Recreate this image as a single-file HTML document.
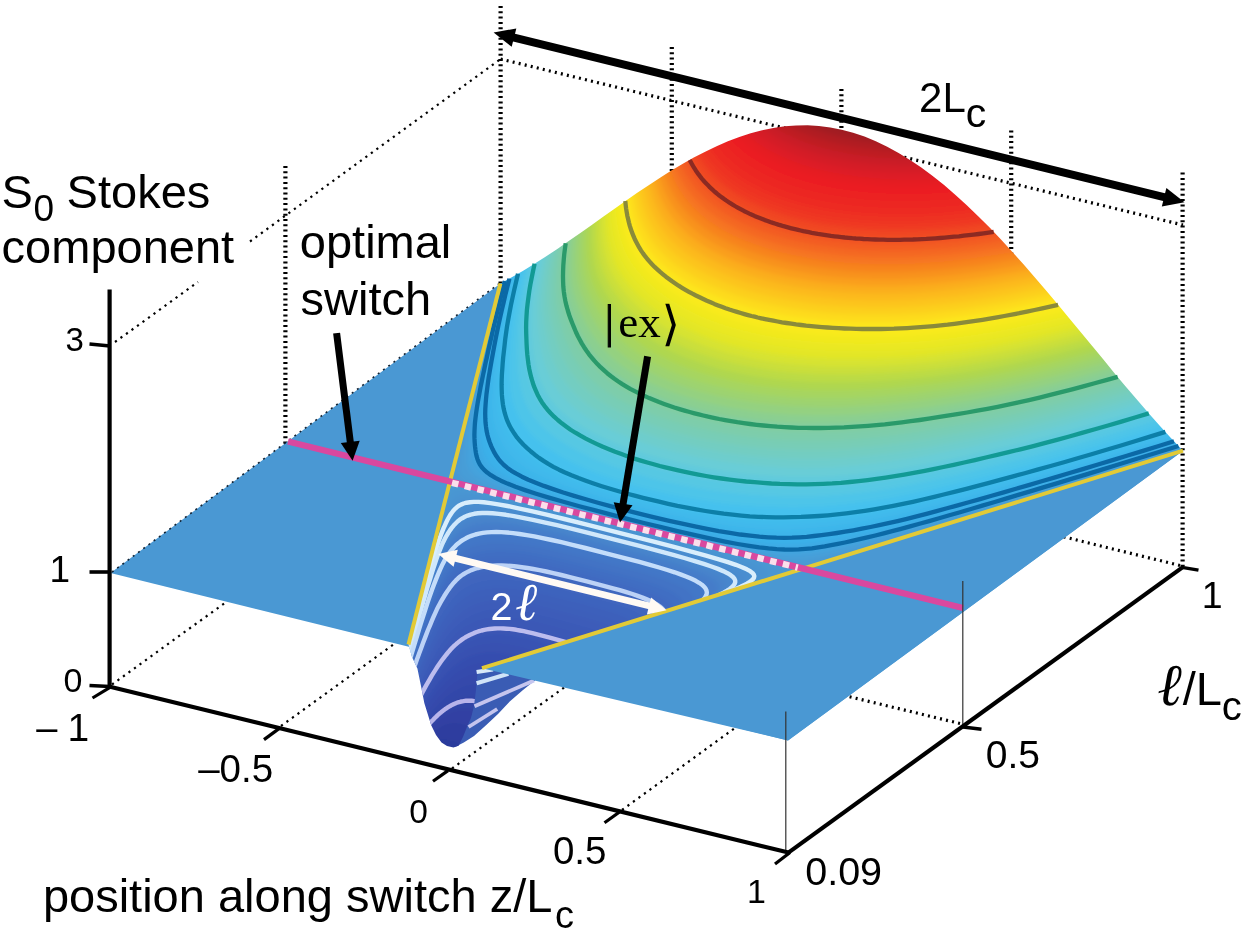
<!DOCTYPE html>
<html><head><meta charset="utf-8"><title>S0 Stokes component</title>
<style>
html,body{margin:0;padding:0;background:#fff}
svg{display:block}
</style></head><body>
<svg width="1250" height="933" viewBox="0 0 1250 933" font-family="Liberation Sans, sans-serif">
<rect width="1250" height="933" fill="#fff"/>
<defs><clipPath id="wc"><path d="M449.9,481.9 L408.5,644.5 L412.0,657.0 L417.4,668.6 L421.0,686.0 L424.3,703.0 L431.2,725.2 L436.0,735.0 L441.5,742.4 L447.0,746.0 L453.5,747.5 L458.6,745.8 L463.0,737.0 L467.0,727.0 L471.0,718.0 L474.0,706.0 L476.0,690.0 L477.5,672.0 L482.0,668.2 L797.8,570.2Z"/></clipPath><clipPath id="mc"><path d="M449.9,481.9 L500.4,283.5 L511.8,277.3 L523.2,270.7 L534.5,263.8 L545.9,256.5 L557.3,248.9 L568.7,241.1 L580.0,233.2 L591.4,225.2 L602.8,217.1 L614.2,209.0 L625.5,201.0 L636.9,193.1 L648.3,185.4 L659.7,178.0 L671.0,170.8 L682.4,164.0 L693.8,157.6 L705.2,151.7 L716.6,146.2 L727.9,141.3 L739.3,137.0 L750.7,133.3 L762.1,130.3 L773.4,127.9 L784.8,126.3 L796.2,125.4 L807.6,125.3 L818.9,126.0 L830.3,127.4 L841.7,129.7 L853.1,132.7 L864.5,136.6 L875.8,141.3 L887.2,146.7 L898.6,152.9 L910.0,159.9 L921.3,167.6 L932.7,176.0 L944.1,185.1 L955.5,194.9 L966.8,205.2 L978.2,216.2 L989.6,227.6 L1001.0,239.5 L1012.4,251.9 L1023.7,264.6 L1035.1,277.7 L1046.5,291.0 L1057.9,304.5 L1069.2,318.2 L1080.6,332.0 L1092.0,345.8 L1103.4,359.6 L1114.7,373.4 L1126.1,386.9 L1137.5,400.3 L1148.9,413.4 L1160.2,426.2 L1171.6,438.7 L1183.0,450.7 L797.8,570.2Z"/></clipPath><filter id="bl" x="-3%" y="-3%" width="106%" height="106%"><feGaussianBlur stdDeviation="2.2"/></filter></defs>
<line x1="115.0" y1="342.0" x2="198.0" y2="282.0" stroke="#000" stroke-width="2.20" stroke-dasharray="2.2,4.6"/>
<line x1="250.0" y1="241.5" x2="500.6" y2="59.0" stroke="#000" stroke-width="2.20" stroke-dasharray="2.2,4.6"/>
<line x1="500.6" y1="59.0" x2="1183.0" y2="225.0" stroke="#000" stroke-width="3.20" stroke-dasharray="2,4.2"/>
<line x1="285.4" y1="166.0" x2="285.4" y2="445.0" stroke="#000" stroke-width="4.20" stroke-dasharray="2,3.3"/>
<line x1="500.6" y1="6.0" x2="500.6" y2="284.0" stroke="#000" stroke-width="4.20" stroke-dasharray="2,3.3"/>
<line x1="671.8" y1="47.0" x2="671.8" y2="200.0" stroke="#000" stroke-width="4.20" stroke-dasharray="2,3.3"/>
<line x1="841.4" y1="89.0" x2="841.4" y2="150.0" stroke="#000" stroke-width="4.20" stroke-dasharray="2,3.3"/>
<line x1="1011.2" y1="130.5" x2="1011.2" y2="280.0" stroke="#000" stroke-width="4.20" stroke-dasharray="2,3.3"/>
<line x1="1182.6" y1="172.6" x2="1182.6" y2="566.0" stroke="#000" stroke-width="4.20" stroke-dasharray="2,3.3"/>
<line x1="112.0" y1="684.5" x2="240.0" y2="592.0" stroke="#000" stroke-width="2.20" stroke-dasharray="2.2,4.6"/>
<line x1="281.0" y1="726.0" x2="410.0" y2="632.5" stroke="#000" stroke-width="2.20" stroke-dasharray="2.2,4.6"/>
<line x1="452.0" y1="768.5" x2="580.0" y2="676.0" stroke="#000" stroke-width="2.20" stroke-dasharray="2.2,4.6"/>
<line x1="622.0" y1="810.0" x2="750.0" y2="717.0" stroke="#000" stroke-width="2.20" stroke-dasharray="2.2,4.6"/>
<line x1="960.0" y1="723.5" x2="830.0" y2="692.0" stroke="#000" stroke-width="3.20" stroke-dasharray="2,4.2"/>
<line x1="1180.0" y1="565.5" x2="1040.0" y2="531.0" stroke="#000" stroke-width="3.20" stroke-dasharray="2,4.2"/>
<path d="M110.5,573.0 L788.0,740.5 L1183.0,450.7 L500.4,283.5Z" fill="#4a98d3"/>
<line x1="112.0" y1="572.0" x2="500.0" y2="283.0" stroke="#123" stroke-width="1.60" stroke-dasharray="2,4.5"/>
<g clip-path="url(#mc)"><g filter="url(#bl)">
<path d="M429.1,497.7 L469.6,254.9 L863.5,-37.1 L1257.3,447.5 L775.0,586.2Z" fill="#4a98d3"/>
<path d="M506.2,263.3 L502.2,278.9 L498.4,293.9 L494.7,308.3 L491.3,322.0 L488.0,335.2 L484.8,347.7 L481.9,359.6 L479.1,370.9 L476.4,381.6 L473.9,391.8 L471.6,401.3 L469.5,410.3 L467.5,418.6 L465.7,426.5 L464.1,433.8 L462.7,440.5 L461.4,446.7 L460.4,452.4 L459.5,457.5 L458.9,462.2 L458.6,466.4 L458.9,470.2 L459.7,473.6 L461.7,476.8 L465.3,480.0 L472.0,483.4 L484.9,488.0 L510.6,495.4 L559.2,508.2 L624.6,524.9 L690.2,541.4 L739.8,553.6 L767.3,559.7 L782.9,562.3 L793.2,563.1 L801.4,562.9 L808.9,562.0 L816.4,560.6 L824.4,558.8 L833.0,556.6 L842.3,554.0 L852.5,551.0 L863.7,547.8 L875.9,544.2 L889.1,540.2 L903.4,535.9 L918.7,531.3 L935.1,526.3 L952.5,520.9 L971.1,515.2 L990.8,509.2 L1011.6,502.7 L1033.6,496.0 L1056.8,488.8 L1081.1,481.3 L1106.7,473.4 L1133.4,465.1 L1161.3,456.4 L1190.4,447.4 L1220.8,438.0 L1191.0,405.0 L1161.2,368.9 L1131.5,330.8 L1101.7,291.9 L1071.9,253.2 L1042.1,216.1 L1012.4,181.4 L982.6,150.4 L952.8,123.8 L923.0,102.3 L893.3,86.4 L863.5,76.6 L833.7,72.7 L803.9,74.8 L774.2,82.4 L744.4,95.0 L714.6,111.8 L684.8,132.0 L655.1,154.5 L625.3,178.3 L595.5,202.2 L565.7,225.0 L536.0,245.7Z" fill="#479dd7"/>
<path d="M507.6,262.5 L503.7,278.0 L499.9,293.0 L496.3,307.2 L492.9,320.9 L489.7,334.0 L486.7,346.5 L483.9,358.3 L481.2,369.6 L478.7,380.3 L476.4,390.4 L474.3,399.9 L472.4,408.9 L470.7,417.3 L469.3,425.2 L468.2,432.5 L467.3,439.4 L466.7,445.7 L466.3,451.5 L466.2,456.8 L466.5,461.7 L467.5,466.2 L469.5,470.4 L472.9,474.4 L478.2,478.5 L486.4,482.8 L499.3,487.8 L519.1,494.1 L548.2,502.3 L586.4,512.5 L626.1,522.7 L666.1,532.7 L705.3,542.2 L736.1,549.1 L758.5,553.5 L775.0,555.9 L787.8,556.9 L798.6,556.9 L808.6,556.1 L818.2,554.7 L828.0,552.8 L838.2,550.5 L849.1,547.8 L860.9,544.7 L873.7,541.3 L887.4,537.5 L902.0,533.3 L917.5,528.8 L934.1,523.9 L951.7,518.7 L970.4,513.0 L990.1,507.1 L1011.0,500.7 L1033.0,494.0 L1056.1,486.9 L1080.4,479.5 L1105.8,471.6 L1132.4,463.4 L1160.2,454.8 L1189.2,445.8 L1219.3,436.5 L1189.7,403.5 L1160.0,367.4 L1130.4,329.4 L1100.7,290.6 L1071.1,252.2 L1041.4,215.2 L1011.8,180.8 L982.1,149.9 L952.4,123.5 L922.8,102.1 L893.1,86.4 L863.5,76.6 L833.8,72.7 L804.2,74.7 L774.5,82.2 L744.9,94.7 L715.2,111.4 L685.6,131.5 L655.9,153.8 L626.2,177.5 L596.6,201.3 L566.9,224.1 L537.3,244.9Z" fill="#44a2dc"/>
<path d="M509.1,261.7 L505.1,277.2 L501.4,292.0 L497.9,306.2 L494.5,319.8 L491.4,332.8 L488.5,345.2 L485.8,357.1 L483.3,368.3 L481.0,378.9 L478.9,389.0 L477.0,398.5 L475.3,407.5 L473.9,415.9 L472.8,423.8 L472.1,431.3 L471.7,438.2 L471.7,444.6 L472.0,450.5 L472.6,456.0 L473.7,461.0 L475.7,465.8 L479.0,470.3 L484.0,474.7 L491.3,479.3 L501.9,484.1 L516.9,489.7 L537.6,496.2 L564.6,503.9 L596.5,512.5 L627.6,520.5 L658.9,528.3 L691.7,536.2 L720.5,542.6 L743.9,547.2 L762.5,550.1 L777.6,551.7 L790.4,552.2 L801.9,551.9 L812.9,550.9 L823.6,549.2 L834.5,547.1 L846.0,544.6 L858.4,541.7 L871.6,538.4 L885.7,534.8 L900.7,530.8 L916.5,526.4 L933.2,521.6 L950.9,516.4 L969.7,510.9 L989.4,504.9 L1010.3,498.7 L1032.3,492.0 L1055.4,485.0 L1079.7,477.6 L1105.0,469.9 L1131.5,461.7 L1159.1,453.2 L1187.9,444.3 L1217.9,435.0 L1188.4,401.9 L1158.8,365.9 L1129.3,328.0 L1099.8,289.4 L1070.2,251.1 L1040.7,214.3 L1011.2,180.1 L981.6,149.4 L952.1,123.2 L922.6,102.0 L893.0,86.3 L863.5,76.6 L833.9,72.7 L804.4,74.7 L774.9,82.1 L745.3,94.5 L715.8,111.0 L686.3,130.9 L656.7,153.2 L627.2,176.7 L597.7,200.4 L568.1,223.2 L538.6,244.0Z" fill="#40a6e0"/>
<path d="M510.5,261.0 L506.6,276.3 L502.9,291.0 L499.4,305.2 L496.1,318.7 L493.1,331.6 L490.3,344.0 L487.8,355.8 L485.4,367.0 L483.2,377.6 L481.3,387.6 L479.6,397.1 L478.1,406.1 L477.0,414.5 L476.3,422.5 L475.9,429.9 L476.0,436.9 L476.5,443.5 L477.4,449.5 L478.6,455.1 L480.5,460.3 L483.2,465.2 L487.5,469.9 L493.6,474.6 L502.2,479.5 L513.9,484.6 L529.7,490.3 L550.0,496.8 L574.9,503.9 L602.7,511.4 L629.1,518.3 L655.7,524.9 L684.5,531.7 L711.0,537.6 L734.0,542.1 L753.3,545.2 L769.6,547.1 L783.6,548.0 L796.3,547.9 L808.1,547.1 L819.5,545.7 L831.1,543.8 L843.2,541.4 L856.1,538.7 L869.8,535.6 L884.2,532.1 L899.5,528.2 L915.5,523.9 L932.4,519.2 L950.2,514.1 L969.0,508.7 L988.8,502.8 L1009.7,496.6 L1031.6,490.1 L1054.7,483.1 L1078.9,475.8 L1104.2,468.1 L1130.6,460.0 L1158.0,451.6 L1186.7,442.7 L1216.5,433.4 L1187.1,400.4 L1157.6,364.4 L1128.2,326.6 L1098.8,288.1 L1069.4,250.0 L1040.0,213.5 L1010.6,179.5 L981.1,149.0 L951.7,122.9 L922.3,101.8 L892.9,86.3 L863.5,76.6 L834.1,72.7 L804.6,74.7 L775.2,82.0 L745.8,94.2 L716.4,110.7 L687.0,130.4 L657.6,152.5 L628.2,176.0 L598.7,199.6 L569.3,222.3 L539.9,243.1Z" fill="#3dabe5"/>
<path d="M511.9,260.2 L508.0,275.4 L504.4,290.1 L500.9,304.1 L497.7,317.6 L494.8,330.4 L492.1,342.7 L489.7,354.5 L487.5,365.6 L485.5,376.2 L483.7,386.2 L482.2,395.7 L480.9,404.7 L480.1,413.1 L479.6,421.1 L479.7,428.6 L480.2,435.7 L481.2,442.3 L482.7,448.4 L484.5,454.1 L486.9,459.5 L490.3,464.5 L495.2,469.4 L502.1,474.3 L511.5,479.3 L523.8,484.6 L539.7,490.3 L559.3,496.5 L582.3,503.2 L607.2,510.0 L630.6,516.0 L654.1,521.9 L680.0,528.0 L704.7,533.4 L727.0,537.7 L746.3,540.9 L763.1,542.9 L777.9,544.0 L791.3,544.1 L803.7,543.5 L815.7,542.3 L827.9,540.5 L840.5,538.3 L853.9,535.8 L868.1,532.8 L882.8,529.5 L898.3,525.7 L914.6,521.5 L931.6,516.9 L949.5,511.9 L968.4,506.5 L988.2,500.7 L1009.1,494.6 L1031.0,488.1 L1054.1,481.3 L1078.2,474.0 L1103.4,466.4 L1129.6,458.4 L1157.0,449.9 L1185.5,441.1 L1215.1,431.9 L1185.8,398.8 L1156.5,362.9 L1127.2,325.3 L1097.9,286.9 L1068.6,249.0 L1039.3,212.6 L1010.0,178.8 L980.7,148.5 L951.4,122.6 L922.1,101.7 L892.8,86.2 L863.5,76.6 L834.2,72.7 L804.9,74.6 L775.6,81.9 L746.3,94.0 L717.0,110.3 L687.7,129.9 L658.4,151.9 L629.1,175.2 L599.8,198.8 L570.5,221.5 L541.2,242.3Z" fill="#3ab0e9"/>
<path d="M513.3,259.4 L509.5,274.6 L505.9,289.1 L502.5,303.1 L499.3,316.4 L496.5,329.2 L493.9,341.5 L491.7,353.2 L489.6,364.3 L487.7,374.8 L486.0,384.8 L484.7,394.3 L483.7,403.3 L483.1,411.7 L482.9,419.7 L483.3,427.2 L484.2,434.3 L485.7,441.0 L487.7,447.3 L490.1,453.1 L493.1,458.5 L497.0,463.7 L502.4,468.7 L509.9,473.7 L519.7,478.8 L532.3,484.1 L548.0,489.8 L566.8,495.8 L588.2,502.1 L611.0,508.3 L632.1,513.8 L653.4,519.1 L677.1,524.6 L700.3,529.6 L721.7,533.8 L740.8,536.9 L757.9,539.0 L773.1,540.2 L787.0,540.5 L799.8,540.0 L812.3,538.9 L825.0,537.3 L838.1,535.3 L852.0,532.9 L866.5,530.1 L881.6,526.9 L897.3,523.2 L913.7,519.1 L930.9,514.6 L948.9,509.6 L967.8,504.3 L987.6,498.7 L1008.5,492.6 L1030.4,486.2 L1053.5,479.4 L1077.6,472.2 L1102.6,464.6 L1128.7,456.7 L1155.9,448.3 L1184.2,439.6 L1213.7,430.4 L1184.5,397.3 L1155.3,361.5 L1126.1,323.9 L1096.9,285.7 L1067.8,247.9 L1038.6,211.8 L1009.4,178.2 L980.2,148.1 L951.0,122.3 L921.8,101.5 L892.7,86.2 L863.5,76.6 L834.3,72.7 L805.1,74.6 L775.9,81.8 L746.8,93.8 L717.6,109.9 L688.4,129.4 L659.2,151.3 L630.0,174.5 L600.8,197.9 L571.7,220.6 L542.5,241.4Z" fill="#3bb2ea"/>
<path d="M514.7,258.6 L510.9,273.7 L507.3,288.1 L504.0,302.0 L500.9,315.3 L498.2,328.0 L495.7,340.2 L493.6,351.9 L491.6,362.9 L489.9,373.5 L488.4,383.4 L487.2,392.9 L486.4,401.8 L486.0,410.3 L486.1,418.3 L486.8,425.8 L488.1,433.0 L490.0,439.7 L492.5,446.1 L495.5,452.0 L499.0,457.5 L503.4,462.8 L509.2,467.9 L516.9,472.9 L527.0,478.1 L539.6,483.4 L555.0,489.0 L573.0,494.8 L593.1,500.7 L614.2,506.5 L633.6,511.6 L653.2,516.4 L675.2,521.5 L697.0,526.2 L717.6,530.1 L736.4,533.2 L753.5,535.3 L768.9,536.5 L783.1,536.9 L796.3,536.6 L809.2,535.6 L822.3,534.2 L835.9,532.3 L850.2,530.1 L865.1,527.4 L880.5,524.3 L896.4,520.7 L913.0,516.7 L930.2,512.2 L948.3,507.4 L967.2,502.2 L987.1,496.6 L1008.0,490.6 L1029.9,484.2 L1052.9,477.5 L1076.9,470.4 L1101.9,462.9 L1127.9,455.0 L1154.9,446.7 L1183.0,438.0 L1212.3,428.9 L1183.2,395.8 L1154.1,360.0 L1125.1,322.5 L1096.0,284.5 L1066.9,246.9 L1037.9,210.9 L1008.8,177.5 L979.7,147.6 L950.7,122.0 L921.6,101.4 L892.5,86.1 L863.5,76.6 L834.4,72.7 L805.4,74.5 L776.3,81.7 L747.2,93.6 L718.2,109.6 L689.1,128.9 L660.0,150.6 L631.0,173.7 L601.9,197.1 L572.8,219.7 L543.8,240.6Z" fill="#3cb4ea"/>
<path d="M516.1,257.9 L512.3,272.8 L508.8,287.2 L505.5,300.9 L502.5,314.2 L499.8,326.8 L497.5,339.0 L495.5,350.6 L493.6,361.6 L492.0,372.1 L490.7,382.0 L489.7,391.4 L489.1,400.3 L488.9,408.8 L489.2,416.8 L490.2,424.4 L491.8,431.6 L494.1,438.4 L497.1,444.8 L500.6,450.9 L504.6,456.5 L509.5,461.8 L515.6,466.9 L523.5,472.0 L533.7,477.2 L546.3,482.5 L561.2,488.0 L578.5,493.6 L597.4,499.2 L617.1,504.6 L635.1,509.3 L653.4,513.8 L674.0,518.6 L694.6,522.9 L714.4,526.7 L732.8,529.6 L749.8,531.8 L765.3,533.0 L779.5,533.5 L793.0,533.2 L806.3,532.4 L819.9,531.1 L834.0,529.4 L848.7,527.3 L863.8,524.7 L879.4,521.7 L895.6,518.2 L912.3,514.3 L929.6,509.9 L947.7,505.2 L966.7,500.0 L986.6,494.5 L1007.4,488.6 L1029.3,482.3 L1052.3,475.6 L1076.2,468.6 L1101.1,461.1 L1127.0,453.3 L1153.9,445.1 L1181.8,436.4 L1210.9,427.4 L1181.9,394.3 L1153.0,358.5 L1124.0,321.2 L1095.1,283.3 L1066.1,245.9 L1037.2,210.1 L1008.2,176.9 L979.3,147.2 L950.3,121.8 L921.4,101.2 L892.4,86.1 L863.5,76.6 L834.5,72.7 L805.6,74.5 L776.6,81.5 L747.7,93.3 L718.7,109.2 L689.8,128.4 L660.8,150.0 L631.9,173.0 L602.9,196.3 L574.0,218.8 L545.0,239.7Z" fill="#3eb6ea"/>
<path d="M517.4,257.1 L513.7,271.9 L510.2,286.2 L507.0,299.9 L504.1,313.0 L501.5,325.6 L499.2,337.7 L497.3,349.2 L495.6,360.2 L494.2,370.6 L493.0,380.6 L492.2,389.9 L491.7,398.9 L491.7,407.3 L492.3,415.3 L493.5,422.9 L495.4,430.1 L498.1,437.0 L501.5,443.5 L505.5,449.6 L510.0,455.3 L515.3,460.7 L521.7,465.9 L529.8,471.0 L539.9,476.2 L552.3,481.4 L566.8,486.8 L583.4,492.2 L601.3,497.5 L619.8,502.6 L636.7,507.0 L653.8,511.2 L673.2,515.7 L692.8,519.8 L711.8,523.4 L729.8,526.3 L746.6,528.3 L762.0,529.6 L776.3,530.1 L790.1,529.9 L803.7,529.2 L817.7,528.0 L832.3,526.5 L847.3,524.5 L862.7,522.0 L878.5,519.1 L894.8,515.7 L911.6,511.9 L929.1,507.6 L947.2,502.9 L966.2,497.8 L986.1,492.4 L1007.0,486.5 L1028.8,480.3 L1051.7,473.7 L1075.6,466.8 L1100.4,459.4 L1126.1,451.6 L1152.8,443.4 L1180.6,434.9 L1209.5,425.9 L1180.7,392.8 L1151.8,357.1 L1123.0,319.8 L1094.2,282.1 L1065.3,244.9 L1036.5,209.3 L1007.7,176.3 L978.8,146.8 L950.0,121.5 L921.2,101.1 L892.3,86.0 L863.5,76.6 L834.6,72.7 L805.8,74.5 L777.0,81.4 L748.1,93.1 L719.3,108.9 L690.5,127.9 L661.6,149.4 L632.8,172.2 L604.0,195.4 L575.1,218.0 L546.3,238.8Z" fill="#3fb8eb"/>
<path d="M518.8,256.3 L515.1,271.0 L511.7,285.2 L508.5,298.8 L505.6,311.9 L503.1,324.4 L501.0,336.4 L499.2,347.9 L497.6,358.8 L496.3,369.2 L495.3,379.1 L494.6,388.5 L494.3,397.3 L494.5,405.8 L495.2,413.8 L496.7,421.4 L498.9,428.6 L501.9,435.5 L505.7,442.1 L510.2,448.3 L515.2,454.1 L520.9,459.6 L527.6,464.8 L535.8,469.9 L545.8,475.0 L557.9,480.2 L572.0,485.4 L587.8,490.6 L604.9,495.8 L622.3,500.6 L638.2,504.8 L654.4,508.7 L672.7,512.9 L691.4,516.8 L709.8,520.2 L727.3,523.0 L743.7,525.0 L759.0,526.2 L773.4,526.8 L787.4,526.7 L801.4,526.1 L815.8,525.1 L830.8,523.6 L846.1,521.8 L861.8,519.4 L877.8,516.6 L894.2,513.3 L911.1,509.5 L928.6,505.3 L946.8,500.7 L965.8,495.7 L985.7,490.3 L1006.5,484.5 L1028.3,478.4 L1051.2,471.9 L1075.0,465.0 L1099.6,457.7 L1125.2,449.9 L1151.8,441.8 L1179.5,433.3 L1208.2,424.4 L1179.4,391.3 L1150.7,355.6 L1122.0,318.5 L1093.3,280.9 L1064.5,243.9 L1035.8,208.5 L1007.1,175.7 L978.4,146.3 L949.7,121.2 L920.9,101.0 L892.2,86.0 L863.5,76.6 L834.8,72.7 L806.0,74.4 L777.3,81.3 L748.6,92.9 L719.9,108.5 L691.1,127.5 L662.4,148.8 L633.7,171.5 L605.0,194.6 L576.3,217.1 L547.5,238.0Z" fill="#40baec"/>
<path d="M520.2,255.5 L516.5,270.1 L513.1,284.2 L510.0,297.7 L507.2,310.7 L504.7,323.2 L502.7,335.1 L501.0,346.5 L499.6,357.4 L498.4,367.8 L497.5,377.6 L497.0,386.9 L496.8,395.8 L497.2,404.2 L498.2,412.2 L499.8,419.8 L502.3,427.1 L505.6,434.0 L509.7,440.6 L514.6,446.9 L520.1,452.8 L526.2,458.4 L533.2,463.6 L541.5,468.8 L551.4,473.8 L563.1,478.9 L576.8,483.9 L592.0,489.0 L608.2,493.9 L624.7,498.5 L639.8,502.5 L655.1,506.2 L672.5,510.2 L690.4,513.9 L708.1,517.1 L725.1,519.7 L741.2,521.7 L756.3,522.9 L770.8,523.5 L785.1,523.5 L799.4,523.0 L814.2,522.1 L829.5,520.8 L845.1,519.0 L861.0,516.8 L877.1,514.0 L893.7,510.8 L910.6,507.1 L928.2,503.0 L946.4,498.5 L965.4,493.5 L985.3,488.2 L1006.1,482.5 L1027.9,476.4 L1050.7,470.0 L1074.4,463.2 L1098.9,455.9 L1124.4,448.3 L1150.8,440.2 L1178.3,431.8 L1206.8,422.9 L1178.2,389.8 L1149.6,354.2 L1121.0,317.2 L1092.4,279.7 L1063.8,242.9 L1035.1,207.7 L1006.5,175.0 L977.9,145.9 L949.3,121.0 L920.7,100.8 L892.1,85.9 L863.5,76.6 L834.9,72.8 L806.3,74.4 L777.7,81.2 L749.0,92.7 L720.4,108.2 L691.8,127.0 L663.2,148.2 L634.6,170.8 L606.0,193.8 L577.4,216.3 L548.8,237.1Z" fill="#41bbec"/>
<path d="M521.5,254.7 L517.9,269.2 L514.6,283.2 L511.5,296.6 L508.7,309.5 L506.4,321.9 L504.4,333.8 L502.9,345.2 L501.6,356.0 L500.5,366.3 L499.7,376.1 L499.3,385.4 L499.3,394.2 L499.9,402.6 L501.0,410.6 L502.9,418.2 L505.6,425.5 L509.1,432.5 L513.5,439.1 L518.8,445.4 L524.7,451.4 L531.2,457.0 L538.5,462.4 L547.0,467.5 L556.8,472.5 L568.3,477.5 L581.3,482.4 L595.9,487.3 L611.4,492.0 L627.1,496.4 L641.4,500.2 L655.9,503.7 L672.6,507.5 L689.7,511.0 L706.7,514.1 L723.2,516.5 L738.8,518.4 L753.9,519.6 L768.5,520.3 L783.0,520.4 L797.7,520.0 L812.9,519.2 L828.5,518.0 L844.3,516.4 L860.3,514.2 L876.6,511.5 L893.2,508.4 L910.2,504.8 L927.8,500.7 L946.1,496.2 L965.1,491.4 L985.0,486.1 L1005.7,480.5 L1027.5,474.5 L1050.2,468.1 L1073.8,461.3 L1098.3,454.2 L1123.6,446.6 L1149.9,438.6 L1177.1,430.2 L1205.5,421.5 L1177.0,388.3 L1148.5,352.8 L1120.0,315.8 L1091.5,278.5 L1063.0,241.9 L1034.5,206.9 L1006.0,174.4 L977.5,145.5 L949.0,120.7 L920.5,100.7 L892.0,85.9 L863.5,76.6 L835.0,72.8 L806.5,74.4 L778.0,81.1 L749.5,92.5 L721.0,107.9 L692.5,126.5 L664.0,147.6 L635.5,170.1 L607.0,193.0 L578.5,215.4 L550.0,236.3Z" fill="#42bdec"/>
<path d="M522.2,254.3 L518.6,268.8 L515.3,282.7 L512.2,296.1 L509.5,309.0 L507.2,321.3 L505.3,333.1 L503.8,344.5 L502.5,355.3 L501.5,365.6 L500.8,375.3 L500.5,384.6 L500.6,393.5 L501.2,401.8 L502.4,409.8 L504.4,417.4 L507.1,424.7 L510.8,431.7 L515.3,438.3 L520.8,444.7 L526.9,450.7 L533.6,456.3 L541.1,461.7 L549.6,466.8 L559.5,471.8 L570.8,476.8 L583.6,481.6 L597.8,486.4 L612.9,491.0 L628.3,495.4 L642.2,499.0 L656.4,502.5 L672.6,506.1 L689.4,509.5 L706.1,512.5 L722.2,515.0 L737.8,516.8 L752.8,518.0 L767.5,518.7 L782.1,518.8 L797.0,518.5 L812.3,517.8 L828.0,516.7 L843.9,515.0 L860.0,512.9 L876.4,510.3 L893.0,507.2 L910.1,503.6 L927.7,499.6 L946.0,495.1 L965.0,490.3 L984.8,485.1 L1005.6,479.5 L1027.3,473.5 L1050.0,467.2 L1073.6,460.4 L1097.9,453.3 L1123.2,445.7 L1149.4,437.8 L1176.6,429.4 L1204.8,420.7 L1176.3,387.6 L1147.9,352.1 L1119.5,315.2 L1091.0,278.0 L1062.6,241.4 L1034.1,206.5 L1005.7,174.1 L977.3,145.3 L948.8,120.6 L920.4,100.6 L891.9,85.9 L863.5,76.6 L835.0,72.8 L806.6,74.4 L778.2,81.0 L749.7,92.4 L721.3,107.7 L692.8,126.3 L664.4,147.3 L635.9,169.7 L607.5,192.6 L579.1,215.0 L550.6,235.8Z" fill="#45c1ee"/>
<path d="M527.5,251.1 L524.1,265.1 L521.0,278.7 L518.1,291.6 L515.6,304.1 L513.6,316.1 L512.0,327.7 L510.9,338.7 L510.2,349.3 L509.6,359.4 L509.4,369.0 L509.6,378.1 L510.2,386.7 L511.3,395.0 L513.0,402.9 L515.5,410.4 L518.8,417.6 L523.1,424.5 L528.3,431.2 L534.5,437.5 L541.7,443.7 L549.8,449.6 L558.4,455.1 L567.7,460.3 L577.7,465.3 L588.5,470.0 L600.0,474.5 L612.3,478.8 L625.0,482.7 L637.7,486.4 L649.2,489.4 L660.9,492.2 L674.5,495.2 L688.7,498.0 L703.4,500.5 L718.2,502.7 L733.1,504.4 L748.1,505.7 L763.3,506.6 L778.9,507.1 L794.9,507.2 L811.0,506.8 L827.1,505.9 L843.4,504.5 L859.7,502.6 L876.2,500.3 L892.9,497.4 L909.9,494.1 L927.5,490.3 L945.7,486.1 L964.6,481.6 L984.3,476.6 L1004.8,471.3 L1026.3,465.6 L1048.7,459.6 L1071.8,453.1 L1095.6,446.2 L1120.2,439.0 L1145.7,431.3 L1172.1,423.2 L1199.5,414.8 L1171.5,381.7 L1143.5,346.4 L1115.5,310.0 L1087.5,273.4 L1059.5,237.5 L1031.5,203.3 L1003.5,171.8 L975.5,143.6 L947.5,119.5 L919.5,100.1 L891.5,85.7 L863.5,76.6 L835.5,72.8 L807.5,74.2 L779.5,80.6 L751.5,91.5 L723.5,106.4 L695.5,124.4 L667.5,144.9 L639.5,166.9 L611.5,189.4 L583.5,211.6 L555.5,232.4Z" fill="#4dc5e9"/>
<path d="M532.6,247.9 L529.4,261.4 L526.5,274.5 L523.9,287.1 L521.7,299.2 L519.9,310.8 L518.6,322.0 L517.9,332.7 L517.5,343.0 L517.4,352.9 L517.6,362.2 L518.1,371.1 L519.1,379.6 L520.6,387.6 L522.7,395.3 L525.4,402.7 L528.9,409.7 L533.4,416.4 L538.7,422.9 L545.0,429.2 L552.3,435.2 L560.5,440.9 L569.5,446.5 L579.4,451.7 L589.8,456.7 L600.6,461.4 L611.8,465.7 L623.2,469.7 L634.8,473.4 L646.3,476.7 L656.6,479.4 L667.2,481.9 L679.5,484.6 L692.6,487.1 L706.4,489.5 L720.7,491.5 L735.5,493.3 L750.7,494.7 L766.3,495.8 L782.1,496.5 L797.9,496.6 L813.7,496.4 L829.6,495.6 L845.6,494.3 L861.7,492.6 L877.9,490.4 L894.4,487.7 L911.2,484.6 L928.6,481.0 L946.6,477.1 L965.2,472.8 L984.6,468.1 L1004.8,463.1 L1026.0,457.7 L1047.9,451.9 L1070.4,445.8 L1093.6,439.2 L1117.5,432.2 L1142.2,424.8 L1167.8,417.0 L1194.4,408.9 L1166.8,375.8 L1139.2,340.9 L1111.6,304.9 L1084.1,268.9 L1056.5,233.7 L1028.9,200.3 L1001.3,169.5 L973.8,142.0 L946.2,118.5 L918.6,99.6 L891.1,85.5 L863.5,76.6 L835.9,72.8 L808.3,74.1 L780.8,80.2 L753.2,90.8 L725.6,105.1 L698.0,122.7 L670.5,142.6 L642.9,164.1 L615.3,186.3 L587.8,208.2 L560.2,229.1Z" fill="#56c8e3"/>
<path d="M537.7,244.6 L534.7,257.7 L532.0,270.4 L529.6,282.5 L527.6,294.3 L526.0,305.5 L525.0,316.4 L524.5,326.8 L524.5,336.9 L524.8,346.5 L525.4,355.6 L526.3,364.3 L527.6,372.5 L529.4,380.4 L531.7,387.9 L534.7,395.1 L538.3,401.9 L542.8,408.5 L548.1,414.8 L554.3,420.9 L561.4,426.7 L569.3,432.3 L578.0,437.6 L587.5,442.7 L597.6,447.5 L608.3,452.0 L619.5,456.3 L630.9,460.3 L642.4,463.9 L653.6,467.1 L663.7,469.7 L673.9,472.2 L686.0,474.8 L698.9,477.3 L712.6,479.6 L726.7,481.7 L741.3,483.5 L756.1,484.9 L771.1,485.9 L786.3,486.5 L801.6,486.7 L817.0,486.4 L832.5,485.7 L848.0,484.5 L863.7,482.9 L879.6,480.8 L895.8,478.3 L912.5,475.3 L929.6,472.0 L947.3,468.3 L965.7,464.2 L984.8,459.8 L1004.8,455.0 L1025.5,449.9 L1047.0,444.4 L1068.9,438.5 L1091.5,432.2 L1114.7,425.4 L1138.7,418.3 L1163.6,410.8 L1189.3,403.0 L1162.1,370.1 L1135.0,335.4 L1107.8,300.0 L1080.7,264.5 L1053.5,230.1 L1026.4,197.4 L999.2,167.3 L972.1,140.4 L944.9,117.6 L917.8,99.1 L890.6,85.3 L863.5,76.6 L836.3,72.8 L809.2,74.0 L782.0,79.9 L754.9,90.0 L727.7,103.9 L700.6,120.9 L673.4,140.4 L646.3,161.4 L619.1,183.2 L592.0,204.9 L564.8,225.7Z" fill="#60cadd"/>
<path d="M542.6,241.3 L539.8,254.1 L537.4,266.4 L535.1,278.2 L533.3,289.5 L532.0,300.5 L531.1,311.1 L531.0,321.3 L531.3,331.1 L532.0,340.4 L532.9,349.4 L534.1,357.9 L535.7,366.0 L537.8,373.7 L540.4,381.1 L543.6,388.1 L547.4,394.8 L551.9,401.2 L557.2,407.4 L563.4,413.3 L570.4,418.9 L578.1,424.3 L586.6,429.5 L595.9,434.4 L605.7,439.1 L616.1,443.5 L626.9,447.6 L637.9,451.4 L649.0,454.9 L660.0,458.1 L669.8,460.6 L679.9,463.1 L691.6,465.6 L704.2,468.0 L717.4,470.3 L731.1,472.3 L745.2,474.0 L759.6,475.3 L774.2,476.3 L788.9,477.0 L803.9,477.1 L818.9,476.9 L834.0,476.3 L849.3,475.1 L864.7,473.6 L880.3,471.6 L896.4,469.3 L912.8,466.5 L929.8,463.4 L947.3,459.9 L965.5,456.0 L984.4,451.8 L1004.1,447.3 L1024.6,442.4 L1045.6,437.1 L1067.0,431.4 L1089.0,425.3 L1111.7,418.8 L1135.1,411.9 L1159.3,404.7 L1184.3,397.2 L1157.6,364.4 L1130.9,330.1 L1104.1,295.1 L1077.4,260.3 L1050.6,226.5 L1023.9,194.5 L997.2,165.1 L970.4,138.9 L943.7,116.6 L917.0,98.6 L890.2,85.2 L863.5,76.6 L836.7,72.8 L810.0,73.9 L783.3,79.5 L756.5,89.3 L729.8,102.7 L703.1,119.3 L676.3,138.2 L649.6,158.8 L622.8,180.2 L596.1,201.7 L569.4,222.3Z" fill="#69cdd7"/>
<path d="M547.5,238.0 L544.9,250.4 L542.6,262.4 L540.6,273.8 L539.0,284.9 L537.8,295.6 L537.2,305.9 L537.2,315.8 L537.8,325.4 L538.9,334.6 L540.1,343.4 L541.7,351.7 L543.6,359.6 L546.0,367.2 L548.8,374.4 L552.2,381.3 L556.2,387.9 L560.8,394.2 L566.1,400.2 L572.2,405.9 L579.1,411.5 L586.7,416.7 L595.0,421.8 L604.0,426.5 L613.5,431.1 L623.6,435.3 L634.0,439.3 L644.7,443.0 L655.5,446.4 L666.0,449.4 L675.6,451.9 L685.3,454.2 L696.6,456.7 L708.8,459.1 L721.6,461.2 L734.9,463.1 L748.5,464.8 L762.5,466.1 L776.7,467.1 L791.1,467.7 L805.6,467.9 L820.3,467.7 L835.1,467.0 L850.0,466.0 L865.2,464.6 L880.7,462.7 L896.6,460.5 L912.9,457.9 L929.7,455.0 L947.0,451.6 L965.0,448.0 L983.7,444.0 L1003.2,439.7 L1023.4,435.0 L1044.0,429.9 L1065.0,424.4 L1086.5,418.5 L1108.6,412.3 L1131.4,405.6 L1155.1,398.7 L1179.5,391.3 L1153.1,358.7 L1126.8,324.8 L1100.5,290.3 L1074.1,256.1 L1047.8,223.0 L1021.5,191.7 L995.1,163.0 L968.8,137.5 L942.5,115.7 L916.1,98.1 L889.8,85.0 L863.5,76.6 L837.2,72.9 L810.8,73.8 L784.5,79.1 L758.2,88.6 L731.8,101.6 L705.5,117.7 L679.2,136.1 L652.8,156.3 L626.5,177.3 L600.2,198.5 L573.8,219.0Z" fill="#6ecdcc"/>
<path d="M552.3,234.7 L549.9,246.7 L547.8,258.4 L546.0,269.6 L544.5,280.3 L543.6,290.7 L543.1,300.8 L543.3,310.5 L544.2,319.8 L545.5,328.8 L547.2,337.4 L549.0,345.6 L551.2,353.4 L553.8,360.9 L556.9,368.0 L560.5,374.7 L564.7,381.2 L569.4,387.3 L574.8,393.2 L580.8,398.8 L587.5,404.2 L594.9,409.3 L603.0,414.2 L611.8,418.9 L621.0,423.2 L630.8,427.4 L640.8,431.2 L651.2,434.8 L661.6,438.1 L671.8,441.0 L681.0,443.4 L690.4,445.6 L701.4,448.0 L713.1,450.3 L725.5,452.4 L738.3,454.2 L751.6,455.8 L765.1,457.1 L778.9,458.0 L792.9,458.6 L807.0,458.8 L821.4,458.6 L835.8,458.0 L850.6,457.1 L865.6,455.7 L880.9,454.0 L896.6,451.9 L912.8,449.5 L929.4,446.7 L946.6,443.6 L964.4,440.1 L983.0,436.3 L1002.3,432.2 L1022.1,427.7 L1042.3,422.8 L1062.8,417.5 L1083.9,411.8 L1105.5,405.8 L1127.7,399.4 L1150.9,392.6 L1174.7,385.5 L1148.7,353.1 L1122.8,319.6 L1096.9,285.6 L1070.9,252.0 L1045.0,219.6 L1019.1,189.0 L993.1,160.9 L967.2,136.0 L941.3,114.8 L915.3,97.6 L889.4,84.8 L863.5,76.6 L837.6,72.9 L811.6,73.7 L785.7,78.8 L759.8,87.9 L733.8,100.5 L707.9,116.1 L682.0,134.1 L656.0,153.7 L630.1,174.4 L604.2,195.3 L578.2,215.6Z" fill="#73cdc1"/>
<path d="M557.0,231.3 L554.8,243.1 L553.0,254.4 L551.3,265.3 L550.0,275.8 L549.2,285.9 L549.0,295.7 L549.3,305.2 L550.4,314.3 L552.0,323.2 L554.0,331.6 L556.1,339.6 L558.6,347.3 L561.4,354.6 L564.8,361.6 L568.6,368.2 L572.9,374.5 L577.7,380.6 L583.1,386.3 L589.1,391.8 L595.8,397.1 L603.0,402.1 L610.9,406.8 L619.4,411.3 L628.3,415.6 L637.7,419.6 L647.5,423.3 L657.5,426.7 L667.5,429.9 L677.4,432.7 L686.2,435.0 L695.3,437.2 L705.9,439.5 L717.2,441.6 L729.2,443.6 L741.6,445.4 L754.4,447.0 L767.5,448.2 L780.9,449.1 L794.5,449.6 L808.3,449.9 L822.3,449.7 L836.6,449.2 L851.1,448.3 L865.9,447.1 L881.1,445.5 L896.6,443.5 L912.6,441.2 L929.1,438.6 L946.2,435.6 L963.8,432.3 L982.2,428.7 L1001.2,424.8 L1020.7,420.5 L1040.5,415.8 L1060.6,410.7 L1081.2,405.2 L1102.4,399.3 L1124.1,393.1 L1146.7,386.6 L1169.9,379.7 L1144.4,347.6 L1118.9,314.4 L1093.3,281.0 L1067.8,248.0 L1042.2,216.2 L1016.7,186.3 L991.2,158.9 L965.6,134.6 L940.1,113.9 L914.6,97.2 L889.0,84.7 L863.5,76.6 L837.9,72.9 L812.4,73.6 L786.9,78.5 L761.3,87.2 L735.8,99.4 L710.3,114.6 L684.7,132.1 L659.2,151.3 L633.6,171.5 L608.1,192.1 L582.6,212.3Z" fill="#78cdb6"/>
<path d="M561.7,228.0 L559.6,239.4 L558.0,250.4 L556.5,261.0 L555.4,271.3 L554.8,281.2 L554.7,290.7 L555.2,299.9 L556.4,308.9 L558.3,317.5 L560.5,325.8 L563.0,333.7 L565.7,341.2 L568.8,348.3 L572.3,355.2 L576.3,361.7 L580.7,367.9 L585.7,373.9 L591.2,379.5 L597.2,384.9 L603.8,390.0 L610.9,394.9 L618.6,399.5 L626.8,403.8 L635.5,408.0 L644.6,411.8 L654.0,415.4 L663.6,418.8 L673.3,421.8 L682.8,424.5 L691.3,426.7 L700.1,428.8 L710.3,431.0 L721.2,433.1 L732.8,435.0 L744.8,436.8 L757.2,438.2 L769.9,439.4 L782.8,440.3 L796.1,440.8 L809.6,441.0 L823.3,440.9 L837.3,440.5 L851.6,439.7 L866.3,438.5 L881.3,437.0 L896.7,435.2 L912.6,433.0 L928.9,430.5 L945.7,427.7 L963.3,424.6 L981.5,421.2 L1000.2,417.5 L1019.3,413.4 L1038.7,408.8 L1058.4,403.9 L1078.6,398.6 L1099.2,392.9 L1120.4,386.9 L1142.6,380.6 L1165.3,374.0 L1140.1,342.1 L1115.0,309.3 L1089.8,276.4 L1064.7,244.0 L1039.5,212.9 L1014.4,183.7 L989.2,157.0 L964.1,133.3 L938.9,113.1 L913.8,96.7 L888.6,84.5 L863.5,76.6 L838.3,72.9 L813.2,73.5 L788.0,78.2 L762.9,86.6 L737.7,98.4 L712.6,113.1 L687.4,130.1 L662.3,148.9 L637.1,168.7 L612.0,189.0 L586.8,209.0Z" fill="#7dcdab"/>
<path d="M566.3,224.6 L564.4,235.7 L563.0,246.5 L561.7,256.8 L560.7,266.8 L560.3,276.4 L560.4,285.7 L561.0,294.7 L562.4,303.4 L564.3,311.8 L566.8,319.9 L569.6,327.7 L572.6,335.1 L575.9,342.1 L579.6,348.8 L583.7,355.2 L588.3,361.3 L593.4,367.1 L598.9,372.7 L605.0,377.9 L611.5,382.9 L618.6,387.7 L626.1,392.2 L634.1,396.4 L642.5,400.4 L651.3,404.2 L660.4,407.7 L669.6,410.9 L678.9,413.8 L688.1,416.4 L696.3,418.5 L704.7,420.5 L714.6,422.6 L725.1,424.7 L736.3,426.5 L747.8,428.2 L759.8,429.6 L772.1,430.7 L784.8,431.5 L797.7,432.1 L810.9,432.3 L824.4,432.3 L838.2,431.9 L852.4,431.1 L866.8,430.1 L881.7,428.7 L896.9,427.0 L912.6,424.9 L928.7,422.6 L945.4,419.9 L962.8,417.0 L980.8,413.8 L999.3,410.2 L1018.0,406.2 L1036.9,401.9 L1056.2,397.1 L1075.9,392.0 L1096.1,386.5 L1116.8,380.7 L1138.5,374.6 L1160.7,368.2 L1135.9,336.6 L1111.1,304.3 L1086.4,271.9 L1061.6,240.1 L1036.8,209.7 L1012.1,181.1 L987.3,155.0 L962.5,131.9 L937.8,112.2 L913.0,96.3 L888.2,84.4 L863.5,76.6 L838.7,72.9 L814.0,73.4 L789.2,77.9 L764.4,86.0 L739.7,97.4 L714.9,111.6 L690.1,128.2 L665.4,146.5 L640.6,166.0 L615.8,185.9 L591.1,205.7Z" fill="#82cda0"/>
<path d="M570.9,221.2 L569.2,232.0 L568.0,242.5 L566.8,252.5 L566.0,262.2 L565.7,271.6 L565.9,280.7 L566.7,289.4 L568.2,297.9 L570.3,306.1 L572.9,314.1 L576.0,321.7 L579.2,328.9 L582.7,335.8 L586.6,342.4 L590.9,348.7 L595.6,354.7 L600.7,360.4 L606.3,365.8 L612.4,370.9 L618.9,375.8 L625.9,380.5 L633.3,384.9 L641.1,389.0 L649.3,392.9 L657.8,396.5 L666.6,399.9 L675.6,403.0 L684.5,405.8 L693.4,408.3 L701.3,410.4 L709.4,412.3 L718.9,414.3 L729.0,416.2 L739.8,418.0 L751.0,419.6 L762.6,421.0 L774.6,422.1 L787.0,422.9 L799.6,423.5 L812.6,423.7 L825.8,423.7 L839.4,423.4 L853.3,422.7 L867.6,421.7 L882.3,420.4 L897.3,418.9 L912.8,416.9 L928.8,414.7 L945.3,412.2 L962.6,409.5 L980.3,406.4 L998.4,403.0 L1016.7,399.2 L1035.2,395.0 L1054.0,390.4 L1073.3,385.4 L1093.1,380.2 L1113.3,374.5 L1134.5,368.7 L1156.1,362.5 L1131.7,331.2 L1107.3,299.3 L1082.9,267.5 L1058.6,236.3 L1034.2,206.5 L1009.8,178.6 L985.4,153.1 L961.0,130.6 L936.6,111.4 L912.3,95.9 L887.9,84.2 L863.5,76.6 L839.1,73.0 L814.7,73.4 L790.3,77.6 L765.9,85.4 L741.6,96.4 L717.2,110.2 L692.8,126.3 L668.4,144.2 L644.0,163.2 L619.6,182.8 L595.3,202.4Z" fill="#8bcf90"/>
<path d="M575.4,217.8 L573.9,228.3 L572.9,238.5 L571.8,248.3 L571.2,257.7 L571.1,266.8 L571.4,275.6 L572.3,284.2 L573.8,292.4 L576.1,300.4 L578.9,308.2 L582.1,315.6 L585.6,322.8 L589.3,329.5 L593.4,336.0 L597.8,342.1 L602.6,348.0 L607.8,353.6 L613.4,358.9 L619.5,363.9 L626.0,368.7 L632.9,373.2 L640.2,377.5 L647.8,381.5 L655.8,385.3 L664.1,388.8 L672.6,392.1 L681.3,395.1 L690.0,397.8 L698.5,400.2 L706.2,402.2 L714.0,404.1 L723.2,406.0 L733.0,407.9 L743.5,409.6 L754.3,411.2 L765.6,412.5 L777.3,413.6 L789.4,414.4 L801.7,415.0 L814.4,415.2 L827.5,415.2 L840.8,415.0 L854.5,414.4 L868.6,413.5 L883.1,412.3 L897.9,410.8 L913.2,409.0 L929.0,406.9 L945.4,404.6 L962.4,402.0 L979.8,399.1 L997.5,395.8 L1015.4,392.1 L1033.5,388.1 L1051.9,383.7 L1070.8,378.9 L1090.0,373.8 L1109.8,368.4 L1130.5,362.7 L1151.6,356.7 L1127.6,325.8 L1103.6,294.3 L1079.6,263.1 L1055.5,232.6 L1031.5,203.4 L1007.5,176.1 L983.5,151.3 L959.5,129.3 L935.5,110.6 L911.5,95.4 L887.5,84.1 L863.5,76.6 L839.5,73.0 L815.5,73.3 L791.5,77.3 L767.5,84.8 L743.4,95.4 L719.4,108.8 L695.4,124.5 L671.4,141.9 L647.4,160.5 L623.4,179.8 L599.4,199.1Z" fill="#94d180"/>
<path d="M579.9,214.4 L578.5,224.6 L577.8,234.5 L576.9,244.0 L576.4,253.2 L576.4,262.1 L576.9,270.6 L577.8,278.9 L579.4,287.0 L581.7,294.8 L584.6,302.3 L588.0,309.6 L591.8,316.6 L595.7,323.2 L599.9,329.5 L604.4,335.5 L609.3,341.3 L614.6,346.7 L620.2,351.9 L626.3,356.9 L632.7,361.5 L639.6,365.9 L646.7,370.1 L654.3,374.0 L662.1,377.7 L670.2,381.1 L678.5,384.3 L686.9,387.2 L695.3,389.9 L703.6,392.2 L711.0,394.1 L718.6,395.9 L727.5,397.8 L737.1,399.6 L747.2,401.3 L757.8,402.8 L768.8,404.1 L780.2,405.1 L791.9,406.0 L804.1,406.5 L816.5,406.9 L829.3,406.9 L842.4,406.7 L855.9,406.1 L869.8,405.3 L884.0,404.2 L898.7,402.8 L913.7,401.2 L929.4,399.3 L945.7,397.1 L962.4,394.6 L979.4,391.8 L996.7,388.7 L1014.1,385.1 L1031.8,381.2 L1049.8,377.0 L1068.2,372.4 L1087.0,367.5 L1106.3,362.2 L1126.5,356.8 L1147.1,351.0 L1123.5,320.4 L1099.8,289.5 L1076.2,258.7 L1052.6,228.8 L1028.9,200.3 L1005.3,173.7 L981.7,149.5 L958.0,128.1 L934.4,109.8 L910.8,95.0 L887.1,83.9 L863.5,76.6 L839.8,73.0 L816.2,73.2 L792.6,77.0 L768.9,84.2 L745.3,94.5 L721.7,107.5 L698.0,122.7 L674.4,139.7 L650.8,157.9 L627.1,176.8 L603.5,195.8Z" fill="#9dd370"/>
<path d="M584.3,210.9 L583.1,220.9 L582.5,230.5 L581.8,239.7 L581.5,248.7 L581.7,257.3 L582.3,265.6 L583.3,273.7 L585.0,281.5 L587.3,289.1 L590.2,296.4 L593.7,303.5 L597.6,310.3 L601.8,316.9 L606.1,323.0 L610.8,328.9 L615.7,334.5 L621.1,339.9 L626.7,345.0 L632.8,349.8 L639.2,354.3 L646.0,358.7 L653.1,362.7 L660.5,366.6 L668.1,370.1 L676.0,373.5 L684.1,376.6 L692.3,379.4 L700.5,381.9 L708.6,384.2 L715.8,386.1 L723.2,387.8 L731.8,389.7 L741.1,391.4 L751.0,393.1 L761.3,394.5 L772.0,395.8 L783.2,396.8 L794.7,397.7 L806.5,398.2 L818.7,398.6 L831.3,398.6 L844.2,398.4 L857.5,398.0 L871.1,397.3 L885.1,396.2 L899.5,395.0 L914.4,393.4 L930.0,391.6 L946.0,389.6 L962.4,387.3 L979.1,384.6 L995.9,381.5 L1012.9,378.1 L1030.1,374.4 L1047.7,370.3 L1065.7,365.9 L1084.0,361.2 L1102.8,356.1 L1122.6,350.9 L1142.6,345.3 L1119.4,315.1 L1096.1,284.6 L1072.9,254.5 L1049.6,225.2 L1026.3,197.3 L1003.1,171.3 L979.8,147.7 L956.5,126.8 L933.3,109.0 L910.0,94.6 L886.7,83.8 L863.5,76.6 L840.2,73.0 L817.0,73.2 L793.7,76.8 L770.4,83.7 L747.2,93.6 L723.9,106.1 L700.6,120.9 L677.4,137.4 L654.1,155.2 L630.8,173.8 L607.6,192.5Z" fill="#a6d560"/>
<path d="M588.7,207.5 L587.7,217.1 L587.3,226.5 L586.8,235.5 L586.6,244.2 L586.9,252.5 L587.6,260.6 L588.7,268.5 L590.4,276.1 L592.8,283.4 L595.7,290.6 L599.3,297.5 L603.3,304.1 L607.6,310.5 L612.2,316.6 L616.9,322.3 L621.9,327.8 L627.3,333.0 L633.0,338.0 L639.1,342.7 L645.4,347.2 L652.1,351.4 L659.1,355.4 L666.4,359.1 L673.9,362.6 L681.7,365.8 L689.6,368.8 L697.6,371.6 L705.6,374.1 L713.5,376.3 L720.5,378.1 L727.7,379.8 L736.1,381.6 L745.2,383.3 L754.8,384.9 L764.8,386.3 L775.3,387.6 L786.2,388.6 L797.5,389.4 L809.1,390.0 L821.0,390.4 L833.4,390.5 L846.0,390.3 L859.1,389.9 L872.5,389.3 L886.3,388.4 L900.5,387.2 L915.3,385.8 L930.6,384.1 L946.4,382.2 L962.4,379.9 L978.7,377.4 L995.1,374.5 L1011.6,371.2 L1028.4,367.6 L1045.6,363.7 L1063.1,359.4 L1081.0,354.9 L1099.4,350.0 L1118.7,345.0 L1138.2,339.6 L1115.3,309.8 L1092.4,279.8 L1069.5,250.2 L1046.6,221.6 L1023.8,194.3 L1000.9,169.0 L978.0,145.9 L955.1,125.6 L932.2,108.3 L909.3,94.2 L886.4,83.6 L863.5,76.6 L840.6,73.1 L817.7,73.1 L794.8,76.5 L771.9,83.2 L749.0,92.7 L726.1,104.8 L703.2,119.2 L680.3,135.3 L657.4,152.7 L634.5,170.8 L611.6,189.3Z" fill="#afd750"/>
<path d="M593.1,204.0 L592.3,213.4 L592.0,222.5 L591.7,231.2 L591.6,239.7 L592.0,247.8 L592.8,255.7 L594.1,263.3 L595.8,270.6 L598.2,277.8 L601.2,284.7 L604.7,291.4 L608.8,297.9 L613.2,304.2 L618.0,310.1 L622.9,315.8 L628.0,321.1 L633.4,326.2 L639.1,331.1 L645.1,335.7 L651.4,340.0 L658.1,344.1 L665.0,348.0 L672.2,351.7 L679.6,355.1 L687.2,358.2 L694.9,361.1 L702.8,363.8 L710.6,366.3 L718.2,368.4 L725.1,370.2 L732.1,371.8 L740.3,373.6 L749.2,375.3 L758.6,376.8 L768.4,378.2 L778.6,379.4 L789.3,380.5 L800.3,381.3 L811.7,381.9 L823.4,382.3 L835.5,382.4 L848.0,382.3 L860.8,382.0 L874.0,381.4 L887.6,380.5 L901.7,379.5 L916.3,378.2 L931.4,376.7 L946.8,374.8 L962.5,372.7 L978.3,370.2 L994.2,367.4 L1010.4,364.3 L1026.8,360.8 L1043.5,357.0 L1060.6,353.0 L1078.0,348.6 L1096.0,344.0 L1114.8,339.1 L1133.8,333.9 L1111.3,304.5 L1088.8,275.0 L1066.2,246.0 L1043.7,218.0 L1021.2,191.4 L998.7,166.6 L976.1,144.2 L953.6,124.4 L931.1,107.5 L908.5,93.8 L886.0,83.5 L863.5,76.6 L841.0,73.1 L818.4,73.1 L795.9,76.3 L773.4,82.6 L750.8,91.8 L728.3,103.6 L705.8,117.5 L683.2,133.1 L660.7,150.1 L638.2,167.9 L615.7,186.0Z" fill="#bcdb45"/>
<path d="M597.5,200.6 L596.8,209.7 L596.7,218.5 L596.6,227.0 L596.6,235.2 L597.1,243.1 L598.1,250.7 L599.4,258.1 L601.2,265.3 L603.5,272.2 L606.5,278.9 L610.0,285.4 L614.1,291.7 L618.6,297.8 L623.4,303.6 L628.5,309.2 L633.8,314.4 L639.2,319.4 L644.9,324.2 L650.9,328.7 L657.2,332.9 L663.8,336.9 L670.6,340.7 L677.7,344.3 L685.0,347.6 L692.5,350.7 L700.1,353.5 L707.7,356.1 L715.4,358.5 L722.9,360.6 L729.6,362.3 L736.5,363.9 L744.5,365.6 L753.2,367.3 L762.3,368.8 L771.9,370.2 L782.0,371.4 L792.4,372.4 L803.2,373.3 L814.3,373.9 L825.9,374.3 L837.7,374.5 L850.0,374.4 L862.6,374.1 L875.5,373.6 L889.0,372.8 L902.9,371.9 L917.4,370.7 L932.1,369.3 L947.2,367.5 L962.5,365.5 L977.9,363.1 L993.3,360.4 L1009.0,357.4 L1025.0,354.1 L1041.4,350.5 L1058.0,346.5 L1075.0,342.3 L1092.6,337.9 L1110.9,333.2 L1129.5,328.3 L1107.3,299.3 L1085.1,270.3 L1063.0,241.9 L1040.8,214.5 L1018.6,188.5 L996.5,164.4 L974.3,142.5 L952.1,123.2 L930.0,106.8 L907.8,93.4 L885.6,83.3 L863.5,76.6 L841.3,73.1 L819.2,73.0 L797.0,76.1 L774.8,82.1 L752.7,91.0 L730.5,102.3 L708.3,115.8 L686.2,131.0 L664.0,147.6 L641.8,165.0 L619.7,182.8Z" fill="#cadf3b"/>
<path d="M601.9,197.1 L601.3,205.9 L601.3,214.5 L601.4,222.8 L601.6,230.7 L602.2,238.4 L603.2,245.8 L604.7,253.0 L606.5,259.9 L608.8,266.6 L611.8,273.1 L615.3,279.5 L619.3,285.6 L623.8,291.5 L628.7,297.2 L633.9,302.6 L639.3,307.8 L644.8,312.7 L650.5,317.3 L656.5,321.7 L662.8,325.8 L669.3,329.7 L676.1,333.4 L683.1,336.9 L690.3,340.1 L697.6,343.1 L705.1,345.9 L712.6,348.5 L720.1,350.8 L727.4,352.9 L734.0,354.5 L740.7,356.1 L748.6,357.8 L757.1,359.4 L766.0,360.9 L775.5,362.3 L785.3,363.5 L795.5,364.5 L806.1,365.3 L817.0,365.9 L828.3,366.4 L840.0,366.6 L852.0,366.6 L864.3,366.3 L877.2,365.9 L890.5,365.3 L904.3,364.4 L918.4,363.3 L932.9,361.9 L947.6,360.3 L962.4,358.3 L977.3,356.0 L992.4,353.4 L1007.7,350.5 L1023.3,347.4 L1039.2,343.9 L1055.4,340.1 L1072.0,336.1 L1089.2,331.8 L1107.0,327.4 L1125.1,322.6 L1103.3,294.0 L1081.5,265.6 L1059.7,237.8 L1037.9,211.0 L1016.1,185.6 L994.3,162.1 L972.5,140.8 L950.7,122.1 L928.9,106.1 L907.1,93.1 L885.3,83.2 L863.5,76.6 L841.7,73.2 L819.9,73.0 L798.1,75.8 L776.3,81.7 L754.5,90.2 L732.7,101.1 L710.9,114.2 L689.1,128.9 L667.3,145.1 L645.5,162.1 L623.7,179.6Z" fill="#d7e330"/>
<path d="M606.2,193.6 L605.8,202.2 L606.0,210.5 L606.2,218.6 L606.6,226.3 L607.3,233.7 L608.4,240.9 L609.9,247.9 L611.8,254.6 L614.1,261.1 L617.0,267.4 L620.5,273.6 L624.4,279.5 L628.9,285.2 L633.8,290.7 L639.0,296.0 L644.5,301.1 L650.2,305.9 L656.0,310.4 L662.0,314.7 L668.2,318.8 L674.7,322.6 L681.4,326.2 L688.3,329.6 L695.4,332.8 L702.6,335.7 L709.9,338.4 L717.3,340.9 L724.7,343.2 L731.9,345.2 L738.3,346.8 L744.9,348.4 L752.6,350.0 L760.9,351.6 L769.7,353.1 L778.9,354.4 L788.6,355.6 L798.6,356.6 L808.9,357.4 L819.7,358.1 L830.8,358.5 L842.2,358.8 L854.0,358.8 L866.2,358.7 L879.0,358.3 L892.1,357.8 L905.7,357.0 L919.5,355.9 L933.6,354.7 L947.8,353.1 L962.2,351.2 L976.7,349.0 L991.4,346.5 L1006.3,343.7 L1021.5,340.7 L1037.0,337.4 L1052.8,333.8 L1068.9,329.9 L1085.7,325.8 L1103.2,321.5 L1120.8,316.9 L1099.3,288.8 L1077.9,260.9 L1056.5,233.7 L1035.0,207.5 L1013.6,182.8 L992.1,159.9 L970.7,139.2 L949.2,120.9 L927.8,105.3 L906.4,92.7 L884.9,83.1 L863.5,76.6 L842.0,73.2 L820.6,72.9 L799.2,75.6 L777.7,81.2 L756.3,89.4 L734.8,99.9 L713.4,112.6 L692.0,126.9 L670.5,142.6 L649.1,159.2 L627.6,176.4Z" fill="#e3e627"/>
<path d="M610.5,190.2 L610.3,198.5 L610.6,206.6 L611.1,214.4 L611.5,221.8 L612.3,229.1 L613.5,236.0 L615.1,242.8 L617.0,249.3 L619.4,255.6 L622.2,261.8 L625.6,267.7 L629.5,273.4 L633.9,279.0 L638.7,284.4 L643.9,289.5 L649.4,294.4 L655.2,299.2 L661.2,303.6 L667.3,307.8 L673.5,311.8 L679.9,315.5 L686.5,319.0 L693.3,322.3 L700.3,325.4 L707.4,328.3 L714.6,331.0 L721.9,333.4 L729.2,335.6 L736.2,337.6 L742.5,339.2 L749.0,340.7 L756.6,342.3 L764.7,343.9 L773.3,345.3 L782.4,346.6 L791.8,347.8 L801.6,348.8 L811.8,349.7 L822.3,350.3 L833.2,350.8 L844.4,351.1 L856.2,351.2 L868.3,351.1 L880.9,350.8 L893.8,350.4 L907.0,349.6 L920.5,348.7 L934.2,347.4 L948.0,345.9 L962.0,344.1 L976.1,342.0 L990.3,339.6 L1004.8,337.0 L1019.7,334.0 L1034.8,330.8 L1050.2,327.4 L1065.9,323.7 L1082.3,319.8 L1099.3,315.7 L1116.4,311.2 L1095.4,283.6 L1074.3,256.3 L1053.2,229.6 L1032.1,204.1 L1011.0,180.0 L990.0,157.7 L968.9,137.5 L947.8,119.8 L926.7,104.6 L905.6,92.3 L884.6,82.9 L863.5,76.6 L842.4,73.2 L821.3,72.9 L800.2,75.4 L779.2,80.7 L758.1,88.6 L737.0,98.8 L715.9,111.0 L694.8,124.9 L673.8,140.1 L652.7,156.4 L631.6,173.2Z" fill="#eae823"/>
<path d="M614.8,186.7 L614.8,194.8 L615.2,202.6 L615.8,210.2 L616.4,217.4 L617.3,224.4 L618.6,231.2 L620.2,237.8 L622.2,244.1 L624.6,250.2 L627.4,256.1 L630.7,261.9 L634.6,267.4 L638.9,272.8 L643.6,278.0 L648.8,283.0 L654.2,287.8 L660.0,292.4 L666.0,296.8 L672.1,300.9 L678.5,304.8 L684.9,308.5 L691.5,311.9 L698.2,315.2 L705.1,318.2 L712.1,321.0 L719.2,323.6 L726.4,326.0 L733.5,328.1 L740.4,330.0 L746.7,331.6 L753.0,333.1 L760.4,334.7 L768.4,336.2 L776.8,337.7 L785.7,339.0 L795.0,340.1 L804.6,341.1 L814.6,342.0 L824.9,342.7 L835.7,343.2 L846.9,343.5 L858.5,343.7 L870.5,343.7 L882.8,343.5 L895.4,343.0 L908.3,342.3 L921.4,341.4 L934.7,340.2 L948.1,338.8 L961.6,337.0 L975.3,335.0 L989.2,332.7 L1003.3,330.2 L1017.8,327.4 L1032.5,324.4 L1047.5,321.0 L1062.8,317.5 L1078.9,313.8 L1095.4,309.8 L1112.1,305.6 L1091.4,278.5 L1070.7,251.7 L1050.0,225.6 L1029.2,200.7 L1008.5,177.2 L987.8,155.5 L967.1,135.9 L946.4,118.6 L925.6,103.9 L904.9,91.9 L884.2,82.8 L863.5,76.6 L842.8,73.2 L822.0,72.8 L801.3,75.2 L780.6,80.3 L759.9,87.8 L739.2,97.6 L718.4,109.4 L697.7,122.9 L677.0,137.7 L656.3,153.6 L635.6,170.0Z" fill="#f2e91f"/>
<path d="M619.2,183.2 L619.2,191.0 L619.8,198.6 L620.6,206.0 L621.3,213.0 L622.3,219.8 L623.6,226.4 L625.3,232.8 L627.4,238.9 L629.8,244.9 L632.6,250.6 L635.9,256.1 L639.6,261.5 L643.8,266.7 L648.5,271.8 L653.5,276.6 L658.9,281.3 L664.6,285.7 L670.5,290.0 L676.7,294.0 L683.1,297.8 L689.6,301.5 L696.2,304.9 L703.0,308.0 L709.8,311.0 L716.7,313.7 L723.7,316.2 L730.7,318.6 L737.7,320.7 L744.6,322.6 L750.7,324.1 L756.9,325.6 L764.2,327.1 L772.0,328.7 L780.3,330.1 L789.0,331.4 L798.1,332.5 L807.6,333.5 L817.4,334.4 L827.7,335.1 L838.4,335.7 L849.5,336.1 L860.9,336.3 L872.6,336.3 L884.6,336.1 L896.9,335.7 L909.5,335.1 L922.2,334.2 L935.1,333.1 L948.1,331.7 L961.2,330.0 L974.4,328.1 L988.0,325.9 L1001.8,323.5 L1015.8,320.8 L1030.1,317.9 L1044.8,314.7 L1059.7,311.3 L1075.4,307.8 L1091.5,304.0 L1107.8,299.9 L1087.5,273.3 L1067.1,247.1 L1046.7,221.7 L1026.4,197.3 L1006.0,174.5 L985.6,153.4 L965.3,134.3 L944.9,117.5 L924.6,103.2 L904.2,91.6 L883.8,82.7 L863.5,76.6 L843.1,73.3 L822.8,72.8 L802.4,75.0 L782.0,79.8 L761.7,87.1 L741.3,96.5 L721.0,107.9 L700.6,120.9 L680.2,135.3 L659.9,150.7 L639.5,166.8Z" fill="#f9ea1b"/>
<path d="M623.5,179.7 L623.7,187.3 L624.3,194.7 L625.4,201.9 L626.1,208.7 L627.2,215.2 L628.7,221.6 L630.4,227.8 L632.6,233.8 L635.0,239.5 L637.8,245.1 L641.0,250.4 L644.6,255.6 L648.7,260.7 L653.3,265.6 L658.2,270.2 L663.5,274.8 L669.0,279.1 L674.9,283.2 L681.0,287.1 L687.3,290.9 L693.8,294.4 L700.4,297.7 L707.2,300.9 L714.1,303.8 L721.0,306.5 L728.0,309.0 L735.0,311.3 L741.9,313.3 L748.6,315.2 L754.6,316.7 L760.7,318.2 L767.8,319.7 L775.6,321.2 L783.7,322.6 L792.4,323.9 L801.4,325.0 L810.8,326.1 L820.6,327.0 L830.7,327.7 L841.3,328.3 L852.1,328.8 L863.2,329.0 L874.7,329.0 L886.4,328.9 L898.3,328.5 L910.5,327.9 L922.8,327.1 L935.3,326.0 L947.9,324.6 L960.6,323.0 L973.5,321.2 L986.7,319.1 L1000.1,316.8 L1013.8,314.2 L1027.8,311.4 L1042.0,308.4 L1056.5,305.1 L1072.0,301.8 L1087.6,298.2 L1103.5,294.3 L1083.5,268.2 L1063.5,242.5 L1043.5,217.7 L1023.5,194.0 L1003.5,171.8 L983.5,151.3 L963.5,132.7 L943.5,116.4 L923.5,102.6 L903.5,91.2 L883.5,82.5 L863.5,76.6 L843.5,73.3 L823.5,72.8 L803.5,74.8 L783.5,79.4 L763.5,86.3 L743.5,95.4 L723.5,106.4 L703.5,119.0 L683.5,133.0 L663.5,148.0 L643.5,163.7Z" fill="#fde51a"/>
<path d="M627.8,176.3 L628.1,183.6 L628.9,190.8 L630.2,197.7 L631.0,204.3 L632.2,210.7 L633.7,216.9 L635.5,222.9 L637.7,228.7 L640.2,234.3 L643.0,239.7 L646.2,244.9 L649.7,249.9 L653.7,254.8 L658.1,259.5 L662.9,264.0 L668.1,268.4 L673.6,272.6 L679.3,276.6 L685.3,280.4 L691.5,284.0 L697.9,287.5 L704.5,290.7 L711.2,293.8 L718.0,296.6 L724.9,299.3 L731.8,301.7 L738.8,304.0 L745.7,306.1 L752.4,307.9 L758.3,309.4 L764.4,310.8 L771.5,312.4 L779.2,313.8 L787.3,315.2 L795.8,316.5 L804.7,317.7 L814.0,318.8 L823.7,319.7 L833.6,320.5 L843.9,321.1 L854.5,321.5 L865.4,321.7 L876.5,321.8 L887.9,321.7 L899.5,321.3 L911.3,320.7 L923.2,319.9 L935.3,318.9 L947.4,317.6 L959.8,316.1 L972.4,314.3 L985.2,312.3 L998.3,310.1 L1011.7,307.7 L1025.3,305.0 L1039.2,302.1 L1053.3,299.0 L1068.4,295.8 L1083.7,292.3 L1099.2,288.6 L1079.5,263.1 L1059.9,238.0 L1040.3,213.8 L1020.6,190.7 L1001.0,169.1 L981.3,149.2 L961.7,131.2 L942.0,115.4 L922.4,101.9 L902.8,90.9 L883.1,82.4 L863.5,76.6 L843.8,73.3 L824.2,72.7 L804.6,74.7 L784.9,79.0 L765.3,85.6 L745.6,94.3 L726.0,104.9 L706.3,117.1 L686.7,130.6 L667.1,145.2 L647.4,160.5Z" fill="#fdda1b"/>
<path d="M632.1,172.8 L632.6,179.9 L633.5,186.8 L634.8,193.6 L635.9,200.0 L637.1,206.2 L638.7,212.2 L640.6,218.1 L642.9,223.7 L645.4,229.1 L648.3,234.3 L651.4,239.4 L654.9,244.3 L658.8,249.0 L663.1,253.5 L667.8,257.9 L672.8,262.2 L678.2,266.2 L683.8,270.1 L689.7,273.8 L695.8,277.4 L702.1,280.7 L708.6,283.9 L715.2,286.8 L722.0,289.6 L728.8,292.2 L735.7,294.7 L742.5,296.9 L749.4,298.9 L756.0,300.7 L761.9,302.2 L768.0,303.6 L775.0,305.1 L782.6,306.6 L790.6,308.0 L799.0,309.3 L807.8,310.5 L816.9,311.5 L826.3,312.5 L836.1,313.2 L846.1,313.8 L856.5,314.3 L867.1,314.5 L877.9,314.6 L889.0,314.5 L900.3,314.2 L911.7,313.6 L923.3,312.9 L935.0,311.8 L946.8,310.6 L958.8,309.2 L971.1,307.5 L983.6,305.6 L996.4,303.5 L1009.4,301.2 L1022.7,298.6 L1036.2,295.9 L1050.1,292.9 L1064.9,289.8 L1079.8,286.5 L1094.9,283.0 L1075.6,258.0 L1056.3,233.5 L1037.0,209.9 L1017.7,187.4 L998.5,166.4 L979.2,147.1 L959.9,129.6 L940.6,114.3 L921.3,101.2 L902.0,90.5 L882.8,82.3 L863.5,76.6 L844.2,73.4 L824.9,72.7 L805.6,74.5 L786.4,78.6 L767.1,84.9 L747.8,93.3 L728.5,103.5 L709.2,115.2 L690.0,128.3 L670.7,142.5 L651.4,157.4Z" fill="#fccf1c"/>
<path d="M636.4,169.3 L637.0,176.2 L638.1,182.9 L639.5,189.5 L640.7,195.8 L642.1,201.8 L643.8,207.6 L645.7,213.3 L648.0,218.7 L650.6,224.0 L653.5,229.1 L656.7,234.0 L660.2,238.7 L664.0,243.3 L668.2,247.7 L672.7,251.9 L677.7,256.0 L682.9,260.0 L688.4,263.8 L694.2,267.4 L700.2,270.8 L706.4,274.1 L712.8,277.1 L719.3,280.0 L725.9,282.8 L732.7,285.3 L739.5,287.7 L746.3,289.9 L753.0,291.9 L759.5,293.7 L765.4,295.1 L771.3,296.5 L778.3,298.0 L785.8,299.5 L793.7,300.8 L801.9,302.1 L810.5,303.3 L819.5,304.4 L828.7,305.3 L838.3,306.0 L848.1,306.6 L858.2,307.1 L868.5,307.4 L879.1,307.4 L889.8,307.3 L900.7,307.0 L911.8,306.5 L923.0,305.8 L934.4,304.8 L945.9,303.7 L957.7,302.3 L969.7,300.7 L981.9,298.9 L994.4,296.9 L1007.1,294.7 L1020.0,292.3 L1033.2,289.6 L1046.9,286.8 L1061.3,283.9 L1075.8,280.7 L1090.5,277.3 L1071.6,252.9 L1052.7,229.0 L1033.8,206.0 L1014.8,184.2 L995.9,163.8 L977.0,145.0 L958.1,128.1 L939.2,113.2 L920.2,100.5 L901.3,90.1 L882.4,82.1 L863.5,76.6 L844.6,73.4 L825.6,72.7 L806.7,74.3 L787.8,78.2 L768.9,84.3 L750.0,92.3 L731.0,102.0 L712.1,113.4 L693.2,126.0 L674.3,139.8 L655.4,154.3Z" fill="#fcc41d"/>
<path d="M640.8,165.8 L641.5,172.5 L642.7,179.1 L644.2,185.4 L645.6,191.5 L647.1,197.4 L648.8,203.1 L650.9,208.5 L653.2,213.8 L655.8,219.0 L658.7,223.9 L661.9,228.7 L665.4,233.3 L669.2,237.7 L673.3,241.9 L677.8,246.1 L682.6,250.0 L687.7,253.9 L693.1,257.5 L698.7,261.0 L704.6,264.3 L710.7,267.5 L717.0,270.5 L723.4,273.3 L729.9,276.0 L736.5,278.5 L743.2,280.8 L749.9,282.9 L756.6,284.9 L763.0,286.7 L768.8,288.1 L774.6,289.5 L781.4,290.9 L788.8,292.4 L796.5,293.7 L804.7,295.0 L813.1,296.2 L821.9,297.2 L830.9,298.1 L840.2,298.9 L849.8,299.5 L859.6,299.9 L869.7,300.2 L879.9,300.3 L890.4,300.2 L901.0,299.9 L911.7,299.4 L922.6,298.7 L933.7,297.8 L944.9,296.7 L956.4,295.4 L968.1,293.9 L980.1,292.2 L992.2,290.3 L1004.6,288.2 L1017.3,285.9 L1030.2,283.4 L1043.6,280.7 L1057.6,277.9 L1071.8,274.9 L1086.2,271.7 L1067.6,247.8 L1049.1,224.5 L1030.5,202.2 L1011.9,181.0 L993.4,161.2 L974.8,143.0 L956.3,126.6 L937.7,112.2 L919.2,99.9 L900.6,89.8 L882.0,82.0 L863.5,76.6 L844.9,73.5 L826.4,72.7 L807.8,74.2 L789.3,77.9 L770.7,83.6 L752.1,91.2 L733.6,100.6 L715.0,111.5 L696.5,123.8 L677.9,137.1 L659.3,151.2Z" fill="#fcb91e"/>
<path d="M645.1,162.3 L646.0,168.8 L647.2,175.2 L648.9,181.4 L650.5,187.3 L652.1,193.0 L653.9,198.5 L656.0,203.8 L658.4,209.0 L661.0,213.9 L664.0,218.7 L667.2,223.4 L670.7,227.8 L674.5,232.1 L678.5,236.3 L682.9,240.3 L687.5,244.1 L692.5,247.8 L697.8,251.3 L703.3,254.7 L709.1,258.0 L715.1,261.0 L721.2,264.0 L727.5,266.7 L733.9,269.3 L740.4,271.7 L747.0,274.0 L753.6,276.1 L760.1,278.0 L766.4,279.7 L772.1,281.1 L777.8,282.5 L784.5,283.9 L791.7,285.3 L799.3,286.7 L807.2,287.9 L815.5,289.1 L824.0,290.1 L832.9,291.0 L842.0,291.7 L851.3,292.3 L860.9,292.8 L870.6,293.1 L880.6,293.2 L890.7,293.1 L901.0,292.8 L911.5,292.4 L922.0,291.7 L932.8,290.9 L943.8,289.8 L955.0,288.6 L966.5,287.2 L978.2,285.6 L990.0,283.8 L1002.1,281.8 L1014.5,279.6 L1027.1,277.2 L1040.2,274.7 L1054.0,272.0 L1067.8,269.1 L1081.8,266.0 L1063.6,242.7 L1045.4,220.1 L1027.2,198.3 L1009.0,177.8 L990.8,158.6 L972.7,141.0 L954.5,125.1 L936.3,111.1 L918.1,99.2 L899.9,89.4 L881.7,81.9 L863.5,76.6 L845.3,73.5 L827.1,72.7 L808.9,74.0 L790.7,77.5 L772.5,82.9 L754.3,90.2 L736.1,99.2 L717.9,109.7 L699.7,121.5 L681.5,134.4 L663.3,148.1Z" fill="#fbad1e"/>
<path d="M649.5,158.9 L650.5,165.2 L651.9,171.3 L653.6,177.3 L655.4,183.1 L657.0,188.6 L658.9,194.0 L661.1,199.1 L663.6,204.1 L666.3,209.0 L669.3,213.6 L672.5,218.1 L676.0,222.5 L679.8,226.6 L683.8,230.7 L688.0,234.5 L692.6,238.2 L697.5,241.8 L702.6,245.2 L708.0,248.5 L713.7,251.7 L719.5,254.6 L725.5,257.5 L731.7,260.2 L737.9,262.7 L744.3,265.0 L750.7,267.2 L757.2,269.3 L763.6,271.1 L769.8,272.8 L775.3,274.2 L780.9,275.5 L787.5,276.9 L794.5,278.3 L801.9,279.6 L809.7,280.8 L817.8,282.0 L826.1,283.0 L834.7,283.9 L843.6,284.6 L852.6,285.2 L861.9,285.7 L871.4,285.9 L881.1,286.1 L891.0,286.0 L900.9,285.8 L911.0,285.3 L921.4,284.7 L931.9,283.9 L942.6,283.0 L953.6,281.8 L964.8,280.5 L976.2,279.0 L987.8,277.2 L999.6,275.3 L1011.6,273.2 L1023.9,271.0 L1036.9,268.6 L1050.3,266.1 L1063.8,263.3 L1077.4,260.3 L1059.6,237.6 L1041.8,215.6 L1023.9,194.5 L1006.1,174.6 L988.3,156.0 L970.5,139.0 L952.6,123.6 L934.8,110.1 L917.0,98.6 L899.1,89.1 L881.3,81.7 L863.5,76.6 L845.7,73.5 L827.8,72.7 L810.0,73.9 L792.2,77.1 L774.3,82.3 L756.5,89.3 L738.7,97.9 L720.8,108.0 L703.0,119.3 L685.2,131.7 L667.4,145.0Z" fill="#fa9f1f"/>
<path d="M653.9,155.4 L655.0,161.5 L656.5,167.5 L658.3,173.3 L660.3,179.0 L662.0,184.3 L664.0,189.5 L666.3,194.5 L668.8,199.3 L671.5,204.0 L674.5,208.5 L677.8,212.9 L681.3,217.1 L685.1,221.2 L689.1,225.1 L693.3,228.8 L697.8,232.4 L702.5,235.9 L707.5,239.2 L712.8,242.4 L718.3,245.4 L724.0,248.3 L729.8,251.0 L735.8,253.6 L742.0,256.1 L748.2,258.4 L754.5,260.5 L760.8,262.5 L767.0,264.3 L773.1,265.9 L778.5,267.3 L784.0,268.6 L790.4,269.9 L797.3,271.3 L804.5,272.6 L812.1,273.8 L819.9,274.9 L828.0,275.9 L836.4,276.7 L845.0,277.5 L853.9,278.1 L862.9,278.5 L872.1,278.8 L881.5,278.9 L891.0,278.9 L900.7,278.7 L910.5,278.3 L920.6,277.7 L930.9,277.0 L941.4,276.1 L952.1,275.0 L963.0,273.8 L974.1,272.3 L985.5,270.7 L997.0,268.9 L1008.7,266.9 L1020.7,264.7 L1033.5,262.5 L1046.5,260.1 L1059.7,257.5 L1073.0,254.7 L1055.6,232.6 L1038.1,211.2 L1020.6,190.7 L1003.2,171.4 L985.7,153.5 L968.3,137.0 L950.8,122.1 L933.3,109.1 L915.9,97.9 L898.4,88.8 L880.9,81.6 L863.5,76.6 L846.0,73.6 L828.6,72.7 L811.1,73.8 L793.6,76.8 L776.2,81.7 L758.7,88.3 L741.2,96.5 L723.8,106.2 L706.3,117.1 L688.9,129.1 L671.4,141.9Z" fill="#f8911f"/>
<path d="M658.4,151.9 L659.6,157.8 L661.1,163.6 L663.1,169.3 L665.3,174.8 L667.1,179.9 L669.1,185.0 L671.4,189.8 L674.0,194.5 L676.8,199.1 L679.8,203.5 L683.1,207.7 L686.6,211.8 L690.4,215.7 L694.4,219.5 L698.6,223.1 L703.0,226.6 L707.6,230.0 L712.5,233.2 L717.6,236.2 L723.0,239.2 L728.5,242.0 L734.2,244.6 L740.1,247.2 L746.1,249.5 L752.1,251.7 L758.3,253.8 L764.4,255.7 L770.5,257.5 L776.4,259.1 L781.7,260.4 L787.0,261.7 L793.3,263.0 L799.9,264.3 L807.0,265.6 L814.4,266.7 L822.0,267.8 L829.9,268.8 L838.0,269.6 L846.4,270.4 L854.9,270.9 L863.7,271.4 L872.6,271.7 L881.7,271.8 L890.9,271.8 L900.4,271.6 L910.0,271.2 L919.8,270.7 L929.9,270.1 L940.1,269.2 L950.6,268.2 L961.2,267.0 L972.1,265.7 L983.1,264.2 L994.4,262.5 L1005.8,260.6 L1017.5,258.5 L1030.1,256.5 L1042.8,254.2 L1055.6,251.7 L1068.6,249.0 L1051.5,227.5 L1034.4,206.8 L1017.3,187.0 L1000.2,168.3 L983.1,150.9 L966.0,135.0 L948.9,120.7 L931.9,108.1 L914.8,97.3 L897.7,88.4 L880.6,81.5 L863.5,76.6 L846.4,73.6 L829.3,72.7 L812.2,73.6 L795.1,76.5 L778.0,81.1 L760.9,87.4 L743.8,95.2 L726.7,104.5 L709.6,114.9 L692.6,126.5 L675.5,138.9Z" fill="#f7831f"/>
<path d="M662.8,148.5 L664.2,154.2 L665.8,159.8 L667.8,165.3 L670.2,170.6 L672.1,175.6 L674.2,180.5 L676.6,185.2 L679.2,189.7 L682.0,194.1 L685.1,198.4 L688.4,202.5 L691.9,206.5 L695.7,210.3 L699.7,213.9 L703.8,217.5 L708.2,220.9 L712.8,224.1 L717.6,227.2 L722.5,230.2 L727.7,233.0 L733.1,235.7 L738.7,238.3 L744.4,240.7 L750.2,243.0 L756.1,245.1 L762.1,247.1 L768.0,249.0 L774.0,250.7 L779.7,252.3 L784.8,253.5 L790.0,254.7 L796.1,256.0 L802.6,257.3 L809.4,258.5 L816.6,259.7 L824.0,260.7 L831.7,261.7 L839.5,262.5 L847.6,263.2 L855.9,263.8 L864.4,264.2 L873.0,264.5 L881.8,264.7 L890.8,264.7 L900.0,264.5 L909.4,264.2 L919.1,263.8 L928.8,263.1 L938.8,262.4 L949.0,261.4 L959.4,260.3 L970.0,259.1 L980.7,257.6 L991.7,256.0 L1002.9,254.3 L1014.3,252.3 L1026.6,250.4 L1039.0,248.2 L1051.5,245.9 L1064.1,243.3 L1047.4,222.5 L1030.7,202.4 L1014.0,183.2 L997.2,165.2 L980.5,148.4 L963.8,133.0 L947.1,119.2 L930.4,107.1 L913.6,96.6 L896.9,88.1 L880.2,81.4 L863.5,76.6 L846.8,73.7 L830.0,72.7 L813.3,73.5 L796.6,76.1 L779.9,80.5 L763.2,86.5 L746.4,93.9 L729.7,102.8 L713.0,112.8 L696.3,123.9 L679.6,135.8Z" fill="#f67520"/>
<path d="M667.3,145.0 L668.8,150.5 L670.5,155.9 L672.6,161.2 L675.0,166.4 L677.2,171.3 L679.4,176.0 L681.8,180.5 L684.4,184.9 L687.3,189.2 L690.4,193.3 L693.7,197.3 L697.2,201.1 L701.0,204.8 L704.9,208.4 L709.1,211.8 L713.4,215.1 L718.0,218.2 L722.7,221.2 L727.6,224.1 L732.6,226.8 L737.8,229.4 L743.2,231.9 L748.7,234.2 L754.4,236.5 L760.1,238.5 L765.9,240.5 L771.7,242.3 L777.4,243.9 L783.0,245.4 L788.0,246.7 L793.0,247.8 L798.9,249.1 L805.2,250.3 L811.8,251.5 L818.8,252.6 L825.9,253.6 L833.4,254.6 L841.0,255.4 L848.8,256.1 L856.8,256.6 L865.0,257.1 L873.4,257.4 L882.0,257.5 L890.8,257.5 L899.7,257.4 L908.9,257.2 L918.3,256.8 L927.8,256.2 L937.6,255.5 L947.5,254.7 L957.6,253.6 L967.9,252.5 L978.4,251.1 L989.0,249.6 L999.9,247.9 L1011.2,246.2 L1023.1,244.3 L1035.2,242.3 L1047.3,240.1 L1059.6,237.7 L1043.3,217.4 L1026.9,198.0 L1010.6,179.5 L994.2,162.1 L977.9,145.9 L961.6,131.1 L945.2,117.8 L928.9,106.0 L912.5,96.0 L896.2,87.7 L879.8,81.2 L863.5,76.6 L847.1,73.7 L830.8,72.7 L814.4,73.4 L798.1,75.8 L781.8,79.9 L765.4,85.6 L749.1,92.7 L732.7,101.1 L716.4,110.7 L700.0,121.3 L683.7,132.8Z" fill="#f46820"/>
<path d="M671.9,141.5 L673.4,146.9 L675.2,152.1 L677.4,157.2 L679.9,162.2 L682.3,167.0 L684.5,171.5 L687.0,175.9 L689.6,180.1 L692.5,184.2 L695.6,188.2 L699.0,192.1 L702.5,195.8 L706.2,199.3 L710.2,202.8 L714.3,206.1 L718.6,209.3 L723.1,212.3 L727.7,215.2 L732.6,218.0 L737.5,220.6 L742.6,223.2 L747.8,225.5 L753.2,227.8 L758.6,229.9 L764.2,231.9 L769.8,233.8 L775.4,235.5 L781.0,237.1 L786.3,238.6 L791.1,239.8 L796.0,240.9 L801.7,242.1 L807.8,243.3 L814.2,244.5 L820.9,245.5 L827.9,246.5 L835.0,247.4 L842.4,248.2 L849.9,248.9 L857.7,249.4 L865.7,249.9 L873.8,250.2 L882.2,250.4 L890.7,250.4 L899.5,250.4 L908.4,250.2 L917.5,249.8 L926.8,249.3 L936.3,248.7 L945.9,247.9 L955.8,246.9 L965.8,245.8 L976.0,244.6 L986.3,243.2 L996.9,241.6 L1008.0,240.0 L1019.6,238.2 L1031.3,236.3 L1043.2,234.2 L1055.1,232.0 L1039.1,212.4 L1023.1,193.6 L1007.2,175.7 L991.2,159.0 L975.2,143.4 L959.3,129.1 L943.3,116.3 L927.3,105.0 L911.4,95.4 L895.4,87.4 L879.4,81.1 L863.5,76.6 L847.5,73.8 L831.6,72.7 L815.6,73.3 L799.6,75.5 L783.7,79.4 L767.7,84.7 L751.7,91.4 L735.8,99.4 L719.8,108.6 L703.8,118.8 L687.9,129.8Z" fill="#f35c21"/>
<path d="M676.5,138.1 L678.1,143.3 L680.0,148.3 L682.2,153.2 L684.8,158.0 L687.4,162.6 L689.7,167.0 L692.2,171.2 L694.9,175.3 L697.8,179.3 L700.9,183.1 L704.2,186.8 L707.8,190.4 L711.5,193.9 L715.4,197.2 L719.5,200.4 L723.7,203.4 L728.1,206.4 L732.7,209.2 L737.5,211.9 L742.3,214.4 L747.3,216.9 L752.5,219.2 L757.7,221.3 L763.0,223.4 L768.3,225.3 L773.7,227.1 L779.1,228.8 L784.5,230.3 L789.7,231.7 L794.3,232.9 L799.1,234.0 L804.5,235.1 L810.4,236.3 L816.6,237.4 L823.0,238.4 L829.7,239.4 L836.6,240.3 L843.8,241.0 L851.1,241.7 L858.7,242.3 L866.4,242.7 L874.4,243.1 L882.5,243.3 L890.8,243.4 L899.3,243.3 L908.0,243.1 L916.8,242.8 L925.9,242.4 L935.1,241.8 L944.4,241.1 L954.0,240.2 L963.7,239.2 L973.6,238.0 L983.6,236.7 L993.9,235.3 L1004.9,233.8 L1016.1,232.2 L1027.5,230.4 L1038.9,228.4 L1050.5,226.3 L1034.9,207.4 L1019.3,189.2 L1003.7,172.0 L988.2,155.9 L972.6,140.9 L957.0,127.2 L941.4,114.9 L925.8,104.0 L910.2,94.7 L894.7,87.0 L879.1,81.0 L863.5,76.6 L847.9,73.8 L832.3,72.7 L816.7,73.2 L801.1,75.3 L785.6,78.8 L770.0,83.9 L754.4,90.2 L738.8,97.8 L723.2,106.5 L707.6,116.2 L692.1,126.8Z" fill="#f15022"/>
<path d="M681.1,134.7 L682.8,139.6 L684.8,144.5 L687.1,149.2 L689.7,153.8 L692.5,158.3 L694.9,162.5 L697.4,166.5 L700.1,170.5 L703.1,174.3 L706.2,178.0 L709.5,181.6 L713.0,185.0 L716.7,188.3 L720.5,191.5 L724.6,194.6 L728.7,197.5 L733.1,200.4 L737.6,203.1 L742.2,205.7 L747.0,208.1 L751.9,210.5 L756.9,212.7 L762.0,214.8 L767.1,216.8 L772.4,218.7 L777.6,220.4 L782.9,222.0 L788.1,223.5 L793.1,224.8 L797.6,225.9 L802.1,227.0 L807.4,228.1 L813.1,229.3 L819.1,230.3 L825.3,231.3 L831.8,232.3 L838.5,233.1 L845.5,233.9 L852.6,234.6 L859.9,235.1 L867.4,235.6 L875.1,235.9 L883.0,236.2 L891.0,236.3 L899.3,236.3 L907.7,236.1 L916.3,235.9 L925.0,235.5 L933.9,234.9 L943.0,234.3 L952.2,233.5 L961.6,232.6 L971.2,231.5 L981.0,230.3 L990.9,228.9 L1001.7,227.6 L1012.6,226.1 L1023.6,224.4 L1034.7,222.6 L1045.8,220.6 L1030.6,202.3 L1015.4,184.9 L1000.3,168.3 L985.1,152.8 L969.9,138.4 L954.7,125.3 L939.5,113.5 L924.3,103.1 L909.1,94.1 L893.9,86.7 L878.7,80.8 L863.5,76.6 L848.3,73.8 L833.1,72.7 L817.9,73.1 L802.7,75.0 L787.5,78.3 L772.3,83.0 L757.1,89.0 L741.9,96.2 L726.7,104.5 L711.5,113.7 L696.3,123.9Z" fill="#f04422"/>
<path d="M685.8,131.3 L687.6,136.0 L689.7,140.6 L692.0,145.2 L694.6,149.6 L697.5,153.9 L700.1,158.0 L702.7,161.9 L705.4,165.7 L708.3,169.3 L711.5,172.9 L714.8,176.3 L718.2,179.6 L721.9,182.8 L725.7,185.9 L729.6,188.8 L733.8,191.7 L738.0,194.4 L742.4,197.0 L747.0,199.5 L751.6,201.9 L756.4,204.1 L761.3,206.3 L766.2,208.3 L771.3,210.2 L776.3,212.0 L781.4,213.7 L786.5,215.2 L791.6,216.7 L796.5,217.9 L800.8,219.0 L805.2,220.0 L810.3,221.1 L815.8,222.2 L821.6,223.3 L827.7,224.3 L834.0,225.2 L840.5,226.0 L847.2,226.8 L854.1,227.4 L861.1,228.0 L868.4,228.4 L875.9,228.8 L883.5,229.0 L891.3,229.2 L899.2,229.2 L907.4,229.1 L915.7,228.9 L924.1,228.5 L932.7,228.1 L941.5,227.5 L950.5,226.8 L959.6,225.9 L968.8,224.9 L978.2,223.8 L988.0,222.6 L998.5,221.4 L1009.0,220.0 L1019.6,218.4 L1030.3,216.7 L1041.1,214.9 L1026.3,197.3 L1011.5,180.5 L996.7,164.6 L981.9,149.7 L967.1,135.9 L952.3,123.4 L937.5,112.0 L922.7,102.1 L907.9,93.5 L893.1,86.4 L878.3,80.7 L863.5,76.6 L848.7,73.9 L833.9,72.7 L819.1,73.0 L804.3,74.7 L789.5,77.8 L774.7,82.2 L759.9,87.8 L745.0,94.6 L730.2,102.5 L715.4,111.3 L700.6,120.9Z" fill="#ef3823"/>
<path d="M690.6,127.9 L692.5,132.4 L694.6,136.8 L697.0,141.2 L699.6,145.4 L702.5,149.5 L705.4,153.5 L708.0,157.2 L710.7,160.9 L713.7,164.4 L716.8,167.8 L720.0,171.1 L723.5,174.2 L727.1,177.3 L730.8,180.2 L734.7,183.1 L738.8,185.8 L743.0,188.4 L747.3,190.9 L751.7,193.3 L756.3,195.6 L760.9,197.7 L765.7,199.8 L770.5,201.8 L775.4,203.6 L780.3,205.3 L785.3,206.9 L790.2,208.4 L795.1,209.8 L799.8,211.1 L804.0,212.1 L808.3,213.1 L813.2,214.2 L818.6,215.2 L824.2,216.2 L830.0,217.2 L836.1,218.1 L842.4,218.9 L848.8,219.6 L855.5,220.3 L862.4,220.8 L869.4,221.3 L876.6,221.7 L883.9,221.9 L891.5,222.1 L899.2,222.2 L907.0,222.1 L915.0,221.9 L923.2,221.6 L931.5,221.2 L940.0,220.7 L948.6,220.0 L957.4,219.3 L966.4,218.4 L975.4,217.3 L985.2,216.3 L995.2,215.1 L1005.4,213.9 L1015.6,212.4 L1025.9,210.9 L1036.4,209.1 L1022.0,192.3 L1007.6,176.2 L993.1,160.9 L978.7,146.7 L964.3,133.5 L949.9,121.4 L935.5,110.6 L921.1,101.1 L906.7,92.9 L892.3,86.0 L877.9,80.6 L863.5,76.6 L849.1,73.9 L834.7,72.7 L820.3,72.9 L805.9,74.5 L791.4,77.3 L777.0,81.4 L762.6,86.7 L748.2,93.1 L733.8,100.5 L719.4,108.8 L705.0,118.0Z" fill="#ee3023"/>
<path d="M695.4,124.5 L697.4,128.8 L699.6,133.0 L702.0,137.2 L704.6,141.2 L707.6,145.2 L710.7,149.0 L713.3,152.6 L716.1,156.1 L719.0,159.4 L722.1,162.7 L725.4,165.8 L728.8,168.8 L732.3,171.8 L736.0,174.6 L739.8,177.3 L743.8,179.9 L747.9,182.4 L752.1,184.8 L756.5,187.1 L760.9,189.3 L765.4,191.4 L770.0,193.4 L774.7,195.2 L779.5,197.0 L784.2,198.7 L789.1,200.2 L793.8,201.7 L798.6,203.0 L803.1,204.2 L807.2,205.2 L811.3,206.1 L816.1,207.2 L821.3,208.2 L826.7,209.2 L832.3,210.1 L838.2,211.0 L844.3,211.8 L850.5,212.5 L857.0,213.2 L863.6,213.7 L870.3,214.2 L877.3,214.6 L884.4,214.8 L891.6,215.0 L899.1,215.1 L906.6,215.1 L914.4,214.9 L922.2,214.7 L930.3,214.4 L938.4,213.9 L946.8,213.3 L955.2,212.6 L963.8,211.8 L972.6,210.8 L982.2,209.9 L991.9,208.9 L1001.7,207.7 L1011.5,206.4 L1021.5,205.0 L1031.5,203.4 L1017.5,187.2 L1003.5,171.8 L989.5,157.2 L975.5,143.6 L961.5,131.0 L947.5,119.5 L933.5,109.2 L919.5,100.1 L905.5,92.2 L891.5,85.7 L877.5,80.5 L863.5,76.6 L849.5,74.0 L835.5,72.8 L821.5,72.9 L807.5,74.2 L793.5,76.8 L779.5,80.6 L765.5,85.6 L751.5,91.6 L737.5,98.5 L723.4,106.4 L709.4,115.1Z" fill="#ed2b23"/>
<path d="M700.4,121.1 L702.4,125.2 L704.6,129.3 L707.1,133.2 L709.7,137.1 L712.6,140.8 L715.8,144.5 L718.7,148.0 L721.5,151.3 L724.4,154.5 L727.5,157.6 L730.7,160.6 L734.1,163.5 L737.6,166.3 L741.2,169.0 L745.0,171.6 L748.9,174.1 L752.9,176.5 L757.0,178.7 L761.2,180.9 L765.5,183.0 L769.9,185.0 L774.4,186.9 L779.0,188.7 L783.6,190.4 L788.2,192.0 L792.8,193.5 L797.5,194.9 L802.0,196.2 L806.5,197.3 L810.4,198.3 L814.4,199.2 L819.0,200.2 L824.0,201.2 L829.2,202.1 L834.7,203.1 L840.3,203.9 L846.2,204.7 L852.2,205.4 L858.4,206.0 L864.7,206.6 L871.3,207.1 L878.0,207.5 L884.8,207.8 L891.8,208.0 L898.9,208.1 L906.2,208.1 L913.7,208.0 L921.2,207.8 L929.0,207.5 L936.8,207.1 L944.8,206.6 L953.0,205.9 L961.3,205.2 L970.0,204.4 L979.2,203.6 L988.5,202.7 L997.9,201.6 L1007.4,200.4 L1017.0,199.1 L1026.6,197.6 L1013.0,182.2 L999.4,167.4 L985.8,153.6 L972.2,140.6 L958.6,128.6 L945.0,117.6 L931.4,107.8 L917.9,99.1 L904.3,91.6 L890.7,85.3 L877.1,80.3 L863.5,76.6 L849.9,74.1 L836.3,72.8 L822.7,72.8 L809.1,74.0 L795.5,76.4 L781.9,79.9 L768.3,84.5 L754.7,90.1 L741.1,96.6 L727.5,104.0 L714.0,112.2Z" fill="#ec2724"/>
<path d="M705.4,117.7 L707.4,121.7 L709.7,125.5 L712.2,129.2 L714.9,132.9 L717.8,136.5 L720.9,140.0 L724.2,143.4 L726.9,146.5 L729.8,149.6 L732.9,152.5 L736.1,155.4 L739.4,158.1 L742.9,160.8 L746.4,163.4 L750.1,165.8 L753.9,168.2 L757.8,170.5 L761.8,172.7 L766.0,174.8 L770.2,176.8 L774.4,178.7 L778.8,180.5 L783.2,182.2 L787.6,183.8 L792.1,185.4 L796.6,186.8 L801.1,188.1 L805.5,189.4 L809.8,190.5 L813.6,191.4 L817.4,192.3 L821.9,193.2 L826.7,194.2 L831.7,195.1 L837.0,196.0 L842.4,196.8 L848.0,197.6 L853.8,198.3 L859.8,198.9 L865.9,199.5 L872.2,200.0 L878.6,200.3 L885.2,200.7 L891.9,200.9 L898.8,201.0 L905.8,201.1 L912.9,201.0 L920.2,200.9 L927.6,200.6 L935.2,200.3 L942.8,199.8 L950.7,199.3 L958.6,198.6 L967.3,198.0 L976.2,197.3 L985.1,196.4 L994.1,195.5 L1003.2,194.4 L1012.3,193.2 L1021.6,191.8 L1008.4,177.1 L995.2,163.1 L982.1,149.9 L968.9,137.5 L955.7,126.1 L942.5,115.7 L929.4,106.4 L916.2,98.1 L903.0,91.0 L889.8,85.0 L876.7,80.2 L863.5,76.6 L850.3,74.1 L837.1,72.9 L824.0,72.8 L810.8,73.8 L797.6,75.9 L784.4,79.2 L771.3,83.4 L758.1,88.6 L744.9,94.7 L731.7,101.6 L718.6,109.3Z" fill="#ec2324"/>
<path d="M710.5,114.4 L712.6,118.1 L714.9,121.8 L717.4,125.3 L720.1,128.8 L723.0,132.2 L726.1,135.5 L729.4,138.7 L732.5,141.8 L735.4,144.7 L738.4,147.5 L741.5,150.2 L744.8,152.8 L748.2,155.3 L751.7,157.8 L755.3,160.1 L759.0,162.4 L762.8,164.6 L766.7,166.6 L770.7,168.6 L774.8,170.5 L779.0,172.4 L783.2,174.1 L787.4,175.7 L791.7,177.3 L796.1,178.7 L800.4,180.1 L804.7,181.4 L809.0,182.5 L813.1,183.6 L816.7,184.5 L820.4,185.4 L824.7,186.3 L829.3,187.2 L834.2,188.1 L839.2,189.0 L844.5,189.8 L849.9,190.5 L855.4,191.2 L861.1,191.8 L867.0,192.4 L873.0,192.8 L879.2,193.2 L885.5,193.6 L892.0,193.8 L898.5,194.0 L905.2,194.0 L912.1,194.0 L919.1,193.9 L926.2,193.7 L933.4,193.4 L940.8,193.1 L948.3,192.6 L956.2,192.1 L964.6,191.6 L973.1,190.9 L981.6,190.2 L990.2,189.3 L998.9,188.3 L1007.6,187.2 L1016.5,186.0 L1003.7,172.0 L991.0,158.7 L978.2,146.2 L965.5,134.5 L952.7,123.7 L940.0,113.8 L927.2,105.0 L914.5,97.1 L901.7,90.3 L889.0,84.6 L876.2,80.0 L863.5,76.6 L850.7,74.2 L838.0,72.9 L825.2,72.7 L812.5,73.6 L799.7,75.5 L787.0,78.4 L774.2,82.3 L761.5,87.2 L748.7,92.8 L736.0,99.3 L723.2,106.5Z" fill="#eb1e24"/>
<path d="M715.7,111.1 L717.9,114.6 L720.2,118.0 L722.7,121.4 L725.4,124.7 L728.3,127.9 L731.3,131.0 L734.6,134.0 L738.0,137.0 L740.9,139.8 L743.9,142.4 L747.0,145.0 L750.2,147.5 L753.6,149.9 L757.0,152.2 L760.5,154.4 L764.1,156.6 L767.8,158.6 L771.6,160.6 L775.5,162.5 L779.5,164.3 L783.5,166.0 L787.6,167.7 L791.7,169.2 L795.8,170.7 L800.0,172.1 L804.2,173.4 L808.3,174.6 L812.4,175.8 L816.4,176.8 L819.9,177.6 L823.5,178.4 L827.6,179.3 L832.0,180.2 L836.6,181.1 L841.5,181.9 L846.5,182.7 L851.7,183.4 L857.0,184.1 L862.5,184.7 L868.1,185.2 L873.9,185.7 L879.8,186.1 L885.8,186.5 L892.0,186.7 L898.3,186.9 L904.7,187.0 L911.2,187.0 L917.9,187.0 L924.7,186.8 L931.6,186.6 L938.6,186.3 L945.9,185.9 L953.8,185.6 L961.8,185.1 L969.9,184.6 L978.0,183.9 L986.2,183.1 L994.5,182.3 L1002.8,181.3 L1011.2,180.2 L998.9,166.9 L986.6,154.3 L974.3,142.5 L962.0,131.4 L949.7,121.2 L937.4,111.9 L925.0,103.6 L912.7,96.1 L900.4,89.7 L888.1,84.3 L875.8,79.9 L863.5,76.6 L851.2,74.2 L838.9,73.0 L826.5,72.7 L814.2,73.4 L801.9,75.1 L789.6,77.8 L777.3,81.3 L765.0,85.8 L752.7,91.0 L740.3,97.0 L728.0,103.7Z" fill="#e61c24"/>
<path d="M721.1,107.8 L723.3,111.1 L725.6,114.3 L728.2,117.5 L730.8,120.6 L733.7,123.6 L736.7,126.5 L739.8,129.4 L743.2,132.2 L746.6,134.9 L749.5,137.4 L752.6,139.8 L755.7,142.2 L759.0,144.4 L762.3,146.6 L765.8,148.7 L769.3,150.8 L772.9,152.7 L776.6,154.6 L780.3,156.4 L784.2,158.1 L788.0,159.7 L792.0,161.3 L795.9,162.8 L799.9,164.2 L804.0,165.5 L808.0,166.7 L812.0,167.9 L815.9,169.0 L819.7,169.9 L823.0,170.8 L826.5,171.5 L830.4,172.4 L834.6,173.2 L839.1,174.1 L843.7,174.9 L848.5,175.6 L853.4,176.3 L858.5,177.0 L863.8,177.6 L869.1,178.1 L874.6,178.6 L880.3,179.0 L886.0,179.4 L891.9,179.7 L897.9,179.9 L904.0,180.0 L910.3,180.1 L916.6,180.0 L923.1,179.9 L929.7,179.8 L936.4,179.5 L943.8,179.3 L951.3,179.0 L958.9,178.7 L966.6,178.2 L974.3,177.6 L982.1,176.9 L989.9,176.2 L997.9,175.3 L1005.9,174.3 L994.0,161.8 L982.2,150.0 L970.3,138.8 L958.4,128.4 L946.6,118.8 L934.7,110.0 L922.8,102.1 L911.0,95.1 L899.1,89.1 L887.2,83.9 L875.3,79.8 L863.5,76.6 L851.6,74.3 L839.7,73.0 L827.9,72.7 L816.0,73.2 L804.1,74.7 L792.3,77.1 L780.4,80.3 L768.5,84.4 L756.7,89.2 L744.8,94.7 L732.9,101.0Z" fill="#dd1d25"/>
<path d="M726.6,104.6 L728.8,107.7 L731.2,110.7 L733.7,113.6 L736.3,116.5 L739.1,119.3 L742.1,122.1 L745.2,124.8 L748.4,127.4 L751.8,129.9 L755.2,132.4 L758.2,134.7 L761.3,136.9 L764.5,139.0 L767.7,141.1 L771.1,143.1 L774.5,145.0 L778.0,146.8 L781.6,148.6 L785.2,150.3 L788.9,151.9 L792.6,153.4 L796.4,154.9 L800.2,156.3 L804.0,157.6 L807.9,158.9 L811.8,160.1 L815.6,161.2 L819.3,162.2 L823.0,163.1 L826.2,163.9 L829.4,164.6 L833.2,165.5 L837.3,166.3 L841.5,167.1 L845.9,167.8 L850.5,168.6 L855.2,169.3 L860.0,169.9 L865.0,170.5 L870.1,171.0 L875.4,171.5 L880.7,171.9 L886.2,172.3 L891.8,172.6 L897.5,172.8 L903.3,173.0 L909.3,173.1 L915.3,173.1 L921.4,173.0 L927.7,172.9 L934.6,172.8 L941.7,172.7 L948.8,172.5 L955.9,172.2 L963.2,171.8 L970.5,171.3 L977.8,170.7 L985.3,170.1 L992.8,169.3 L1000.4,168.5 L989.0,156.7 L977.6,145.6 L966.2,135.1 L954.7,125.3 L943.3,116.3 L931.9,108.1 L920.5,100.7 L909.1,94.1 L897.7,88.4 L886.3,83.6 L874.9,79.6 L863.5,76.6 L852.1,74.4 L840.7,73.1 L829.3,72.7 L817.9,73.1 L806.4,74.4 L795.0,76.5 L783.6,79.4 L772.2,83.0 L760.8,87.4 L749.4,92.5 L738.0,98.2Z" fill="#d41d25"/>
<path d="M732.3,101.4 L734.5,104.2 L736.9,107.0 L739.3,109.8 L742.0,112.5 L744.7,115.1 L747.6,117.7 L750.6,120.2 L753.7,122.6 L757.0,125.0 L760.4,127.3 L763.9,129.6 L767.0,131.6 L770.1,133.6 L773.2,135.6 L776.5,137.4 L779.8,139.2 L783.2,140.9 L786.6,142.6 L790.1,144.2 L793.6,145.7 L797.2,147.1 L800.8,148.5 L804.5,149.8 L808.2,151.1 L811.9,152.3 L815.5,153.4 L819.2,154.4 L822.8,155.4 L826.2,156.3 L829.3,157.0 L832.4,157.7 L836.0,158.5 L839.8,159.3 L843.9,160.1 L848.1,160.8 L852.4,161.5 L856.9,162.2 L861.5,162.8 L866.2,163.4 L871.1,163.9 L876.0,164.4 L881.1,164.8 L886.3,165.2 L891.6,165.5 L897.0,165.7 L902.5,165.9 L908.1,166.0 L913.9,166.1 L919.7,166.1 L926.2,166.2 L932.8,166.2 L939.4,166.1 L946.1,165.9 L952.9,165.7 L959.7,165.4 L966.5,165.0 L973.5,164.5 L980.5,163.9 L987.6,163.3 L994.7,162.5 L983.8,151.5 L972.8,141.1 L961.9,131.4 L951.0,122.3 L940.0,113.9 L929.1,106.2 L918.2,99.3 L907.2,93.1 L896.3,87.8 L885.4,83.2 L874.4,79.5 L863.5,76.6 L852.5,74.4 L841.6,73.2 L830.7,72.7 L819.7,73.0 L808.8,74.0 L797.9,75.9 L786.9,78.5 L776.0,81.8 L765.1,85.7 L754.1,90.3 L743.2,95.6Z" fill="#ca1e26"/>
<path d="M738.1,98.2 L740.3,100.8 L742.7,103.4 L745.2,106.0 L747.7,108.5 L750.4,110.9 L753.2,113.3 L756.1,115.6 L759.1,117.8 L762.3,120.0 L765.5,122.2 L768.9,124.3 L772.3,126.3 L775.7,128.3 L778.8,130.1 L781.9,131.8 L785.1,133.5 L788.4,135.1 L791.7,136.6 L795.0,138.1 L798.4,139.5 L801.9,140.9 L805.3,142.2 L808.8,143.4 L812.3,144.6 L815.8,145.7 L819.3,146.7 L822.8,147.7 L826.2,148.6 L829.5,149.5 L832.4,150.2 L835.4,150.9 L838.8,151.6 L842.4,152.3 L846.2,153.1 L850.2,153.8 L854.3,154.4 L858.5,155.1 L862.9,155.7 L867.4,156.3 L872.0,156.8 L876.6,157.2 L881.4,157.7 L886.3,158.0 L891.3,158.4 L896.4,158.6 L901.6,158.9 L906.9,159.0 L912.7,159.2 L918.7,159.4 L924.8,159.5 L930.9,159.5 L937.1,159.5 L943.3,159.4 L949.7,159.2 L956.0,158.9 L962.5,158.6 L969.0,158.2 L975.5,157.7 L982.2,157.2 L988.9,156.6 L978.4,146.4 L968.0,136.7 L957.5,127.6 L947.1,119.2 L936.6,111.4 L926.2,104.3 L915.7,97.8 L905.3,92.1 L894.8,87.1 L884.4,82.9 L873.9,79.3 L863.5,76.6 L853.0,74.5 L842.6,73.2 L832.1,72.7 L821.7,72.9 L811.2,73.7 L800.8,75.3 L790.4,77.6 L779.9,80.5 L769.5,84.0 L759.0,88.2 L748.6,92.9Z" fill="#be1d24"/>
<path d="M744.2,95.1 L746.4,97.5 L748.7,99.9 L751.1,102.2 L753.7,104.5 L756.3,106.7 L759.0,108.9 L761.8,111.0 L764.7,113.1 L767.7,115.1 L770.7,117.1 L773.9,119.0 L777.2,120.9 L780.5,122.7 L784.0,124.5 L787.5,126.2 L790.6,127.7 L793.7,129.2 L796.8,130.7 L800.0,132.0 L803.3,133.4 L806.6,134.6 L809.9,135.8 L813.2,137.0 L816.5,138.1 L819.8,139.1 L823.2,140.1 L826.4,141.0 L829.7,141.9 L832.8,142.7 L835.5,143.3 L838.3,144.0 L841.5,144.7 L845.0,145.4 L848.6,146.1 L852.3,146.7 L856.2,147.4 L860.2,148.0 L864.2,148.6 L868.4,149.1 L872.8,149.6 L877.2,150.1 L881.7,150.5 L886.2,150.9 L890.9,151.2 L895.7,151.5 L901.1,151.9 L906.5,152.2 L912.0,152.4 L917.6,152.6 L923.2,152.7 L928.9,152.8 L934.6,152.8 L940.4,152.8 L946.3,152.6 L952.2,152.4 L958.2,152.2 L964.2,151.9 L970.4,151.5 L976.5,151.1 L982.8,150.6 L972.8,141.1 L962.9,132.2 L953.0,123.9 L943.0,116.1 L933.1,108.9 L923.1,102.3 L913.2,96.4 L903.2,91.1 L893.3,86.5 L883.4,82.5 L873.4,79.2 L863.5,76.6 L853.5,74.6 L843.6,73.3 L833.7,72.7 L823.7,72.8 L813.8,73.5 L803.8,74.8 L793.9,76.7 L784.0,79.3 L774.0,82.4 L764.1,86.1 L754.1,90.3Z" fill="#b11c22"/>
<path d="M750.5,92.0 L752.7,94.2 L755.0,96.4 L757.3,98.5 L759.8,100.6 L762.3,102.6 L764.9,104.6 L767.6,106.5 L770.3,108.4 L773.2,110.2 L776.1,112.0 L779.0,113.8 L782.1,115.5 L785.2,117.1 L788.4,118.7 L791.6,120.3 L795.0,121.8 L798.4,123.3 L801.9,124.7 L805.1,126.0 L808.2,127.2 L811.3,128.4 L814.4,129.5 L817.6,130.6 L820.7,131.6 L823.9,132.6 L827.0,133.5 L830.1,134.3 L833.1,135.1 L836.0,135.9 L838.6,136.5 L841.2,137.1 L844.2,137.8 L847.5,138.4 L850.8,139.1 L854.3,139.7 L858.0,140.3 L861.7,140.9 L865.5,141.5 L869.4,142.0 L873.5,142.5 L877.6,143.0 L882.0,143.4 L886.7,143.9 L891.5,144.4 L896.4,144.8 L901.3,145.1 L906.3,145.4 L911.3,145.7 L916.4,145.9 L921.6,146.0 L926.8,146.1 L932.0,146.1 L937.4,146.1 L942.8,146.1 L948.2,145.9 L953.8,145.8 L959.3,145.5 L965.0,145.2 L970.7,144.9 L976.4,144.5 L967.0,135.9 L957.6,127.7 L948.2,120.1 L938.8,113.0 L929.4,106.4 L920.0,100.4 L910.5,94.9 L901.1,90.1 L891.7,85.8 L882.3,82.1 L872.9,79.0 L863.5,76.6 L854.1,74.7 L844.7,73.4 L835.2,72.8 L825.8,72.7 L816.4,73.2 L807.0,74.3 L797.6,75.9 L788.2,78.1 L778.8,80.9 L769.4,84.1 L759.9,87.8Z" fill="#a31b20"/>
<path d="M757.2,89.0 L759.3,91.0 L761.5,92.9 L763.8,94.9 L766.1,96.7 L768.5,98.5 L771.0,100.3 L773.5,102.1 L776.1,103.7 L778.8,105.4 L781.5,107.0 L784.2,108.6 L787.1,110.1 L789.9,111.5 L792.8,113.0 L795.8,114.4 L798.8,115.7 L801.8,117.0 L804.9,118.3 L808.0,119.5 L811.1,120.6 L814.2,121.8 L817.4,122.8 L820.6,123.9 L823.7,124.9 L826.9,125.8 L830.0,126.7 L833.2,127.5 L836.2,128.3 L839.1,129.1 L841.7,129.7 L844.3,130.3 L847.3,130.9 L850.5,131.6 L853.9,132.3 L857.3,132.9 L860.9,133.5 L864.6,134.2 L868.4,134.8 L872.3,135.3 L876.2,135.8 L880.2,136.3 L884.3,136.8 L888.5,137.2 L892.8,137.6 L897.1,138.0 L901.5,138.3 L906.0,138.6 L910.5,138.9 L915.1,139.1 L919.8,139.2 L924.5,139.3 L929.3,139.4 L934.1,139.4 L939.1,139.4 L944.0,139.4 L949.1,139.3 L954.2,139.1 L959.3,138.9 L964.5,138.7 L969.8,138.4 L960.9,130.5 L952.1,123.2 L943.2,116.2 L934.4,109.8 L925.5,103.8 L916.6,98.4 L907.8,93.4 L898.9,89.0 L890.1,85.1 L881.2,81.7 L872.3,78.9 L863.5,76.6 L854.6,74.8 L845.8,73.5 L836.9,72.8 L828.0,72.7 L819.2,73.0 L810.3,73.8 L801.5,75.2 L792.6,77.0 L783.7,79.4 L774.9,82.1 L766.0,85.3Z" fill="#961a1e"/>
<path d="M764.2,86.1 L766.3,87.9 L768.5,89.6 L770.7,91.4 L773.0,93.1 L775.3,94.7 L777.7,96.3 L780.1,97.9 L782.6,99.4 L785.2,100.9 L787.8,102.4 L790.4,103.8 L793.1,105.2 L795.8,106.5 L798.6,107.8 L801.3,109.1 L804.2,110.3 L807.0,111.5 L809.9,112.6 L812.8,113.7 L815.8,114.8 L818.7,115.8 L821.7,116.8 L824.7,117.8 L827.6,118.7 L830.6,119.6 L833.5,120.4 L836.4,121.2 L839.3,121.9 L842.0,122.6 L844.4,123.1 L846.8,123.7 L849.6,124.3 L852.6,124.9 L855.7,125.6 L858.9,126.2 L862.2,126.8 L865.7,127.3 L869.2,127.9 L872.7,128.4 L876.4,128.9 L880.1,129.4 L883.9,129.9 L887.8,130.3 L891.7,130.7 L895.7,131.1 L899.8,131.4 L903.9,131.7 L908.1,132.0 L912.4,132.2 L916.7,132.4 L921.0,132.5 L925.4,132.7 L929.9,132.7 L934.5,132.8 L939.0,132.8 L943.7,132.7 L948.4,132.6 L953.1,132.5 L957.9,132.3 L962.8,132.1 L954.5,125.1 L946.2,118.6 L938.0,112.4 L929.7,106.6 L921.4,101.3 L913.1,96.4 L904.9,91.9 L896.6,87.9 L888.3,84.4 L880.0,81.3 L871.8,78.7 L863.5,76.6 L855.2,74.9 L846.9,73.7 L838.7,72.9 L830.4,72.7 L822.1,72.8 L813.8,73.5 L805.6,74.5 L797.3,76.0 L789.0,77.9 L780.7,80.2 L772.5,83.0Z" fill="#961a1e"/>
<path d="M771.6,83.3 L773.7,84.9 L775.8,86.4 L778.0,88.0 L780.2,89.5 L782.4,91.0 L784.7,92.4 L787.0,93.8 L789.4,95.2 L791.8,96.5 L794.3,97.8 L796.8,99.1 L799.3,100.3 L801.9,101.5 L804.5,102.7 L807.1,103.8 L809.8,105.0 L812.4,106.0 L815.1,107.1 L817.9,108.1 L820.6,109.0 L823.3,109.9 L826.1,110.8 L828.8,111.7 L831.6,112.5 L834.3,113.3 L837.0,114.1 L839.7,114.8 L842.3,115.5 L844.8,116.1 L847.1,116.6 L849.3,117.1 L851.9,117.7 L854.6,118.3 L857.5,118.8 L860.4,119.4 L863.5,120.0 L866.6,120.5 L869.8,121.0 L873.1,121.5 L876.5,122.0 L879.9,122.5 L883.4,122.9 L886.9,123.3 L890.5,123.7 L894.2,124.1 L897.9,124.4 L901.6,124.7 L905.5,125.0 L909.4,125.3 L913.3,125.5 L917.3,125.7 L921.3,125.8 L925.4,125.9 L929.5,126.0 L933.7,126.1 L937.9,126.1 L942.2,126.1 L946.5,126.0 L950.9,125.9 L955.3,125.8 L947.7,119.7 L940.0,113.9 L932.4,108.4 L924.7,103.3 L917.1,98.6 L909.4,94.3 L901.8,90.4 L894.1,86.8 L886.4,83.6 L878.8,80.9 L871.1,78.5 L863.5,76.6 L855.8,75.0 L848.2,73.8 L840.5,73.1 L832.9,72.7 L825.2,72.7 L817.6,73.1 L809.9,73.9 L802.3,75.1 L794.6,76.6 L786.9,78.5 L779.3,80.7Z" fill="#961a1e"/>
<path d="M779.7,80.6 L781.7,82.0 L783.7,83.4 L785.8,84.7 L787.9,86.0 L790.0,87.3 L792.2,88.6 L794.4,89.8 L796.6,91.0 L798.9,92.2 L801.2,93.4 L803.5,94.5 L805.9,95.6 L808.3,96.6 L810.7,97.7 L813.1,98.7 L815.6,99.6 L818.0,100.6 L820.5,101.5 L823.0,102.4 L825.6,103.3 L828.1,104.1 L830.6,104.9 L833.1,105.7 L835.6,106.4 L838.1,107.1 L840.6,107.8 L843.1,108.4 L845.4,109.0 L847.7,109.6 L849.7,110.1 L851.8,110.5 L854.1,111.0 L856.6,111.6 L859.2,112.1 L861.9,112.6 L864.6,113.1 L867.5,113.6 L870.4,114.1 L873.4,114.6 L876.4,115.1 L879.5,115.5 L882.6,115.9 L885.8,116.3 L889.0,116.7 L892.3,117.1 L895.7,117.4 L899.1,117.7 L902.5,118.0 L906.0,118.3 L909.6,118.5 L913.1,118.7 L916.8,118.9 L920.4,119.1 L924.1,119.2 L927.9,119.3 L931.7,119.4 L935.5,119.4 L939.4,119.4 L943.3,119.4 L947.3,119.4 L940.3,114.1 L933.3,109.1 L926.3,104.4 L919.4,100.0 L912.4,95.9 L905.4,92.2 L898.4,88.8 L891.4,85.7 L884.4,82.9 L877.5,80.4 L870.5,78.3 L863.5,76.6 L856.5,75.1 L849.5,74.0 L842.5,73.2 L835.5,72.8 L828.6,72.7 L821.6,72.9 L814.6,73.4 L807.6,74.2 L800.6,75.4 L793.6,76.8 L786.7,78.5Z" fill="#961a1e"/>
<path d="M788.5,78.1 L790.4,79.3 L792.3,80.4 L794.2,81.6 L796.2,82.7 L798.2,83.8 L800.2,84.9 L802.3,86.0 L804.3,87.0 L806.4,88.0 L808.6,89.0 L810.7,89.9 L812.9,90.9 L815.1,91.8 L817.3,92.7 L819.5,93.6 L821.7,94.4 L823.9,95.2 L826.2,96.0 L828.5,96.8 L830.7,97.5 L833.0,98.3 L835.3,99.0 L837.5,99.6 L839.8,100.3 L842.0,100.9 L844.3,101.5 L846.5,102.1 L848.6,102.6 L850.6,103.1 L852.4,103.5 L854.2,103.9 L856.3,104.4 L858.5,104.9 L860.8,105.4 L863.2,105.8 L865.7,106.3 L868.2,106.8 L870.8,107.2 L873.4,107.6 L876.1,108.1 L878.8,108.5 L881.6,108.9 L884.4,109.2 L887.3,109.6 L890.2,110.0 L893.1,110.3 L896.1,110.6 L899.2,110.9 L902.2,111.2 L905.3,111.4 L908.5,111.6 L911.7,111.9 L914.9,112.0 L918.2,112.2 L921.5,112.4 L924.8,112.5 L928.2,112.6 L931.6,112.7 L935.0,112.7 L938.5,112.7 L932.2,108.3 L926.0,104.2 L919.7,100.2 L913.5,96.6 L907.2,93.1 L901.0,90.0 L894.7,87.1 L888.5,84.4 L882.2,82.1 L876.0,80.0 L869.7,78.1 L863.5,76.6 L857.2,75.3 L851.0,74.2 L844.7,73.4 L838.5,72.9 L832.2,72.7 L826.0,72.7 L819.7,73.0 L813.5,73.5 L807.2,74.3 L801.0,75.3 L794.7,76.6Z" fill="#961a1e"/>
<path d="M798.4,75.8 L800.1,76.8 L801.9,77.7 L803.6,78.7 L805.4,79.6 L807.2,80.5 L809.1,81.4 L810.9,82.3 L812.8,83.1 L814.7,83.9 L816.6,84.8 L818.5,85.6 L820.4,86.3 L822.4,87.1 L824.3,87.8 L826.3,88.6 L828.3,89.3 L830.3,90.0 L832.2,90.6 L834.2,91.3 L836.2,91.9 L838.2,92.5 L840.2,93.1 L842.2,93.7 L844.2,94.2 L846.1,94.7 L848.0,95.3 L849.9,95.7 L851.8,96.2 L853.5,96.6 L855.1,97.0 L856.7,97.3 L858.5,97.7 L860.4,98.2 L862.4,98.6 L864.4,99.0 L866.5,99.4 L868.7,99.8 L870.9,100.2 L873.2,100.6 L875.5,101.0 L877.8,101.4 L880.2,101.7 L882.6,102.1 L885.1,102.4 L887.5,102.7 L890.1,103.1 L892.6,103.4 L895.2,103.6 L897.8,103.9 L900.5,104.2 L903.2,104.4 L905.9,104.6 L908.6,104.9 L911.4,105.0 L914.2,105.2 L917.0,105.4 L919.9,105.5 L922.8,105.7 L925.7,105.8 L928.6,105.9 L923.2,102.4 L917.8,99.0 L912.3,95.9 L906.9,93.0 L901.5,90.2 L896.0,87.7 L890.6,85.3 L885.2,83.2 L879.8,81.2 L874.3,79.5 L868.9,77.9 L863.5,76.6 L858.1,75.4 L852.6,74.5 L847.2,73.7 L841.8,73.2 L836.3,72.8 L830.9,72.7 L825.5,72.7 L820.1,72.9 L814.6,73.4 L809.2,74.0 L803.8,74.8Z" fill="#961a1e"/>
</g></g>
<path d="M474.5,667.8 L481.0,667.0 L535.8,679.8 L523.0,690.0 L510.0,701.2 L498.0,714.0 L486.0,725.2 L474.0,736.0 L463.8,742.4 L455.0,747.0 L459.0,737.0 L463.0,727.0 L467.0,718.0 L470.0,706.0 L472.0,690.0Z" fill="#3a5cb4"/>
<g clip-path="url(#wc)"><g filter="url(#bl)">
<path d="M380.0,470.0 L820.0,560.0 L820.0,600.0 L500.0,700.0 L500.0,760.0 L380.0,760.0Z" fill="#4a98d3"/>
<path d="M424.0,700.0 L480.0,690.0 L480.0,760.0 L424.0,760.0Z" fill="#2e3e9e"/>
<path d="M405.5,657.0 L408.7,644.5 L411.8,632.5 L414.7,621.0 L417.5,610.0 L420.2,599.6 L422.8,589.6 L425.3,580.1 L427.6,571.0 L429.8,562.5 L431.9,554.4 L433.9,546.8 L435.8,539.7 L437.5,533.1 L439.2,526.9 L440.8,521.1 L442.4,515.8 L443.8,511.0 L445.2,506.6 L446.5,502.6 L447.9,499.1 L449.3,496.1 L450.8,493.5 L452.7,491.4 L455.1,489.8 L458.6,488.9 L464.3,489.0 L474.5,490.6 L494.7,495.0 L535.6,505.0 L623.1,527.1 L710.5,549.4 L750.5,560.0 L769.3,565.5 L777.5,568.6 L780.3,570.7 L780.1,572.5 L778.1,574.2 L774.6,576.0 L770.0,577.9 L764.3,580.0 L757.7,582.3 L750.2,584.8 L741.8,587.5 L732.5,590.5 L722.3,593.8 L711.2,597.3 L699.3,601.1 L686.4,605.1 L672.6,609.4 L657.9,614.0 L642.2,618.9 L625.7,624.1 L608.2,629.5 L589.7,635.3 L570.3,641.3 L550.0,647.6 L528.6,654.2 L506.4,661.2 L483.1,668.4 L458.8,675.9 L456.6,701.0 L454.4,720.1 L452.2,734.2 L450.0,744.2 L447.7,751.0 L445.5,755.1 L443.3,757.4 L441.1,758.4 L438.8,758.4 L436.6,757.9 L434.4,757.2 L432.2,756.5 L430.0,755.7 L427.7,754.8 L425.5,753.7 L423.3,752.1 L421.1,749.6 L418.8,745.7 L416.6,740.0 L414.4,731.7 L412.2,720.1 L410.0,704.4 L407.7,683.7Z" fill="#4a96d2"/>
<path d="M405.6,658.1 L408.8,645.8 L411.9,633.9 L414.9,622.5 L417.7,611.6 L420.4,601.2 L423.0,591.3 L425.5,581.9 L427.9,572.9 L430.1,564.5 L432.3,556.5 L434.4,549.0 L436.4,542.0 L438.3,535.4 L440.2,529.3 L442.0,523.7 L443.8,518.5 L445.6,513.8 L447.4,509.5 L449.3,505.8 L451.4,502.5 L453.7,499.7 L456.6,497.4 L460.2,495.8 L465.2,494.9 L472.2,494.9 L482.7,496.2 L498.6,499.2 L522.9,504.7 L559.1,513.5 L621.7,529.3 L684.1,545.3 L719.5,554.7 L742.4,561.2 L756.2,565.8 L763.8,569.1 L767.2,571.8 L767.7,574.1 L766.1,576.3 L762.8,578.6 L758.2,580.9 L752.3,583.3 L745.4,586.0 L737.5,588.8 L728.7,591.9 L718.9,595.2 L708.1,598.7 L696.4,602.5 L683.8,606.6 L670.2,610.9 L655.7,615.5 L640.3,620.3 L623.9,625.5 L606.6,630.9 L588.4,636.6 L569.2,642.6 L549.0,648.9 L527.9,655.5 L505.8,662.4 L482.8,669.5 L458.8,677.0 L456.5,701.8 L454.3,720.6 L452.1,734.6 L449.9,744.4 L447.7,751.1 L445.5,755.2 L443.3,757.4 L441.0,758.4 L438.8,758.4 L436.6,757.9 L434.4,757.2 L432.2,756.5 L430.0,755.7 L427.8,754.8 L425.5,753.7 L423.3,752.1 L421.1,749.6 L418.9,745.8 L416.7,740.1 L414.5,731.9 L412.2,720.5 L410.0,705.0 L407.8,684.5Z" fill="#4993d1"/>
<path d="M405.7,659.3 L408.9,647.0 L412.0,635.2 L415.0,624.0 L417.8,613.2 L420.6,602.9 L423.2,593.0 L425.7,583.7 L428.1,574.8 L430.4,566.5 L432.7,558.6 L434.8,551.1 L436.9,544.2 L439.0,537.7 L441.1,531.7 L443.1,526.2 L445.2,521.1 L447.3,516.5 L449.5,512.4 L451.9,508.8 L454.6,505.7 L457.7,503.1 L461.5,501.1 L466.4,499.8 L472.8,499.3 L481.7,499.8 L494.0,501.6 L511.2,504.9 L534.9,510.3 L567.1,518.1 L620.2,531.5 L673.2,545.1 L704.6,553.5 L726.9,559.8 L742.0,564.7 L751.5,568.5 L756.7,571.7 L758.8,574.4 L758.5,576.9 L756.2,579.4 L752.4,581.8 L747.2,584.4 L740.8,587.2 L733.4,590.1 L724.9,593.2 L715.5,596.6 L705.1,600.2 L693.7,604.0 L681.3,608.0 L668.0,612.4 L653.7,616.9 L638.4,621.8 L622.3,626.9 L605.1,632.3 L587.1,638.0 L568.1,643.9 L548.1,650.2 L527.2,656.7 L505.3,663.6 L482.5,670.7 L458.7,678.1 L456.5,702.6 L454.3,721.2 L452.1,734.9 L449.8,744.6 L447.6,751.2 L445.4,755.3 L443.2,757.5 L441.0,758.4 L438.8,758.4 L436.6,757.9 L434.4,757.2 L432.2,756.5 L430.0,755.7 L427.8,754.8 L425.6,753.7 L423.3,752.1 L421.1,749.7 L418.9,745.9 L416.7,740.3 L414.5,732.2 L412.3,720.9 L410.1,705.6 L407.9,685.4Z" fill="#4991d1"/>
<path d="M405.8,660.5 L409.0,648.3 L412.1,636.6 L415.1,625.4 L418.0,614.7 L420.7,604.5 L423.4,594.8 L425.9,585.5 L428.4,576.7 L430.8,568.4 L433.1,560.6 L435.3,553.3 L437.5,546.4 L439.7,540.0 L441.9,534.1 L444.2,528.7 L446.5,523.7 L448.9,519.2 L451.5,515.3 L454.3,511.8 L457.4,508.8 L461.1,506.4 L465.7,504.6 L471.4,503.6 L478.9,503.4 L488.7,504.1 L501.8,506.1 L519.1,509.5 L541.7,514.6 L571.2,521.7 L618.8,533.7 L666.3,545.9 L694.9,553.5 L716.2,559.6 L731.4,564.5 L741.7,568.5 L747.9,571.9 L751.0,574.9 L751.6,577.6 L750.1,580.2 L746.9,582.9 L742.3,585.6 L736.4,588.4 L729.4,591.4 L721.3,594.6 L712.2,598.0 L702.1,601.6 L691.0,605.4 L678.8,609.5 L665.7,613.8 L651.6,618.4 L636.6,623.2 L620.6,628.3 L603.7,633.7 L585.8,639.3 L567.0,645.2 L547.2,651.4 L526.5,657.9 L504.8,664.7 L482.2,671.8 L458.6,679.2 L456.4,703.3 L454.2,721.7 L452.0,735.3 L449.8,744.9 L447.6,751.3 L445.4,755.3 L443.2,757.5 L441.0,758.4 L438.8,758.4 L436.6,757.9 L434.4,757.2 L432.2,756.5 L430.0,755.7 L427.8,754.8 L425.6,753.7 L423.4,752.2 L421.2,749.7 L419.0,746.0 L416.8,740.4 L414.6,732.4 L412.4,721.3 L410.2,706.1 L408.0,686.2Z" fill="#488ed0"/>
<path d="M405.9,661.6 L409.1,649.6 L412.2,638.0 L415.2,626.9 L418.1,616.3 L420.9,606.1 L423.6,596.5 L426.1,587.3 L428.6,578.6 L431.1,570.4 L433.4,562.7 L435.7,555.4 L438.0,548.6 L440.3,542.3 L442.7,536.5 L445.2,531.1 L447.7,526.3 L450.4,521.9 L453.3,518.0 L456.5,514.7 L460.1,511.9 L464.3,509.6 L469.3,508.0 L475.7,507.1 L483.8,507.1 L494.2,508.0 L507.6,510.1 L524.6,513.4 L546.2,518.2 L573.5,524.8 L617.4,535.9 L661.1,547.1 L687.7,554.2 L707.8,560.0 L722.8,564.9 L733.4,569.0 L740.3,572.5 L744.0,575.6 L745.2,578.5 L744.3,581.2 L741.7,584.0 L737.6,586.8 L732.2,589.7 L725.5,592.7 L717.8,596.0 L709.0,599.4 L699.2,603.0 L688.3,606.9 L676.4,611.0 L663.5,615.3 L649.6,619.8 L634.7,624.6 L618.9,629.7 L602.2,635.0 L584.5,640.6 L565.9,646.5 L546.3,652.7 L525.8,659.2 L504.3,665.9 L481.9,673.0 L458.5,680.3 L456.3,704.1 L454.1,722.2 L451.9,735.6 L449.7,745.1 L447.5,751.4 L445.3,755.4 L443.1,757.5 L441.0,758.4 L438.8,758.4 L436.6,757.9 L434.4,757.2 L432.2,756.5 L430.0,755.7 L427.8,754.8 L425.6,753.8 L423.4,752.2 L421.2,749.8 L419.0,746.1 L416.8,740.6 L414.6,732.7 L412.4,721.7 L410.2,706.7 L408.1,687.0Z" fill="#488ccf"/>
<path d="M406.0,662.8 L409.2,650.8 L412.3,639.3 L415.4,628.3 L418.3,617.8 L421.1,607.8 L423.8,598.2 L426.4,589.1 L428.9,580.5 L431.4,572.4 L433.8,564.7 L436.2,557.5 L438.5,550.8 L440.9,544.6 L443.4,538.8 L446.1,533.6 L448.9,528.8 L451.8,524.6 L455.0,520.8 L458.5,517.6 L462.5,514.9 L467.1,512.7 L472.6,511.3 L479.4,510.5 L487.9,510.6 L498.6,511.6 L512.0,513.7 L528.7,516.9 L549.3,521.5 L575.0,527.7 L616.0,538.0 L656.8,548.5 L681.8,555.2 L701.0,560.8 L715.6,565.6 L726.2,569.6 L733.4,573.2 L737.6,576.4 L739.3,579.4 L738.9,582.3 L736.7,585.1 L733.1,588.0 L728.0,591.0 L721.8,594.1 L714.4,597.4 L705.9,600.8 L696.3,604.5 L685.7,608.3 L674.0,612.4 L661.2,616.7 L647.5,621.2 L632.9,626.0 L617.3,631.1 L600.7,636.4 L583.2,642.0 L564.8,647.9 L545.4,654.0 L525.1,660.4 L503.8,667.1 L481.6,674.1 L458.4,681.4 L456.2,704.9 L454.0,722.8 L451.9,735.9 L449.7,745.3 L447.5,751.6 L445.3,755.4 L443.1,757.5 L440.9,758.4 L438.7,758.4 L436.6,757.9 L434.4,757.2 L432.2,756.5 L430.0,755.7 L427.8,754.8 L425.6,753.8 L423.4,752.2 L421.3,749.8 L419.1,746.2 L416.9,740.8 L414.7,732.9 L412.5,722.0 L410.3,707.3 L408.1,687.9Z" fill="#478ace"/>
<path d="M406.0,664.0 L409.3,652.1 L412.5,640.7 L415.5,629.8 L418.4,619.4 L421.2,609.4 L424.0,599.9 L426.6,590.9 L429.2,582.4 L431.7,574.3 L434.1,566.7 L436.6,559.6 L439.0,553.0 L441.5,546.8 L444.2,541.2 L447.0,536.0 L450.0,531.4 L453.1,527.2 L456.6,523.5 L460.4,520.4 L464.7,517.8 L469.6,515.8 L475.5,514.4 L482.7,513.8 L491.4,514.0 L502.3,515.0 L515.6,517.1 L531.8,520.2 L551.5,524.6 L575.8,530.4 L614.6,540.2 L653.1,550.1 L676.7,556.5 L695.1,561.8 L709.3,566.5 L719.8,570.5 L727.2,574.1 L731.7,577.4 L733.7,580.5 L733.7,583.4 L732.0,586.3 L728.7,589.3 L724.0,592.3 L718.1,595.5 L711.0,598.8 L702.8,602.3 L693.5,605.9 L683.1,609.8 L671.6,613.9 L659.0,618.2 L645.5,622.7 L631.0,627.5 L615.6,632.5 L599.3,637.8 L581.9,643.3 L563.7,649.2 L544.5,655.3 L524.3,661.6 L503.3,668.3 L481.3,675.3 L458.3,682.5 L456.1,705.7 L454.0,723.3 L451.8,736.3 L449.6,745.5 L447.4,751.7 L445.2,755.5 L443.1,757.6 L440.9,758.4 L438.7,758.4 L436.5,757.9 L434.4,757.2 L432.2,756.5 L430.0,755.7 L427.8,754.8 L425.6,753.8 L423.5,752.2 L421.3,749.9 L419.1,746.3 L416.9,740.9 L414.8,733.2 L412.6,722.4 L410.4,707.9 L408.2,688.7Z" fill="#4787cd"/>
<path d="M406.1,665.1 L409.4,653.4 L412.6,642.1 L415.6,631.2 L418.6,620.9 L421.4,611.0 L424.1,601.6 L426.8,592.7 L429.4,584.3 L432.0,576.3 L434.5,568.8 L437.0,561.7 L439.5,555.2 L442.1,549.1 L444.9,543.5 L447.8,538.4 L451.0,533.9 L454.4,529.8 L458.1,526.2 L462.1,523.2 L466.7,520.7 L472.0,518.8 L478.2,517.6 L485.6,517.0 L494.5,517.2 L505.3,518.3 L518.5,520.3 L534.3,523.4 L553.2,527.5 L576.3,533.1 L613.2,542.3 L649.8,551.8 L672.2,557.9 L689.8,563.0 L703.6,567.5 L714.0,571.5 L721.4,575.1 L726.1,578.5 L728.4,581.6 L728.8,584.6 L727.4,587.5 L724.4,590.6 L720.1,593.6 L714.5,596.8 L707.7,600.2 L699.8,603.7 L690.7,607.4 L680.5,611.3 L669.2,615.4 L656.8,619.6 L643.5,624.1 L629.2,628.9 L614.0,633.9 L597.8,639.2 L580.6,644.7 L562.6,650.5 L543.6,656.5 L523.6,662.9 L502.8,669.5 L481.0,676.4 L458.2,683.6 L456.1,706.5 L453.9,723.8 L451.7,736.6 L449.5,745.7 L447.4,751.8 L445.2,755.6 L443.0,757.6 L440.9,758.4 L438.7,758.4 L436.5,757.9 L434.4,757.2 L432.2,756.5 L430.0,755.7 L427.8,754.9 L425.7,753.8 L423.5,752.3 L421.3,749.9 L419.2,746.4 L417.0,741.1 L414.8,733.4 L412.6,722.8 L410.5,708.5 L408.3,689.5Z" fill="#4685cc"/>
<path d="M406.2,666.3 L409.5,654.6 L412.7,643.4 L415.7,632.7 L418.7,622.5 L421.6,612.7 L424.3,603.4 L427.0,594.5 L429.7,586.1 L432.3,578.2 L434.8,570.8 L437.4,563.9 L440.0,557.4 L442.6,551.4 L445.5,545.8 L448.6,540.8 L451.9,536.4 L455.5,532.4 L459.4,528.9 L463.7,526.0 L468.6,523.6 L474.1,521.8 L480.5,520.6 L488.1,520.1 L497.2,520.4 L508.0,521.4 L520.9,523.4 L536.2,526.4 L554.4,530.3 L576.5,535.6 L611.8,544.5 L646.8,553.6 L668.2,559.4 L685.0,564.3 L698.4,568.7 L708.6,572.7 L716.0,576.3 L720.8,579.6 L723.4,582.7 L724.0,585.8 L723.0,588.8 L720.3,591.9 L716.3,595.0 L711.0,598.3 L704.5,601.7 L696.8,605.2 L687.9,608.9 L677.9,612.8 L666.8,616.8 L654.7,621.1 L641.5,625.6 L627.4,630.3 L612.3,635.3 L596.3,640.5 L579.4,646.0 L561.5,651.8 L542.7,657.8 L522.9,664.1 L502.3,670.7 L480.7,677.6 L458.1,684.7 L456.0,707.2 L453.8,724.4 L451.6,737.0 L449.5,745.9 L447.3,751.9 L445.2,755.6 L443.0,757.6 L440.8,758.4 L438.7,758.4 L436.5,757.9 L434.3,757.2 L432.2,756.5 L430.0,755.7 L427.9,754.9 L425.7,753.8 L423.5,752.3 L421.4,750.0 L419.2,746.5 L417.0,741.2 L414.9,733.7 L412.7,723.2 L410.6,709.1 L408.4,690.4Z" fill="#4682cb"/>
<path d="M406.3,667.5 L409.6,655.9 L412.8,644.8 L415.9,634.2 L418.9,624.0 L421.7,614.3 L424.5,605.1 L427.2,596.3 L429.9,588.0 L432.6,580.2 L435.2,572.9 L437.8,566.0 L440.4,559.5 L443.2,553.6 L446.1,548.2 L449.3,543.3 L452.8,538.8 L456.6,534.9 L460.7,531.6 L465.2,528.7 L470.3,526.4 L476.0,524.7 L482.7,523.6 L490.4,523.2 L499.5,523.4 L510.3,524.5 L522.9,526.5 L537.8,529.3 L555.3,533.1 L576.5,538.1 L610.4,546.7 L644.0,555.4 L664.4,560.9 L680.6,565.7 L693.5,570.0 L703.5,573.9 L710.8,577.5 L715.8,580.8 L718.6,584.0 L719.5,587.1 L718.7,590.2 L716.3,593.3 L712.5,596.4 L707.5,599.7 L701.3,603.1 L693.8,606.7 L685.2,610.4 L675.4,614.3 L664.5,618.3 L652.5,622.6 L639.5,627.0 L625.6,631.7 L610.7,636.7 L594.9,641.9 L578.1,647.4 L560.4,653.1 L541.7,659.1 L522.2,665.4 L501.8,671.9 L480.4,678.7 L458.0,685.8 L455.9,708.0 L453.7,724.9 L451.6,737.3 L449.4,746.1 L447.3,752.0 L445.1,755.7 L443.0,757.6 L440.8,758.4 L438.6,758.4 L436.5,757.9 L434.3,757.2 L432.2,756.5 L430.0,755.7 L427.9,754.9 L425.7,753.8 L423.6,752.3 L421.4,750.0 L419.3,746.6 L417.1,741.4 L414.9,734.0 L412.8,723.6 L410.6,709.6 L408.5,691.2Z" fill="#4581cb"/>
<path d="M406.4,668.1 L409.7,656.5 L412.8,645.5 L415.9,634.9 L418.9,624.8 L421.8,615.1 L424.6,605.9 L427.3,597.2 L430.0,589.0 L432.7,581.2 L435.3,573.9 L438.0,567.0 L440.6,560.6 L443.4,554.7 L446.4,549.3 L449.7,544.5 L453.2,540.1 L457.1,536.2 L461.3,532.9 L465.9,530.1 L471.1,527.8 L476.9,526.1 L483.6,525.1 L491.5,524.7 L500.6,525.0 L511.3,526.0 L523.8,527.9 L538.5,530.7 L555.7,534.5 L576.5,539.4 L609.6,547.8 L642.6,556.3 L662.7,561.8 L678.5,566.5 L691.2,570.7 L701.1,574.5 L708.4,578.1 L713.4,581.4 L716.3,584.6 L717.3,587.7 L716.6,590.8 L714.3,594.0 L710.7,597.1 L705.8,600.4 L699.7,603.9 L692.4,607.4 L683.8,611.1 L674.1,615.0 L663.3,619.1 L651.4,623.3 L638.5,627.8 L624.7,632.5 L609.9,637.4 L594.1,642.6 L577.4,648.0 L559.8,653.7 L541.3,659.7 L521.9,666.0 L501.5,672.5 L480.2,679.3 L458.0,686.4 L455.8,708.4 L453.7,725.1 L451.5,737.5 L449.4,746.2 L447.2,752.1 L445.1,755.7 L442.9,757.6 L440.8,758.4 L438.6,758.4 L436.5,757.9 L434.3,757.2 L432.2,756.5 L430.0,755.7 L427.9,754.9 L425.7,753.8 L423.6,752.3 L421.4,750.1 L419.3,746.6 L417.1,741.5 L415.0,734.1 L412.8,723.8 L410.7,709.9 L408.5,691.6Z" fill="#457cc9"/>
<path d="M406.7,671.6 L410.0,660.3 L413.2,649.6 L416.3,639.3 L419.4,629.5 L422.3,620.1 L425.2,611.2 L427.9,602.7 L430.7,594.7 L433.5,587.1 L436.3,580.0 L439.0,573.4 L441.9,567.2 L444.8,561.5 L448.0,556.4 L451.5,551.7 L455.3,547.5 L459.6,543.9 L464.3,540.8 L469.4,538.2 L475.0,536.1 L481.3,534.6 L488.4,533.7 L496.5,533.4 L505.6,533.8 L516.0,534.8 L527.9,536.6 L541.3,539.1 L556.9,542.4 L575.4,546.8 L605.3,554.4 L634.9,562.1 L652.8,567.0 L667.0,571.2 L678.6,575.1 L687.8,578.8 L694.9,582.3 L700.0,585.6 L703.2,588.8 L704.7,592.0 L704.6,595.1 L703.0,598.3 L700.1,601.6 L696.0,605.0 L690.5,608.4 L683.7,612.0 L675.7,615.7 L666.5,619.6 L656.2,623.6 L644.8,627.8 L632.4,632.2 L619.1,636.8 L604.9,641.7 L589.6,646.8 L573.5,652.1 L556.4,657.7 L538.5,663.6 L519.7,669.7 L499.9,676.1 L479.3,682.7 L457.7,689.7 L455.6,710.7 L453.4,726.7 L451.3,738.5 L449.2,746.9 L447.1,752.4 L444.9,755.9 L442.8,757.7 L440.7,758.4 L438.6,758.4 L436.4,757.9 L434.3,757.2 L432.2,756.5 L430.1,755.7 L427.9,754.9 L425.8,753.9 L423.7,752.4 L421.5,750.2 L419.4,746.9 L417.3,741.9 L415.2,734.8 L413.0,725.0 L410.9,711.7 L408.8,694.1Z" fill="#4377c7"/>
<path d="M407.0,675.1 L410.3,664.2 L413.5,653.7 L416.7,643.7 L419.8,634.2 L422.8,625.1 L425.7,616.4 L428.5,608.2 L431.3,600.4 L434.2,593.1 L437.1,586.3 L440.0,579.9 L442.9,573.9 L446.0,568.4 L449.3,563.4 L452.9,558.9 L456.9,554.9 L461.4,551.5 L466.3,548.5 L471.8,546.1 L477.8,544.2 L484.3,542.9 L491.5,542.1 L499.6,541.9 L508.5,542.2 L518.5,543.2 L529.7,544.8 L542.2,547.1 L556.4,550.2 L573.3,554.1 L600.7,561.1 L628.0,568.2 L644.2,572.6 L657.2,576.6 L667.8,580.2 L676.4,583.7 L683.2,587.1 L688.2,590.3 L691.5,593.5 L693.3,596.7 L693.6,599.8 L692.6,603.1 L690.2,606.4 L686.5,609.8 L681.5,613.2 L675.2,616.8 L667.6,620.4 L658.9,624.2 L649.0,628.2 L638.1,632.3 L626.2,636.6 L613.4,641.2 L599.8,646.0 L585.1,651.0 L569.5,656.2 L553.0,661.7 L535.6,667.4 L517.4,673.4 L498.3,679.7 L478.3,686.2 L457.4,692.9 L455.3,713.0 L453.2,728.3 L451.1,739.5 L449.0,747.5 L446.9,752.8 L444.8,756.1 L442.7,757.8 L440.6,758.4 L438.5,758.4 L436.4,757.9 L434.3,757.2 L432.2,756.5 L430.1,755.7 L428.0,754.9 L425.9,753.9 L423.8,752.5 L421.7,750.4 L419.6,747.2 L417.5,742.4 L415.4,735.6 L413.3,726.2 L411.2,713.4 L409.1,696.7Z" fill="#4273c5"/>
<path d="M407.3,678.6 L410.6,668.0 L413.9,657.9 L417.1,648.2 L420.2,638.9 L423.2,630.1 L426.2,621.7 L429.1,613.8 L431.9,606.2 L434.9,599.2 L437.8,592.5 L440.8,586.4 L443.9,580.6 L447.0,575.3 L450.4,570.5 L454.1,566.1 L458.1,562.3 L462.6,559.0 L467.7,556.2 L473.2,553.9 L479.3,552.2 L486.0,550.9 L493.3,550.2 L501.2,550.0 L509.9,550.4 L519.5,551.3 L530.0,552.8 L541.7,554.9 L554.8,557.7 L570.4,561.4 L596.1,567.9 L621.6,574.5 L636.5,578.6 L648.5,582.3 L658.3,585.8 L666.4,589.0 L672.8,592.3 L677.7,595.4 L681.0,598.5 L683.0,601.7 L683.6,604.9 L682.9,608.1 L680.9,611.4 L677.5,614.7 L672.8,618.1 L666.8,621.6 L659.6,625.2 L651.2,628.9 L641.8,632.8 L631.3,636.9 L620.0,641.2 L607.8,645.6 L594.6,650.3 L580.4,655.2 L565.4,660.3 L549.5,665.7 L532.7,671.3 L515.1,677.2 L496.7,683.3 L477.3,689.6 L457.1,696.2 L455.0,715.4 L452.9,729.9 L450.9,740.6 L448.8,748.1 L446.7,753.2 L444.6,756.2 L442.6,757.9 L440.5,758.4 L438.4,758.3 L436.3,757.9 L434.3,757.2 L432.2,756.5 L430.1,755.7 L428.0,754.9 L426.0,754.0 L423.9,752.6 L421.8,750.5 L419.7,747.4 L417.6,742.9 L415.6,736.4 L413.5,727.4 L411.4,715.2 L409.3,699.2Z" fill="#416ec3"/>
<path d="M407.6,682.1 L410.9,671.8 L414.2,662.0 L417.4,652.6 L420.6,643.7 L423.7,635.1 L426.7,627.0 L429.6,619.3 L432.5,612.0 L435.5,605.2 L438.5,598.8 L441.6,592.8 L444.8,587.3 L448.0,582.2 L451.3,577.5 L455.0,573.3 L459.0,569.6 L463.5,566.4 L468.5,563.7 L474.0,561.5 L480.0,559.9 L486.6,558.7 L493.9,558.1 L501.7,557.9 L510.2,558.3 L519.4,559.2 L529.3,560.6 L540.3,562.5 L552.6,565.1 L567.2,568.5 L591.5,574.7 L615.6,580.9 L629.5,584.8 L640.6,588.3 L649.8,591.5 L657.4,594.7 L663.5,597.8 L668.2,600.8 L671.6,603.9 L673.7,607.0 L674.5,610.2 L673.9,613.3 L672.0,616.5 L668.8,619.8 L664.3,623.1 L658.6,626.6 L651.7,630.1 L643.6,633.7 L634.6,637.5 L624.7,641.5 L613.8,645.7 L602.1,650.1 L589.4,654.7 L575.8,659.5 L561.3,664.5 L546.0,669.7 L529.8,675.2 L512.8,680.9 L495.0,686.9 L476.3,693.1 L456.8,699.5 L454.7,717.7 L452.7,731.5 L450.6,741.6 L448.6,748.7 L446.5,753.5 L444.5,756.4 L442.4,757.9 L440.4,758.4 L438.3,758.3 L436.3,757.8 L434.2,757.2 L432.2,756.5 L430.1,755.7 L428.1,755.0 L426.0,754.0 L424.0,752.7 L421.9,750.7 L419.9,747.7 L417.8,743.4 L415.8,737.2 L413.7,728.6 L411.7,717.0 L409.6,701.7Z" fill="#406ac1"/>
<path d="M407.9,685.6 L411.3,675.7 L414.6,666.2 L417.8,657.1 L421.0,648.4 L424.1,640.2 L427.1,632.3 L430.1,624.9 L433.1,617.8 L436.1,611.2 L439.2,605.1 L442.3,599.3 L445.6,594.0 L448.8,589.0 L452.2,584.5 L455.8,580.5 L459.8,576.9 L464.2,573.8 L469.0,571.2 L474.3,569.1 L480.2,567.4 L486.6,566.3 L493.5,565.7 L501.1,565.5 L509.3,565.9 L518.2,566.7 L527.8,568.0 L538.2,569.9 L549.9,572.3 L563.7,575.6 L586.8,581.4 L609.9,587.4 L623.0,591.1 L633.5,594.4 L642.2,597.5 L649.5,600.6 L655.4,603.5 L660.0,606.5 L663.2,609.5 L665.2,612.5 L665.9,615.6 L665.3,618.6 L663.5,621.7 L660.4,624.9 L656.0,628.2 L650.5,631.5 L643.8,634.9 L636.2,638.5 L627.6,642.2 L618.1,646.1 L607.7,650.2 L596.5,654.5 L584.2,659.0 L571.1,663.7 L557.2,668.6 L542.5,673.7 L526.9,679.1 L510.5,684.6 L493.3,690.5 L475.3,696.5 L456.4,702.8 L454.4,720.0 L452.4,733.0 L450.4,742.6 L448.4,749.4 L446.3,753.8 L444.3,756.6 L442.3,758.0 L440.3,758.5 L438.2,758.3 L436.2,757.8 L434.2,757.2 L432.2,756.5 L430.2,755.7 L428.1,755.0 L426.1,754.0 L424.1,752.8 L422.1,750.8 L420.0,748.0 L418.0,743.9 L416.0,737.9 L414.0,729.8 L412.0,718.7 L409.9,704.2Z" fill="#4067bf"/>
<path d="M408.3,689.1 L411.6,679.5 L415.0,670.3 L418.2,661.5 L421.4,653.1 L424.6,645.1 L427.6,637.5 L430.7,630.4 L433.7,623.6 L436.7,617.2 L439.8,611.2 L443.1,605.6 L446.3,600.5 L449.7,595.8 L453.2,591.4 L456.7,587.5 L460.6,584.0 L464.9,581.0 L469.5,578.5 L474.7,576.4 L480.3,574.8 L486.4,573.7 L493.1,573.1 L500.3,572.9 L508.1,573.2 L516.5,573.9 L525.6,575.2 L535.6,576.9 L546.7,579.3 L559.9,582.4 L582.4,588.1 L604.7,593.9 L617.3,597.5 L627.3,600.6 L635.6,603.6 L642.5,606.5 L648.0,609.3 L652.3,612.2 L655.3,615.1 L657.1,618.0 L657.7,620.9 L657.1,623.8 L655.2,626.9 L652.2,629.9 L648.0,633.1 L642.7,636.3 L636.3,639.7 L629.0,643.2 L620.8,646.9 L611.7,650.7 L601.8,654.7 L591.0,658.9 L579.2,663.3 L566.7,667.9 L553.3,672.7 L539.1,677.7 L524.1,682.9 L508.3,688.4 L491.7,694.0 L474.3,699.9 L456.1,706.1 L454.1,722.3 L452.1,734.6 L450.1,743.6 L448.1,750.0 L446.1,754.2 L444.1,756.7 L442.1,758.0 L440.2,758.5 L438.2,758.3 L436.2,757.8 L434.2,757.2 L432.2,756.5 L430.2,755.8 L428.2,755.0 L426.2,754.1 L424.2,752.8 L422.2,751.0 L420.2,748.3 L418.2,744.3 L416.2,738.7 L414.2,731.0 L412.2,720.5 L410.3,706.8Z" fill="#3f65be"/>
<path d="M408.6,692.6 L412.0,683.3 L415.3,674.4 L418.6,665.9 L421.9,657.8 L425.0,650.1 L428.2,642.7 L431.3,635.8 L434.3,629.2 L437.4,623.0 L440.5,617.2 L443.8,611.9 L447.2,606.9 L450.6,602.4 L454.1,598.2 L457.7,594.4 L461.5,591.1 L465.7,588.1 L470.2,585.7 L475.1,583.6 L480.5,582.1 L486.4,581.0 L492.8,580.3 L499.7,580.1 L507.1,580.4 L515.1,581.1 L523.7,582.2 L533.2,583.9 L543.8,586.1 L556.4,589.0 L578.1,594.6 L599.7,600.3 L611.7,603.6 L621.2,606.6 L629.1,609.5 L635.5,612.2 L640.7,615.0 L644.7,617.7 L647.6,620.5 L649.2,623.3 L649.7,626.1 L649.0,628.9 L647.2,631.9 L644.3,634.9 L640.2,637.9 L635.0,641.1 L629.0,644.4 L622.0,647.8 L614.2,651.4 L605.6,655.2 L596.1,659.2 L585.7,663.3 L574.4,667.5 L562.3,672.0 L549.4,676.7 L535.8,681.6 L521.3,686.7 L506.1,692.0 L490.1,697.6 L473.3,703.3 L455.7,709.3 L453.8,724.6 L451.8,736.2 L449.8,744.6 L447.9,750.6 L445.9,754.5 L444.0,756.9 L442.0,758.1 L440.0,758.5 L438.1,758.3 L436.1,757.8 L434.1,757.2 L432.2,756.5 L430.2,755.8 L428.3,755.0 L426.3,754.1 L424.3,752.9 L422.4,751.2 L420.4,748.6 L418.4,744.8 L416.5,739.5 L414.5,732.2 L412.6,722.3 L410.6,709.3Z" fill="#3e63bd"/>
<path d="M409.0,696.2 L412.4,687.2 L415.8,678.5 L419.1,670.3 L422.3,662.4 L425.6,655.0 L428.7,647.9 L431.9,641.1 L435.0,634.8 L438.1,628.8 L441.2,623.2 L444.6,618.1 L448.0,613.3 L451.5,608.9 L455.1,604.9 L458.8,601.3 L462.6,598.0 L466.6,595.2 L470.9,592.8 L475.7,590.8 L480.9,589.3 L486.5,588.2 L492.6,587.5 L499.1,587.3 L506.2,587.5 L513.8,588.2 L522.0,589.2 L531.0,590.8 L541.0,592.9 L553.0,595.7 L574.0,601.0 L594.8,606.5 L606.2,609.7 L615.2,612.6 L622.6,615.3 L628.6,617.9 L633.5,620.6 L637.3,623.2 L639.9,625.8 L641.4,628.5 L641.8,631.2 L641.0,634.0 L639.2,636.8 L636.3,639.7 L632.4,642.7 L627.5,645.8 L621.8,649.0 L615.2,652.4 L607.8,656.0 L599.6,659.7 L590.5,663.5 L580.5,667.6 L569.6,671.7 L558.0,676.1 L545.6,680.7 L532.5,685.5 L518.6,690.5 L504.0,695.7 L488.5,701.1 L472.3,706.8 L455.4,712.6 L453.4,726.9 L451.5,737.7 L449.6,745.6 L447.6,751.2 L445.7,754.9 L443.8,757.1 L441.8,758.2 L439.9,758.5 L438.0,758.3 L436.0,757.8 L434.1,757.1 L432.2,756.5 L430.2,755.8 L428.3,755.1 L426.4,754.2 L424.5,753.0 L422.5,751.3 L420.6,748.9 L418.7,745.3 L416.7,740.3 L414.8,733.4 L412.9,724.1 L410.9,711.9Z" fill="#3d60bb"/>
<path d="M409.4,699.7 L412.8,691.0 L416.2,682.6 L419.5,674.7 L422.8,667.1 L426.1,659.9 L429.3,653.0 L432.5,646.5 L435.6,640.4 L438.8,634.6 L442.0,629.2 L445.3,624.3 L448.8,619.7 L452.3,615.5 L456.0,611.6 L459.7,608.1 L463.6,605.0 L467.6,602.3 L471.8,600.0 L476.4,598.0 L481.3,596.5 L486.7,595.4 L492.5,594.8 L498.7,594.5 L505.4,594.7 L512.6,595.3 L520.3,596.3 L528.8,597.7 L538.3,599.7 L549.7,602.3 L569.8,607.5 L589.8,612.7 L600.6,615.8 L609.1,618.5 L616.0,621.1 L621.7,623.6 L626.2,626.1 L629.7,628.6 L632.1,631.1 L633.4,633.7 L633.7,636.3 L633.0,639.0 L631.1,641.7 L628.3,644.5 L624.5,647.4 L620.0,650.5 L614.6,653.7 L608.4,657.0 L601.4,660.5 L593.5,664.1 L584.8,667.9 L575.2,671.8 L564.9,676.0 L553.7,680.2 L541.8,684.7 L529.2,689.4 L515.9,694.3 L501.8,699.4 L486.9,704.7 L471.3,710.2 L455.0,715.8 L453.1,729.2 L451.2,739.3 L449.3,746.6 L447.4,751.8 L445.5,755.2 L443.6,757.2 L441.7,758.2 L439.8,758.5 L437.9,758.3 L436.0,757.8 L434.1,757.1 L432.2,756.5 L430.3,755.8 L428.4,755.1 L426.5,754.2 L424.6,753.1 L422.7,751.5 L420.8,749.2 L418.9,745.8 L417.0,741.1 L415.1,734.6 L413.2,725.8 L411.3,714.4Z" fill="#3d5eba"/>
<path d="M409.8,703.3 L413.2,694.8 L416.6,686.8 L420.0,679.1 L423.3,671.8 L426.6,664.8 L429.9,658.2 L433.1,651.9 L436.3,646.0 L439.5,640.5 L442.7,635.3 L446.0,630.5 L449.5,626.1 L453.1,622.0 L456.8,618.4 L460.6,615.0 L464.6,612.1 L468.6,609.5 L472.8,607.2 L477.1,605.3 L481.8,603.9 L486.9,602.8 L492.4,602.1 L498.3,601.8 L504.6,601.9 L511.4,602.4 L518.7,603.4 L526.6,604.7 L535.6,606.5 L546.3,609.1 L565.6,614.0 L584.6,619.0 L594.8,621.9 L602.8,624.5 L609.3,626.9 L614.6,629.3 L618.8,631.7 L622.0,634.1 L624.1,636.5 L625.3,638.9 L625.5,641.5 L624.6,644.0 L622.8,646.6 L620.1,649.4 L616.7,652.2 L612.4,655.2 L607.3,658.4 L601.5,661.6 L594.9,665.1 L587.4,668.6 L579.1,672.3 L569.9,676.2 L560.0,680.2 L549.3,684.4 L538.0,688.8 L525.9,693.3 L513.1,698.1 L499.6,703.0 L485.3,708.2 L470.3,713.5 L454.5,719.1 L452.7,731.5 L450.8,740.8 L449.0,747.6 L447.1,752.4 L445.2,755.5 L443.4,757.4 L441.5,758.3 L439.6,758.5 L437.8,758.2 L435.9,757.7 L434.0,757.1 L432.2,756.5 L430.3,755.8 L428.5,755.1 L426.6,754.3 L424.7,753.2 L422.9,751.7 L421.0,749.5 L419.1,746.3 L417.3,741.9 L415.4,735.8 L413.5,727.6 L411.7,717.0Z" fill="#3c5cb9"/>
<path d="M410.3,706.8 L413.7,698.7 L417.1,690.9 L420.5,683.5 L423.8,676.5 L427.1,669.8 L430.4,663.4 L433.7,657.4 L436.9,651.8 L440.2,646.5 L443.4,641.5 L446.7,636.8 L450.2,632.6 L453.9,628.7 L457.6,625.2 L461.5,622.1 L465.4,619.2 L469.5,616.8 L473.7,614.6 L478.0,612.9 L482.5,611.4 L487.3,610.3 L492.4,609.6 L497.9,609.3 L503.8,609.4 L510.2,609.8 L517.0,610.6 L524.5,611.9 L532.8,613.6 L542.9,615.9 L561.1,620.6 L579.2,625.4 L588.7,628.2 L596.1,630.6 L602.2,632.8 L607.0,635.1 L610.9,637.3 L613.8,639.6 L615.7,641.9 L616.7,644.2 L616.7,646.6 L615.8,649.1 L614.2,651.6 L611.8,654.3 L608.6,657.1 L604.7,660.1 L599.9,663.2 L594.4,666.4 L588.2,669.7 L581.1,673.2 L573.1,676.8 L564.4,680.5 L555.0,684.4 L544.8,688.5 L534.0,692.8 L522.5,697.3 L510.2,701.9 L497.3,706.7 L483.6,711.7 L469.2,716.9 L454.1,722.3 L452.3,733.7 L450.4,742.3 L448.6,748.6 L446.8,753.0 L445.0,755.9 L443.1,757.5 L441.3,758.3 L439.5,758.5 L437.7,758.2 L435.8,757.7 L434.0,757.1 L432.2,756.5 L430.4,755.8 L428.5,755.1 L426.7,754.3 L424.9,753.3 L423.0,751.9 L421.2,749.8 L419.4,746.8 L417.6,742.7 L415.7,737.0 L413.9,729.4 L412.1,719.5Z" fill="#3b5ab7"/>
<path d="M410.7,710.4 L414.2,702.6 L417.5,695.1 L420.9,688.1 L424.3,681.3 L427.6,674.9 L430.9,668.8 L434.2,663.1 L437.5,657.6 L440.8,652.6 L444.0,647.8 L447.4,643.4 L450.8,639.3 L454.4,635.6 L458.2,632.3 L462.0,629.3 L466.0,626.6 L470.1,624.3 L474.3,622.3 L478.7,620.6 L483.2,619.2 L487.8,618.2 L492.6,617.5 L497.7,617.1 L503.2,617.1 L509.0,617.5 L515.3,618.2 L522.2,619.4 L529.9,620.9 L539.2,623.1 L556.3,627.5 L573.3,632.0 L582.1,634.6 L588.9,636.8 L594.4,638.9 L598.9,641.0 L602.3,643.1 L604.9,645.2 L606.5,647.4 L607.3,649.6 L607.4,651.9 L606.7,654.3 L605.3,656.8 L603.1,659.5 L600.2,662.2 L596.6,665.1 L592.2,668.1 L587.1,671.2 L581.2,674.5 L574.4,677.9 L566.9,681.3 L558.6,685.0 L549.7,688.8 L540.1,692.8 L529.8,696.9 L518.8,701.3 L507.2,705.8 L494.8,710.4 L481.8,715.3 L468.1,720.3 L453.6,725.6 L451.8,736.0 L450.1,743.9 L448.3,749.6 L446.5,753.6 L444.7,756.2 L442.9,757.7 L441.1,758.3 L439.3,758.5 L437.5,758.2 L435.8,757.7 L434.0,757.1 L432.2,756.5 L430.4,755.8 L428.6,755.2 L426.8,754.4 L425.0,753.4 L423.2,752.0 L421.5,750.1 L419.7,747.3 L417.9,743.5 L416.1,738.2 L414.3,731.2 L412.5,722.1Z" fill="#3b58b6"/>
<path d="M411.2,714.0 L414.6,706.5 L418.0,699.4 L421.3,692.7 L424.7,686.3 L428.0,680.2 L431.3,674.4 L434.6,668.9 L437.9,663.8 L441.2,659.0 L444.5,654.4 L447.8,650.3 L451.2,646.4 L454.7,642.9 L458.4,639.7 L462.2,636.9 L466.1,634.3 L470.2,632.1 L474.3,630.2 L478.6,628.7 L483.1,627.4 L487.7,626.5 L492.4,625.9 L497.4,625.5 L502.5,625.5 L507.9,625.8 L513.6,626.4 L519.8,627.4 L526.8,628.8 L535.2,630.8 L551.0,634.8 L566.6,639.0 L574.5,641.3 L580.7,643.4 L585.5,645.3 L589.4,647.2 L592.5,649.2 L594.9,651.2 L596.5,653.3 L597.5,655.4 L597.7,657.7 L597.2,660.0 L595.9,662.5 L594.0,665.0 L591.4,667.7 L588.0,670.5 L583.9,673.4 L579.2,676.4 L573.6,679.5 L567.2,682.8 L560.1,686.1 L552.3,689.7 L543.9,693.4 L534.9,697.2 L525.2,701.2 L514.8,705.4 L503.8,709.7 L492.2,714.2 L479.8,718.9 L466.8,723.8 L453.1,728.8 L451.4,738.2 L449.6,745.4 L447.9,750.6 L446.1,754.2 L444.4,756.5 L442.7,757.8 L440.9,758.4 L439.2,758.4 L437.4,758.2 L435.7,757.7 L433.9,757.1 L432.2,756.5 L430.4,755.8 L428.7,755.2 L426.9,754.5 L425.2,753.5 L423.5,752.2 L421.7,750.4 L420.0,747.9 L418.2,744.3 L416.5,739.5 L414.7,733.1 L413.0,724.7Z" fill="#3a56b5"/>
<path d="M411.8,717.5 L415.1,710.6 L418.4,703.9 L421.7,697.5 L425.0,691.5 L428.3,685.7 L431.6,680.3 L434.8,675.2 L438.1,670.3 L441.3,665.8 L444.6,661.6 L447.8,657.6 L451.1,654.0 L454.5,650.7 L458.0,647.7 L461.7,645.0 L465.4,642.6 L469.3,640.5 L473.3,638.8 L477.4,637.3 L481.6,636.1 L485.9,635.2 L490.4,634.6 L495.0,634.3 L499.8,634.3 L504.9,634.5 L510.2,635.1 L515.9,636.0 L522.3,637.3 L530.0,639.1 L544.6,642.9 L559.1,646.7 L566.3,648.9 L571.9,650.7 L576.4,652.5 L580.0,654.3 L582.9,656.2 L585.1,658.1 L586.6,660.0 L587.4,662.1 L587.6,664.2 L587.1,666.4 L586.0,668.8 L584.2,671.2 L581.7,673.7 L578.6,676.4 L574.9,679.2 L570.3,682.0 L565.0,685.0 L559.1,688.1 L552.5,691.3 L545.3,694.7 L537.5,698.2 L529.1,701.9 L520.0,705.7 L510.4,709.7 L500.1,713.8 L489.2,718.1 L477.6,722.6 L465.4,727.2 L452.6,732.0 L450.9,740.5 L449.2,746.9 L447.5,751.5 L445.8,754.7 L444.1,756.8 L442.4,757.9 L440.7,758.4 L439.0,758.4 L437.3,758.1 L435.6,757.6 L433.9,757.1 L432.2,756.5 L430.5,755.9 L428.8,755.2 L427.1,754.5 L425.4,753.6 L423.7,752.4 L422.0,750.7 L420.3,748.4 L418.6,745.1 L416.9,740.7 L415.2,734.9 L413.5,727.3Z" fill="#3953b3"/>
<path d="M412.4,721.2 L415.6,714.6 L418.8,708.4 L422.1,702.4 L425.3,696.8 L428.5,691.4 L431.7,686.4 L434.9,681.6 L438.1,677.1 L441.3,672.9 L444.5,668.9 L447.7,665.3 L450.9,661.9 L454.1,658.8 L457.4,656.0 L460.8,653.4 L464.4,651.2 L468.0,649.3 L471.8,647.6 L475.6,646.2 L479.6,645.1 L483.6,644.3 L487.7,643.7 L492.0,643.4 L496.4,643.3 L501.1,643.6 L505.9,644.1 L511.2,644.9 L517.1,646.1 L524.1,647.7 L537.8,651.3 L551.3,654.9 L557.9,656.9 L563.0,658.6 L567.1,660.3 L570.4,661.9 L573.0,663.6 L574.9,665.4 L576.3,667.2 L577.0,669.1 L577.1,671.1 L576.7,673.2 L575.6,675.4 L573.9,677.7 L571.7,680.1 L568.8,682.6 L565.1,685.1 L560.9,687.8 L556.0,690.6 L550.5,693.6 L544.5,696.6 L537.9,699.8 L530.7,703.2 L522.9,706.7 L514.5,710.3 L505.6,714.1 L496.1,718.0 L486.0,722.1 L475.3,726.3 L463.9,730.6 L452.0,735.2 L450.4,742.7 L448.7,748.4 L447.0,752.5 L445.4,755.3 L443.7,757.1 L442.1,758.1 L440.4,758.4 L438.8,758.4 L437.1,758.1 L435.5,757.6 L433.8,757.0 L432.2,756.5 L430.5,755.9 L428.9,755.3 L427.2,754.6 L425.6,753.7 L423.9,752.6 L422.3,751.1 L420.6,748.9 L419.0,746.0 L417.3,742.0 L415.7,736.7 L414.0,729.9Z" fill="#3751b1"/>
<path d="M413.0,724.8 L416.2,718.7 L419.2,712.9 L422.4,707.4 L425.5,702.2 L428.7,697.3 L431.8,692.6 L434.9,688.2 L438.0,684.0 L441.1,680.2 L444.2,676.5 L447.3,673.2 L450.4,670.0 L453.5,667.2 L456.7,664.6 L459.9,662.2 L463.1,660.2 L466.4,658.3 L469.9,656.8 L473.5,655.5 L477.1,654.5 L480.8,653.7 L484.6,653.1 L488.5,652.8 L492.6,652.8 L496.8,653.0 L501.2,653.4 L506.0,654.2 L511.3,655.2 L517.7,656.7 L530.4,660.0 L542.9,663.4 L549.0,665.2 L553.6,666.8 L557.2,668.3 L560.2,669.9 L562.5,671.4 L564.2,673.0 L565.4,674.7 L566.1,676.5 L566.2,678.3 L565.7,680.3 L564.7,682.3 L563.2,684.5 L560.9,686.6 L558.2,688.9 L554.8,691.4 L550.9,693.9 L546.5,696.5 L541.6,699.3 L536.1,702.2 L530.0,705.2 L523.5,708.3 L516.4,711.6 L508.8,715.0 L500.6,718.6 L491.9,722.2 L482.6,726.1 L472.8,730.0 L462.3,734.1 L451.4,738.3 L449.8,744.9 L448.2,749.9 L446.6,753.4 L445.0,755.9 L443.4,757.4 L441.8,758.2 L440.2,758.5 L438.6,758.4 L437.0,758.0 L435.4,757.6 L433.8,757.0 L432.2,756.5 L430.6,755.9 L429.0,755.3 L427.4,754.7 L425.8,753.9 L424.2,752.8 L422.6,751.4 L421.0,749.5 L419.4,746.8 L417.8,743.3 L416.2,738.6 L414.6,732.5Z" fill="#364eaf"/>
<path d="M413.7,728.4 L416.7,722.9 L419.7,717.6 L422.7,712.6 L425.7,707.8 L428.7,703.3 L431.7,699.1 L434.7,695.1 L437.7,691.3 L440.7,687.7 L443.7,684.4 L446.6,681.4 L449.6,678.6 L452.6,676.0 L455.6,673.6 L458.6,671.5 L461.6,669.6 L464.7,667.9 L467.8,666.5 L470.9,665.3 L474.2,664.3 L477.5,663.5 L481.0,663.0 L484.5,662.7 L488.1,662.7 L491.9,662.8 L495.9,663.2 L500.2,663.9 L504.9,664.8 L510.7,666.2 L522.4,669.3 L533.9,672.4 L539.4,674.0 L543.5,675.5 L546.7,676.9 L549.4,678.2 L551.4,679.7 L552.9,681.1 L554.0,682.7 L554.5,684.3 L554.5,686.0 L554.0,687.7 L552.9,689.6 L551.4,691.5 L549.4,693.5 L546.9,695.6 L543.9,697.9 L540.5,700.2 L536.5,702.7 L532.1,705.2 L527.2,707.9 L521.8,710.7 L515.9,713.7 L509.5,716.7 L502.6,719.9 L495.2,723.2 L487.4,726.6 L479.0,730.1 L470.1,733.8 L460.6,737.6 L450.7,741.5 L449.1,747.1 L447.6,751.3 L446.0,754.3 L444.5,756.4 L443.0,757.6 L441.4,758.3 L439.9,758.5 L438.3,758.3 L436.8,758.0 L435.3,757.5 L433.7,757.0 L432.2,756.5 L430.6,755.9 L429.1,755.4 L427.6,754.7 L426.0,754.0 L424.5,753.0 L422.9,751.8 L421.4,750.0 L419.9,747.7 L418.3,744.6 L416.8,740.5 L415.2,735.2Z" fill="#354cad"/>
<path d="M414.5,732.1 L417.4,727.1 L420.1,722.4 L423.0,717.9 L425.8,713.6 L428.7,709.6 L431.5,705.8 L434.4,702.2 L437.2,698.8 L440.0,695.7 L442.8,692.7 L445.6,690.0 L448.4,687.5 L451.2,685.1 L454.0,683.0 L456.8,681.1 L459.6,679.5 L462.4,678.0 L465.3,676.7 L468.2,675.6 L471.1,674.7 L474.0,674.0 L477.0,673.5 L480.1,673.3 L483.3,673.2 L486.6,673.3 L490.0,673.6 L493.8,674.2 L498.0,675.0 L503.1,676.2 L513.6,679.0 L524.0,681.9 L528.9,683.4 L532.5,684.6 L535.3,685.9 L537.5,687.1 L539.3,688.3 L540.5,689.6 L541.3,691.0 L541.7,692.4 L541.7,693.9 L541.2,695.5 L540.3,697.2 L538.9,699.0 L537.2,700.8 L535.0,702.7 L532.4,704.8 L529.3,706.9 L525.9,709.2 L522.0,711.5 L517.7,714.0 L512.9,716.5 L507.7,719.2 L502.1,722.0 L496.0,724.9 L489.5,727.9 L482.5,731.0 L475.1,734.3 L467.2,737.6 L458.7,741.0 L449.9,744.6 L448.4,749.3 L446.9,752.8 L445.4,755.2 L444.0,756.9 L442.5,757.9 L441.0,758.4 L439.5,758.5 L438.1,758.3 L436.6,757.9 L435.1,757.5 L433.7,757.0 L432.2,756.5 L430.7,755.9 L429.2,755.4 L427.8,754.8 L426.3,754.1 L424.8,753.3 L423.3,752.1 L421.9,750.6 L420.4,748.6 L418.9,745.9 L417.4,742.4 L416.0,737.8Z" fill="#344aab"/>
<path d="M415.4,735.8 L418.1,731.5 L420.7,727.3 L423.2,723.4 L425.9,719.7 L428.5,716.1 L431.2,712.8 L433.8,709.7 L436.4,706.7 L439.0,704.0 L441.6,701.4 L444.2,699.0 L446.8,696.9 L449.3,694.8 L451.9,693.0 L454.4,691.4 L457.0,689.9 L459.6,688.6 L462.1,687.5 L464.7,686.6 L467.2,685.8 L469.9,685.2 L472.5,684.8 L475.2,684.5 L477.9,684.4 L480.8,684.5 L483.8,684.8 L487.0,685.3 L490.6,686.0 L495.0,687.1 L504.0,689.5 L512.9,691.9 L517.0,693.2 L520.0,694.3 L522.5,695.4 L524.4,696.5 L525.8,697.6 L526.9,698.7 L527.6,699.9 L527.9,701.2 L527.9,702.5 L527.5,703.9 L526.7,705.4 L525.6,706.9 L524.1,708.6 L522.2,710.3 L520.0,712.2 L517.5,714.1 L514.5,716.1 L511.2,718.2 L507.5,720.4 L503.4,722.7 L499.0,725.1 L494.1,727.5 L488.9,730.1 L483.3,732.8 L477.3,735.6 L470.9,738.5 L463.9,741.4 L456.6,744.5 L448.9,747.7 L447.5,751.4 L446.1,754.2 L444.8,756.1 L443.4,757.4 L442.0,758.1 L440.6,758.4 L439.2,758.4 L437.8,758.2 L436.4,757.9 L435.0,757.4 L433.6,757.0 L432.2,756.5 L430.8,756.0 L429.4,755.5 L428.0,754.9 L426.6,754.3 L425.2,753.5 L423.8,752.5 L422.4,751.2 L421.0,749.5 L419.6,747.2 L418.2,744.3 L416.8,740.6Z" fill="#3347a9"/>
<path d="M416.5,739.6 L418.9,736.0 L421.2,732.5 L423.4,729.1 L425.8,726.0 L428.2,723.0 L430.6,720.2 L432.9,717.6 L435.3,715.1 L437.6,712.8 L439.9,710.7 L442.2,708.7 L444.5,706.8 L446.7,705.2 L449.0,703.6 L451.2,702.3 L453.5,701.0 L455.7,700.0 L457.9,699.0 L460.2,698.2 L462.4,697.6 L464.6,697.1 L466.9,696.8 L469.2,696.6 L471.5,696.5 L473.9,696.6 L476.4,696.8 L479.1,697.2 L482.1,697.8 L485.7,698.7 L493.2,700.7 L500.5,702.8 L503.9,703.9 L506.5,704.8 L508.5,705.7 L510.1,706.6 L511.3,707.6 L512.2,708.5 L512.8,709.6 L513.1,710.6 L513.1,711.8 L512.8,713.0 L512.2,714.3 L511.3,715.6 L510.1,717.0 L508.6,718.5 L506.8,720.1 L504.7,721.8 L502.2,723.5 L499.5,725.3 L496.5,727.2 L493.1,729.2 L489.4,731.2 L485.4,733.4 L481.1,735.6 L476.5,737.9 L471.5,740.3 L466.2,742.8 L460.3,745.3 L454.2,747.9 L447.9,750.7 L446.5,753.5 L445.2,755.5 L443.9,756.9 L442.6,757.8 L441.3,758.3 L440.0,758.5 L438.7,758.4 L437.4,758.1 L436.1,757.8 L434.8,757.4 L433.5,756.9 L432.2,756.5 L430.9,756.0 L429.6,755.5 L428.3,755.0 L427.0,754.5 L425.7,753.8 L424.3,752.9 L423.0,751.9 L421.7,750.4 L420.4,748.6 L419.1,746.3 L417.8,743.3Z" fill="#3144a6"/>
<path d="M417.9,743.5 L420.0,740.6 L421.9,737.8 L423.9,735.1 L425.7,732.6 L427.8,730.2 L429.8,728.0 L431.8,725.9 L433.8,724.0 L435.8,722.2 L437.7,720.5 L439.7,718.9 L441.6,717.4 L443.5,716.1 L445.4,714.9 L447.3,713.8 L449.1,712.8 L451.0,712.0 L452.8,711.3 L454.6,710.7 L456.5,710.2 L458.3,709.8 L460.1,709.5 L462.0,709.4 L463.9,709.3 L465.8,709.4 L467.8,709.6 L470.0,709.9 L472.4,710.4 L475.3,711.2 L481.3,712.8 L487.2,714.5 L489.9,715.4 L491.9,716.1 L493.5,716.9 L494.8,717.6 L495.8,718.4 L496.5,719.2 L497.0,720.0 L497.3,720.9 L497.3,721.8 L497.1,722.8 L496.6,723.9 L496.0,725.0 L495.0,726.1 L493.9,727.4 L492.5,728.6 L490.9,730.0 L489.0,731.4 L486.9,732.9 L484.6,734.4 L482.0,736.1 L479.1,737.8 L476.0,739.5 L472.7,741.3 L469.0,743.2 L465.2,745.2 L460.8,747.2 L456.2,749.2 L451.5,751.4 L446.5,753.6 L445.3,755.4 L444.1,756.8 L442.9,757.7 L441.7,758.2 L440.5,758.4 L439.3,758.5 L438.1,758.3 L436.9,758.0 L435.8,757.7 L434.6,757.3 L433.4,756.9 L432.2,756.5 L431.0,756.0 L429.8,755.6 L428.6,755.2 L427.4,754.7 L426.2,754.1 L425.0,753.4 L423.8,752.6 L422.6,751.5 L421.5,750.1 L420.3,748.4 L419.1,746.2Z" fill="#3041a3"/>
<path d="M419.8,747.6 L421.4,745.5 L423.0,743.5 L424.6,741.6 L426.0,739.7 L427.4,738.0 L428.8,736.3 L430.4,734.9 L432.0,733.5 L433.6,732.2 L435.1,731.0 L436.6,729.9 L438.1,728.8 L439.6,727.9 L441.1,727.0 L442.5,726.3 L443.9,725.6 L445.3,725.0 L446.7,724.5 L448.1,724.1 L449.5,723.7 L450.9,723.5 L452.3,723.3 L453.7,723.2 L455.1,723.2 L456.5,723.2 L458.0,723.4 L459.6,723.7 L461.4,724.1 L463.5,724.6 L468.0,725.9 L472.3,727.2 L474.3,727.9 L475.9,728.4 L477.1,729.0 L478.0,729.6 L478.8,730.1 L479.4,730.7 L479.7,731.4 L480.0,732.0 L480.0,732.7 L479.9,733.5 L479.6,734.2 L479.2,735.1 L478.6,735.9 L477.8,736.9 L476.9,737.8 L475.8,738.8 L474.5,739.9 L473.1,741.0 L471.5,742.2 L469.7,743.4 L467.7,744.6 L465.6,745.9 L463.3,747.3 L460.6,748.7 L457.7,750.1 L454.6,751.5 L451.4,753.1 L448.1,754.6 L444.6,756.3 L443.5,757.2 L442.5,757.9 L441.5,758.3 L440.4,758.4 L439.4,758.5 L438.4,758.3 L437.3,758.1 L436.3,757.9 L435.3,757.5 L434.2,757.2 L433.2,756.8 L432.2,756.5 L431.1,756.1 L430.1,755.7 L429.1,755.3 L428.1,754.9 L427.0,754.5 L426.0,754.0 L425.0,753.4 L423.9,752.6 L422.9,751.7 L421.9,750.6 L420.8,749.2Z" fill="#2e3e9f"/>
<path d="M423.5,752.3 L424.6,751.2 L425.6,750.1 L426.6,749.1 L427.5,748.1 L428.4,747.2 L429.2,746.3 L430.0,745.4 L430.8,744.6 L431.5,743.8 L432.2,743.1 L432.9,742.5 L433.6,741.8 L434.5,741.4 L435.4,740.9 L436.3,740.5 L437.2,740.2 L438.1,739.9 L438.9,739.7 L439.8,739.5 L440.6,739.3 L441.4,739.2 L442.3,739.1 L443.1,739.1 L444.0,739.1 L444.9,739.2 L445.8,739.3 L446.8,739.5 L447.8,739.8 L449.2,740.2 L451.9,741.0 L454.6,741.8 L455.8,742.3 L456.8,742.6 L457.5,743.0 L458.1,743.3 L458.6,743.7 L459.0,744.0 L459.3,744.4 L459.5,744.8 L459.6,745.2 L459.7,745.7 L459.6,746.1 L459.5,746.6 L459.2,747.1 L458.9,747.7 L458.5,748.2 L458.0,748.8 L457.4,749.5 L456.5,750.0 L455.4,750.6 L454.3,751.2 L453.0,751.9 L451.8,752.6 L450.4,753.3 L449.0,754.0 L447.5,754.8 L446.0,755.7 L444.3,756.5 L442.6,757.4 L440.9,758.4 L440.1,758.5 L439.4,758.5 L438.7,758.4 L438.0,758.3 L437.2,758.1 L436.5,757.9 L435.8,757.7 L435.1,757.5 L434.4,757.2 L433.6,757.0 L432.9,756.7 L432.2,756.5 L431.5,756.2 L430.7,756.0 L430.0,755.7 L429.3,755.4 L428.6,755.1 L427.8,754.9 L427.1,754.5 L426.4,754.2 L425.7,753.8 L424.9,753.4 L424.2,752.8Z" fill="#2c3b9b"/>
</g></g>
<path d="M504.9,281.1 L502.8,289.5 L500.7,297.8 L498.8,305.8 L496.8,313.7 L495.0,321.3 L493.2,328.8 L491.6,336.1 L490.0,343.1 L488.4,350.0 L487.0,356.7 L485.5,363.2 L484.2,369.5 L482.9,375.6 L481.7,381.5 L480.5,387.3 L479.5,392.8 L478.5,398.2 L477.6,403.4 L476.8,408.4 L476.1,413.2 L475.5,417.9 L475.0,422.4 L474.7,426.8 L474.5,431.0 L474.4,435.0 L474.5,438.9 L474.7,442.6 L475.0,446.2 L475.4,449.6 L475.9,452.8 L476.5,455.9 L477.4,458.9 L478.5,461.8 L479.9,464.5 L481.8,467.2 L484.2,469.9 L487.2,472.6 L490.9,475.2 L495.4,477.9 L500.9,480.7 L507.5,483.6 L515.5,486.8 L525.0,490.1 L536.1,493.7 L548.9,497.6 L563.4,501.8 L579.3,506.2 L596.2,510.7 L613.2,515.2 L628.5,519.1 L643.9,523.0 L661.2,527.2 L678.5,531.4 L695.2,535.2 L710.8,538.6 L725.0,541.6 L737.7,544.0 L749.1,545.9 L759.3,547.4 L768.5,548.4 L776.8,549.1 L784.6,549.5 L791.8,549.6 L798.7,549.4 L805.4,548.9 L811.9,548.3 L818.3,547.4 L824.7,546.4 L831.2,545.2 L838.0,543.9 L844.9,542.5 L852.1,540.9 L859.6,539.2 L867.4,537.4 L875.4,535.5 L883.7,533.4 L892.2,531.2 L901.0,528.9 L910.1,526.4 L919.5,523.8 L929.2,521.1 L939.1,518.3 L949.4,515.3 L960.1,512.2 L971.0,509.0 L982.3,505.6 L993.9,502.2 L1005.9,498.6 L1018.3,494.9 L1031.0,491.1 L1044.1,487.1 L1057.6,483.1 L1071.4,478.9 L1085.6,474.6 L1100.2,470.1 L1115.1,465.5 L1130.4,460.8 L1146.0,456.0 L1162.1,451.0 L1178.5,446.0" fill="none" stroke="#0b69a6" stroke-width="4.3" stroke-linejoin="round"/>
<path d="M509.4,278.7 L507.3,286.9 L505.3,295.0 L503.5,302.9 L501.7,310.6 L500.0,318.1 L498.4,325.4 L496.9,332.5 L495.5,339.5 L494.2,346.3 L493.0,352.9 L491.8,359.3 L490.7,365.5 L489.7,371.5 L488.7,377.4 L487.9,383.1 L487.2,388.6 L486.5,393.9 L486.0,399.1 L485.6,404.1 L485.3,408.9 L485.2,413.6 L485.3,418.2 L485.5,422.6 L486.0,426.8 L486.6,431.0 L487.5,435.0 L488.5,438.8 L489.8,442.5 L491.2,446.1 L492.8,449.6 L494.5,452.9 L496.4,456.1 L498.5,459.1 L501.0,462.1 L503.9,465.0 L507.4,467.9 L511.4,470.8 L516.3,473.7 L521.9,476.7 L528.3,479.7 L535.7,482.7 L543.9,485.9 L553.1,489.1 L563.2,492.5 L574.1,495.9 L585.8,499.3 L597.9,502.8 L610.3,506.1 L622.4,509.3 L633.2,512.1 L644.1,514.8 L656.5,517.8 L669.3,520.8 L682.2,523.7 L694.9,526.4 L707.1,528.9 L718.8,531.1 L729.9,532.9 L740.3,534.5 L750.2,535.7 L759.4,536.7 L768.2,537.3 L776.5,537.7 L784.4,537.8 L792.0,537.7 L799.4,537.3 L806.7,536.8 L814.1,536.0 L821.6,535.1 L829.2,534.1 L837.0,533.0 L845.1,531.7 L853.4,530.3 L861.9,528.7 L870.5,527.0 L879.3,525.2 L888.4,523.2 L897.6,521.1 L907.0,518.8 L916.6,516.4 L926.5,513.8 L936.6,511.2 L947.0,508.3 L957.7,505.4 L968.8,502.3 L980.1,499.1 L991.7,495.8 L1003.7,492.4 L1016.0,488.8 L1028.7,485.1 L1041.7,481.3 L1055.1,477.4 L1068.8,473.3 L1082.8,469.1 L1097.2,464.8 L1111.8,460.4 L1126.9,455.8 L1142.2,451.1 L1158.0,446.2 L1174.0,441.3" fill="none" stroke="#0b69a6" stroke-width="4.3" stroke-linejoin="round"/>
<path d="M518.0,273.8 L516.1,281.7 L514.3,289.4 L512.7,296.9 L511.1,304.3 L509.7,311.5 L508.4,318.5 L507.2,325.3 L506.2,332.1 L505.3,338.6 L504.6,345.0 L503.9,351.2 L503.2,357.2 L502.7,363.1 L502.3,368.8 L501.9,374.3 L501.7,379.7 L501.6,384.9 L501.7,389.9 L501.9,394.9 L502.3,399.6 L502.9,404.3 L503.7,408.8 L504.8,413.2 L506.1,417.5 L507.7,421.7 L509.6,425.8 L511.8,429.7 L514.3,433.6 L517.0,437.4 L520.1,441.1 L523.5,444.7 L527.1,448.1 L530.9,451.5 L534.8,454.7 L539.0,457.9 L543.5,460.9 L548.3,463.9 L553.4,466.8 L559.0,469.7 L565.0,472.5 L571.5,475.3 L578.5,478.1 L585.8,480.8 L593.6,483.5 L601.8,486.2 L610.2,488.8 L618.7,491.3 L627.3,493.7 L635.6,495.9 L643.0,497.8 L650.5,499.7 L659.1,501.7 L668.2,503.8 L677.4,505.8 L686.8,507.6 L696.2,509.4 L705.5,511.0 L714.7,512.4 L723.7,513.7 L732.6,514.7 L741.3,515.6 L749.8,516.3 L758.3,516.8 L766.7,517.1 L775.2,517.3 L783.6,517.3 L792.2,517.1 L801.0,516.9 L809.9,516.5 L818.9,516.0 L828.0,515.3 L837.1,514.4 L846.3,513.4 L855.5,512.2 L864.8,510.9 L874.2,509.4 L883.7,507.7 L893.3,505.9 L903.0,503.9 L912.9,501.8 L922.9,499.5 L933.2,497.1 L943.7,494.5 L954.4,491.9 L965.4,489.1 L976.7,486.1 L988.2,483.1 L1000.1,479.9 L1012.2,476.6 L1024.7,473.2 L1037.5,469.6 L1050.6,466.0 L1064.0,462.2 L1077.6,458.3 L1091.5,454.2 L1105.7,450.0 L1120.2,445.7 L1134.9,441.2 L1150.0,436.6 L1165.4,431.9" fill="none" stroke="#0c7fa8" stroke-width="4.3" stroke-linejoin="round"/>
<path d="M534.6,263.8 L533.1,270.8 L531.7,277.7 L530.4,284.4 L529.3,291.0 L528.4,297.5 L527.6,303.8 L526.9,310.0 L526.5,316.1 L526.2,322.0 L526.1,327.8 L526.2,333.5 L526.4,339.0 L526.6,344.4 L526.9,349.6 L527.3,354.7 L527.9,359.7 L528.5,364.5 L529.3,369.2 L530.3,373.7 L531.4,378.2 L532.7,382.5 L534.1,386.7 L535.8,390.7 L537.6,394.7 L539.7,398.6 L542.0,402.4 L544.6,406.1 L547.5,409.7 L550.7,413.2 L554.1,416.7 L557.8,420.0 L561.8,423.3 L566.1,426.5 L570.6,429.7 L575.4,432.7 L580.5,435.7 L585.8,438.6 L591.3,441.4 L597.0,444.1 L602.9,446.8 L608.9,449.3 L615.1,451.8 L621.5,454.1 L627.9,456.4 L634.3,458.6 L640.8,460.6 L647.3,462.5 L653.7,464.3 L659.8,466.0 L665.3,467.4 L670.8,468.7 L677.1,470.2 L683.9,471.7 L691.0,473.2 L698.4,474.6 L706.0,476.0 L713.7,477.3 L721.6,478.5 L729.7,479.6 L737.9,480.6 L746.2,481.5 L754.5,482.2 L763.0,482.9 L771.5,483.5 L780.0,483.9 L788.7,484.1 L797.3,484.3 L806.0,484.3 L814.7,484.1 L823.4,483.8 L832.2,483.4 L841.0,482.8 L849.8,482.0 L858.7,481.1 L867.6,480.1 L876.6,478.9 L885.7,477.6 L895.0,476.2 L904.3,474.6 L913.8,472.9 L923.5,471.1 L933.4,469.1 L943.4,467.0 L953.7,464.8 L964.2,462.5 L974.9,460.1 L985.8,457.5 L997.1,454.9 L1008.6,452.1 L1020.4,449.3 L1032.4,446.3 L1044.5,443.1 L1056.9,439.9 L1069.3,436.5 L1082.0,432.9 L1094.9,429.3 L1108.1,425.5 L1121.4,421.6 L1135.0,417.5 L1148.8,413.4" fill="none" stroke="#129a94" stroke-width="4.3" stroke-linejoin="round"/>
<path d="M565.7,243.2 L564.9,249.0 L564.2,254.6 L563.7,260.2 L563.3,265.7 L563.1,271.0 L563.0,276.3 L563.1,281.5 L563.3,286.5 L563.8,291.5 L564.5,296.4 L565.4,301.2 L566.5,305.9 L567.8,310.5 L569.2,315.0 L570.8,319.4 L572.5,323.7 L574.2,327.9 L575.9,332.0 L577.8,336.0 L579.8,339.8 L581.9,343.6 L584.1,347.2 L586.5,350.8 L589.0,354.3 L591.7,357.6 L594.5,360.9 L597.4,364.1 L600.5,367.2 L603.8,370.2 L607.2,373.2 L610.7,376.0 L614.4,378.8 L618.3,381.5 L622.3,384.1 L626.4,386.6 L630.7,389.1 L635.1,391.4 L639.7,393.7 L644.4,395.9 L649.2,398.1 L654.0,400.1 L659.0,402.1 L664.1,404.0 L669.2,405.8 L674.3,407.5 L679.5,409.1 L684.6,410.6 L689.6,412.0 L694.5,413.3 L698.8,414.4 L703.2,415.5 L708.2,416.7 L713.6,417.8 L719.2,419.0 L725.1,420.1 L731.1,421.1 L737.3,422.2 L743.7,423.1 L750.1,424.0 L756.7,424.8 L763.5,425.5 L770.3,426.1 L777.2,426.7 L784.3,427.1 L791.4,427.5 L798.6,427.8 L806.0,427.9 L813.4,428.0 L820.9,428.0 L828.5,427.9 L836.2,427.7 L844.0,427.4 L851.9,426.9 L860.0,426.4 L868.1,425.8 L876.4,425.1 L884.8,424.3 L893.3,423.3 L901.9,422.3 L910.7,421.2 L919.7,420.0 L928.7,418.7 L938.0,417.2 L947.5,415.7 L957.2,414.2 L967.1,412.5 L977.2,410.7 L987.4,408.8 L997.7,406.8 L1008.1,404.7 L1018.5,402.4 L1029.0,400.1 L1039.6,397.6 L1050.3,394.9 L1061.2,392.2 L1072.2,389.4 L1083.3,386.4 L1094.6,383.3 L1106.1,380.2 L1117.7,376.9" fill="none" stroke="#2a9a6a" stroke-width="4.3" stroke-linejoin="round"/>
<path d="M625.3,201.1 L625.7,204.9 L626.1,208.5 L626.7,212.1 L627.3,215.7 L628.1,219.1 L628.9,222.5 L629.8,225.9 L630.9,229.2 L632.0,232.4 L633.3,235.6 L634.6,238.7 L636.1,241.8 L637.7,244.8 L639.3,247.7 L641.1,250.6 L643.0,253.4 L645.1,256.2 L647.3,259.0 L649.6,261.6 L652.0,264.3 L654.6,266.9 L657.3,269.4 L660.1,271.9 L663.0,274.3 L665.9,276.7 L669.0,279.0 L672.1,281.3 L675.3,283.5 L678.6,285.7 L682.0,287.8 L685.4,289.8 L688.9,291.8 L692.4,293.7 L695.9,295.5 L699.6,297.3 L703.2,299.0 L706.9,300.7 L710.6,302.3 L714.3,303.9 L718.1,305.4 L721.8,306.8 L725.6,308.2 L729.4,309.5 L733.2,310.7 L737.0,311.9 L740.7,313.0 L744.4,314.1 L748.0,315.1 L751.5,316.0 L754.6,316.7 L757.7,317.5 L761.3,318.3 L765.1,319.1 L769.1,319.9 L773.3,320.7 L777.6,321.5 L782.0,322.3 L786.6,323.0 L791.3,323.7 L796.1,324.4 L801.1,325.0 L806.1,325.6 L811.3,326.1 L816.5,326.6 L821.9,327.1 L827.4,327.5 L833.0,327.9 L838.7,328.2 L844.5,328.5 L850.4,328.7 L856.3,328.9 L862.4,329.0 L868.6,329.0 L874.8,329.0 L881.1,329.0 L887.5,328.8 L894.0,328.7 L900.5,328.4 L907.1,328.1 L913.7,327.7 L920.4,327.2 L927.2,326.7 L933.9,326.1 L940.7,325.4 L947.6,324.7 L954.4,323.8 L961.3,322.9 L968.3,321.9 L975.4,320.9 L982.5,319.8 L989.7,318.6 L997.0,317.3 L1004.3,316.0 L1011.8,314.6 L1019.3,313.2 L1026.9,311.6 L1034.6,310.0 L1042.3,308.3 L1050.1,306.6 L1058.1,304.8" fill="none" stroke="#8a8a3a" stroke-width="4.3" stroke-linejoin="round"/>
<path d="M689.7,159.9 L690.8,162.0 L692.0,164.2 L693.2,166.3 L694.5,168.4 L695.8,170.4 L697.2,172.4 L698.6,174.4 L700.1,176.4 L701.6,178.3 L703.2,180.2 L704.8,182.0 L706.5,183.8 L708.3,185.6 L710.0,187.4 L711.9,189.1 L713.7,190.8 L715.7,192.5 L717.6,194.1 L719.6,195.7 L721.7,197.2 L723.8,198.8 L725.9,200.3 L728.1,201.7 L730.3,203.2 L732.6,204.6 L734.9,206.0 L737.2,207.3 L739.6,208.6 L742.0,209.9 L744.4,211.2 L746.9,212.4 L749.4,213.6 L751.9,214.7 L754.5,215.9 L757.0,216.9 L759.7,218.0 L762.3,219.0 L764.9,220.1 L767.6,221.0 L770.2,222.0 L772.9,222.9 L775.6,223.7 L778.3,224.6 L781.0,225.4 L783.6,226.2 L786.2,226.9 L788.8,227.6 L791.4,228.3 L793.8,228.9 L796.0,229.4 L798.1,229.9 L800.6,230.5 L803.3,231.1 L806.0,231.6 L808.9,232.2 L811.8,232.8 L814.8,233.3 L817.9,233.9 L821.1,234.4 L824.3,234.9 L827.6,235.4 L831.0,235.9 L834.4,236.3 L837.8,236.7 L841.3,237.1 L844.9,237.5 L848.5,237.8 L852.2,238.2 L855.9,238.5 L859.7,238.7 L863.5,239.0 L867.4,239.2 L871.3,239.4 L875.2,239.5 L879.2,239.6 L883.3,239.7 L887.4,239.8 L891.5,239.8 L895.7,239.8 L900.0,239.8 L904.2,239.7 L908.6,239.6 L912.9,239.5 L917.3,239.3 L921.8,239.1 L926.3,238.9 L930.8,238.6 L935.4,238.3 L940.0,238.0 L944.7,237.6 L949.4,237.2 L954.2,236.7 L959.0,236.3 L963.8,235.7 L968.7,235.2 L973.6,234.6 L978.6,234.0 L983.6,233.3 L988.6,232.6 L993.7,231.9" fill="none" stroke="#8c2a22" stroke-width="4.3" stroke-linejoin="round"/>
<g clip-path="url(#wc)">
<path d="M408.9,648.2 L410.7,641.3 L412.5,634.6 L414.2,628.0 L415.9,621.7 L417.6,615.5 L419.2,609.4 L420.8,603.5 L422.3,597.8 L423.8,592.3 L425.3,586.9 L426.7,581.6 L428.1,576.6 L429.5,571.7 L430.9,566.9 L432.2,562.3 L433.5,557.9 L434.8,553.6 L436.0,549.5 L437.3,545.6 L438.5,541.8 L439.8,538.1 L441.0,534.7 L442.3,531.4 L443.6,528.2 L444.9,525.3 L446.2,522.4 L447.5,519.8 L448.9,517.3 L450.3,514.9 L451.8,512.8 L453.3,510.8 L455.0,508.9 L456.8,507.3 L458.8,505.8 L461.0,504.6 L463.6,503.5 L466.5,502.7 L469.8,502.2 L473.8,501.9 L478.4,501.9 L483.9,502.3 L490.4,503.1 L498.2,504.3 L507.5,506.0 L518.4,508.3 L531.4,511.2 L546.6,514.7 L564.4,519.0 L585.9,524.4 L619.3,532.9 L652.8,541.4 L674.0,546.9 L691.4,551.6 L706.0,555.6 L718.0,559.1 L727.9,562.1 L735.9,564.8 L742.1,567.2 L746.8,569.3 L750.2,571.2 L752.5,572.9 L753.8,574.6 L754.3,576.1 L754.0,577.7 L753.0,579.2 L751.5,580.6 L749.4,582.1 L746.9,583.7 L743.9,585.2 L740.6,586.8 L736.8,588.5 L732.6,590.2 L728.1,592.0 L723.2,593.9 L718.1,595.8 L712.5,597.8 L706.6,599.9 L700.4,602.0 L693.9,604.2 L687.0,606.6 L679.8,608.9 L672.2,611.4 L664.4,614.0 L656.2,616.6 L647.6,619.3 L638.8,622.2 L629.6,625.1 L620.2,628.1 L610.4,631.2 L600.3,634.4 L589.9,637.7 L579.1,641.0 L568.1,644.5 L556.7,648.1 L545.0,651.8 L532.9,655.5 L520.6,659.4 L507.9,663.4 L494.9,667.4 L481.6,671.6" fill="none" stroke="#d9eefc" stroke-width="4.4" stroke-linejoin="round"/>
<path d="M409.3,651.8 L411.1,645.1 L412.9,638.6 L414.7,632.3 L416.4,626.1 L418.1,620.0 L419.7,614.2 L421.4,608.5 L422.9,602.9 L424.5,597.5 L426.0,592.3 L427.5,587.2 L429.0,582.3 L430.5,577.5 L431.9,572.9 L433.3,568.5 L434.7,564.2 L436.1,560.1 L437.5,556.1 L438.9,552.3 L440.4,548.7 L441.8,545.2 L443.3,541.9 L444.9,538.8 L446.5,535.8 L448.2,533.0 L449.9,530.4 L451.7,527.9 L453.6,525.6 L455.6,523.5 L457.6,521.5 L459.8,519.7 L462.2,518.2 L464.8,516.8 L467.6,515.6 L470.6,514.6 L474.1,513.8 L477.9,513.3 L482.2,513.0 L487.1,513.0 L492.6,513.3 L498.8,513.9 L505.9,514.8 L513.9,516.1 L522.8,517.8 L532.9,519.8 L544.2,522.3 L556.9,525.2 L571.3,528.7 L588.3,532.9 L614.9,539.6 L641.5,546.4 L658.3,550.8 L672.3,554.6 L684.4,558.0 L694.8,561.1 L703.8,563.9 L711.5,566.5 L718.0,568.9 L723.2,571.1 L727.5,573.2 L730.7,575.2 L733.0,577.0 L734.5,578.8 L735.2,580.5 L735.2,582.2 L734.6,583.9 L733.5,585.6 L731.8,587.3 L729.7,589.0 L727.1,590.7 L724.0,592.5 L720.5,594.3 L716.7,596.2 L712.4,598.2 L707.8,600.2 L702.8,602.2 L697.5,604.3 L691.8,606.5 L685.7,608.7 L679.2,611.1 L672.4,613.4 L665.2,615.9 L657.7,618.4 L649.9,621.1 L641.7,623.8 L633.2,626.5 L624.4,629.4 L615.3,632.4 L605.9,635.4 L596.2,638.6 L586.1,641.8 L575.7,645.1 L565.0,648.5 L554.0,652.0 L542.6,655.6 L531.0,659.3 L519.0,663.1 L506.8,667.0 L494.2,670.9 L481.2,675.0" fill="none" stroke="#d0e8fb" stroke-width="4.4" stroke-linejoin="round"/>
<path d="M410.1,659.2 L411.9,652.9 L413.8,646.7 L415.6,640.7 L417.4,634.9 L419.1,629.2 L420.8,623.7 L422.5,618.3 L424.2,613.1 L425.8,608.0 L427.4,603.1 L429.0,598.4 L430.6,593.8 L432.2,589.3 L433.8,585.0 L435.4,580.9 L437.0,576.9 L438.6,573.0 L440.2,569.4 L441.8,565.8 L443.5,562.5 L445.2,559.3 L447.1,556.3 L449.0,553.4 L451.0,550.7 L453.2,548.2 L455.4,545.9 L457.8,543.7 L460.4,541.7 L463.1,539.9 L465.9,538.3 L468.9,536.8 L472.0,535.6 L475.4,534.5 L479.0,533.6 L482.8,532.9 L487.0,532.4 L491.4,532.1 L496.2,532.0 L501.4,532.1 L507.0,532.5 L513.1,533.1 L519.6,534.0 L526.7,535.1 L534.3,536.4 L542.6,538.1 L551.6,540.0 L561.4,542.2 L572.4,544.8 L585.3,548.0 L606.0,553.3 L626.6,558.6 L639.4,561.9 L650.0,564.8 L659.2,567.5 L667.4,570.0 L674.7,572.3 L681.1,574.6 L686.7,576.7 L691.5,578.8 L695.7,580.8 L699.1,582.8 L701.9,584.7 L704.0,586.6 L705.5,588.4 L706.4,590.2 L706.8,592.1 L706.7,593.9 L706.0,595.7 L704.9,597.6 L703.3,599.5 L701.3,601.4 L698.8,603.3 L695.9,605.3 L692.6,607.3 L688.9,609.4 L684.7,611.4 L680.2,613.6 L675.2,615.8 L669.8,618.0 L664.0,620.3 L657.9,622.6 L651.4,625.0 L644.6,627.5 L637.4,630.0 L629.9,632.6 L622.2,635.3 L614.1,638.1 L605.6,641.0 L596.9,643.9 L587.8,646.9 L578.4,650.0 L568.8,653.2 L558.8,656.5 L548.5,659.8 L537.9,663.3 L527.0,666.8 L515.8,670.4 L504.3,674.1 L492.5,677.9 L480.4,681.8" fill="none" stroke="#c4ddfa" stroke-width="4.4" stroke-linejoin="round"/>
<path d="M411.9,673.9 L413.8,668.4 L415.7,663.1 L417.5,657.9 L419.4,652.8 L421.2,647.9 L423.0,643.1 L424.8,638.4 L426.5,633.9 L428.2,629.5 L430.0,625.3 L431.7,621.2 L433.4,617.2 L435.1,613.3 L436.8,609.6 L438.6,606.1 L440.4,602.7 L442.3,599.4 L444.1,596.3 L446.0,593.3 L447.9,590.4 L449.8,587.7 L451.8,585.1 L453.8,582.7 L455.9,580.4 L458.1,578.3 L460.5,576.3 L463.0,574.5 L465.7,572.9 L468.5,571.4 L471.4,570.1 L474.6,569.0 L477.9,568.0 L481.4,567.2 L485.1,566.5 L489.0,566.0 L493.0,565.7 L497.3,565.5 L501.8,565.5 L506.5,565.7 L511.4,566.0 L516.5,566.5 L521.8,567.2 L527.4,568.0 L533.3,569.0 L539.5,570.1 L546.2,571.5 L553.3,573.1 L561.3,575.0 L570.8,577.3 L586.8,581.4 L602.8,585.6 L612.1,588.1 L619.8,590.2 L626.4,592.2 L632.4,594.0 L637.7,595.9 L642.5,597.6 L646.8,599.4 L650.7,601.1 L654.1,602.8 L657.1,604.6 L659.6,606.3 L661.7,608.0 L663.4,609.7 L664.7,611.5 L665.5,613.2 L665.9,614.9 L665.9,616.7 L665.4,618.5 L664.5,620.3 L663.2,622.1 L661.5,623.9 L659.4,625.7 L656.8,627.6 L653.9,629.5 L650.6,631.4 L646.9,633.4 L642.8,635.4 L638.4,637.4 L633.8,639.5 L628.8,641.7 L623.5,643.9 L617.9,646.2 L612.0,648.6 L605.8,651.0 L599.4,653.5 L592.6,656.0 L585.5,658.6 L578.1,661.2 L570.4,664.0 L562.4,666.8 L554.2,669.6 L545.7,672.6 L536.9,675.6 L527.9,678.7 L518.6,681.9 L509.0,685.2 L499.2,688.5 L489.0,691.9 L478.6,695.4" fill="none" stroke="#bcd2f6" stroke-width="4.4" stroke-linejoin="round"/>
<path d="M416.7,703.8 L418.6,699.9 L420.5,696.1 L422.4,692.5 L424.3,688.9 L426.2,685.4 L428.1,682.1 L430.0,678.8 L431.8,675.6 L433.7,672.6 L435.6,669.6 L437.4,666.8 L439.3,664.0 L441.2,661.3 L443.0,658.8 L444.9,656.3 L446.8,654.0 L448.7,651.7 L450.6,649.6 L452.5,647.5 L454.4,645.6 L456.5,643.8 L458.6,642.1 L460.8,640.4 L462.9,638.9 L465.1,637.5 L467.4,636.2 L469.7,635.0 L472.0,633.9 L474.3,632.9 L476.7,632.0 L479.2,631.2 L481.7,630.5 L484.2,629.9 L486.8,629.4 L489.4,629.0 L492.1,628.7 L494.8,628.5 L497.6,628.4 L500.5,628.4 L503.5,628.5 L506.5,628.7 L509.6,628.9 L512.9,629.3 L516.3,629.8 L519.9,630.5 L523.7,631.2 L527.8,632.1 L532.5,633.2 L538.2,634.6 L548.9,637.4 L559.7,640.3 L565.2,641.8 L569.6,643.1 L573.4,644.3 L576.7,645.4 L579.6,646.5 L582.2,647.5 L584.6,648.6 L586.6,649.7 L588.4,650.8 L589.9,651.9 L591.3,653.0 L592.3,654.2 L593.2,655.4 L593.8,656.6 L594.2,657.8 L594.4,659.0 L594.3,660.3 L594.0,661.6 L593.5,663.0 L592.8,664.4 L591.8,665.8 L590.6,667.2 L589.2,668.7 L587.6,670.2 L585.7,671.8 L583.7,673.4 L581.3,675.0 L578.8,676.7 L576.0,678.4 L573.0,680.1 L569.6,681.9 L566.1,683.7 L562.3,685.6 L558.4,687.5 L554.2,689.4 L549.8,691.4 L545.2,693.5 L540.4,695.6 L535.4,697.7 L530.2,699.9 L524.7,702.2 L519.1,704.5 L513.3,706.8 L507.2,709.3 L500.9,711.7 L494.5,714.2 L487.8,716.8 L480.9,719.5 L473.8,722.1" fill="none" stroke="#bdbdee" stroke-width="4.4" stroke-linejoin="round"/>
<path d="M424.3,730.0 L425.5,728.5 L426.7,727.0 L427.9,725.5 L429.1,724.1 L430.3,722.8 L431.5,721.4 L432.7,720.2 L433.9,718.9 L435.1,717.7 L436.3,716.6 L437.5,715.4 L438.6,714.4 L439.8,713.3 L441.0,712.4 L442.1,711.4 L443.3,710.5 L444.4,709.7 L445.6,708.8 L446.7,708.1 L447.8,707.3 L449.0,706.6 L450.1,706.0 L451.3,705.3 L452.4,704.8 L453.5,704.2 L454.6,703.7 L455.8,703.2 L456.9,702.8 L458.0,702.4 L459.1,702.1 L460.2,701.8 L461.4,701.5 L462.5,701.3 L463.6,701.1 L464.7,700.9 L465.9,700.8 L467.0,700.7 L468.2,700.7 L469.4,700.7 L470.6,700.7 L471.8,700.8 L473.0,700.9 L474.3,701.1 L475.6,701.3 L477.1,701.5 L478.6,701.9 L480.2,702.2 L482.1,702.7 L484.5,703.3 L489.3,704.7 L494.1,706.0 L496.4,706.7 L498.2,707.3 L499.7,707.8 L501.0,708.2 L502.1,708.7 L503.1,709.1 L504.0,709.6 L504.8,710.0 L505.5,710.5 L506.1,711.0 L506.6,711.4 L507.0,711.9 L507.4,712.4 L507.6,713.0 L507.8,713.5 L507.9,714.1 L508.0,714.6 L507.9,715.2 L507.8,715.8 L507.6,716.4 L507.3,717.1 L506.9,717.7 L506.5,718.4 L505.9,719.1 L505.3,719.8 L504.7,720.6 L503.9,721.3 L503.1,722.1 L502.1,722.9 L501.1,723.7 L500.0,724.6 L498.9,725.4 L497.6,726.3 L496.3,727.2 L494.9,728.1 L493.4,729.1 L491.8,730.1 L490.2,731.1 L488.4,732.1 L486.6,733.1 L484.7,734.2 L482.7,735.2 L480.6,736.4 L478.4,737.5 L476.1,738.6 L473.8,739.8 L471.4,741.0 L468.8,742.2 L466.2,743.5" fill="none" stroke="#b8b4ea" stroke-width="4.4" stroke-linejoin="round"/>
</g>
<line x1="476.6" y1="672.0" x2="493.0" y2="669.5" stroke="#d8e9f9" stroke-width="4.20"/>
<line x1="476.6" y1="683.2" x2="508.4" y2="673.8" stroke="#d0e4f8" stroke-width="4.20"/>
<line x1="474.5" y1="706.3" x2="534.0" y2="680.5" stroke="#c5c5ee" stroke-width="3.80"/>
<line x1="468.5" y1="727.0" x2="497.2" y2="709.0" stroke="#c5c5ee" stroke-width="3.80"/>
<path d="M482.0,668.2 L1183.0,450.7 L788.0,740.5Z" fill="#4a98d3"/>
<line x1="408.5" y1="644.5" x2="500.4" y2="283.5" stroke="#e2ca36" stroke-width="4.00"/>
<line x1="482.0" y1="668.2" x2="1183.0" y2="450.7" stroke="#e2ca36" stroke-width="4.00"/>
<line x1="288.0" y1="441.5" x2="963.0" y2="608.0" stroke="#d9489f" stroke-width="6.40"/>
<line x1="452.0" y1="482.9" x2="797.8" y2="567.6" stroke="#fbdfeb" stroke-width="6.40" stroke-dasharray="6.55,6.55"/>
<line x1="785.8" y1="711.6" x2="785.8" y2="853.0" stroke="#333" stroke-width="1.20"/>
<line x1="962.8" y1="581.0" x2="962.8" y2="725.0" stroke="#333" stroke-width="1.20"/>
<line x1="109.6" y1="289.5" x2="109.6" y2="688.3" stroke="#000" stroke-width="4.20"/>
<line x1="108.0" y1="686.2" x2="789.5" y2="852.8" stroke="#000" stroke-width="4.20"/>
<line x1="787.0" y1="853.6" x2="1183.5" y2="566.6" stroke="#000" stroke-width="4.20"/>
<line x1="89.5" y1="344.0" x2="110.0" y2="346.0" stroke="#000" stroke-width="3.40"/>
<line x1="89.5" y1="572.0" x2="110.0" y2="572.0" stroke="#000" stroke-width="3.60"/>
<line x1="89.5" y1="685.5" x2="110.0" y2="686.5" stroke="#000" stroke-width="3.60"/>
<line x1="92.5" y1="698.0" x2="110.0" y2="687.3" stroke="#000" stroke-width="3.20"/>
<line x1="264.0" y1="739.6" x2="279.0" y2="728.6" stroke="#000" stroke-width="3.20"/>
<line x1="433.0" y1="781.3" x2="448.0" y2="770.6" stroke="#000" stroke-width="3.20"/>
<line x1="604.5" y1="822.8" x2="619.5" y2="812.0" stroke="#000" stroke-width="3.20"/>
<line x1="775.0" y1="864.0" x2="790.0" y2="852.5" stroke="#000" stroke-width="3.20"/>
<line x1="963.0" y1="727.0" x2="981.5" y2="729.3" stroke="#000" stroke-width="3.40"/>
<line x1="1182.0" y1="567.3" x2="1198.5" y2="570.2" stroke="#000" stroke-width="3.40"/>
<line x1="1166.1" y1="197.7" x2="512.0" y2="37.1" stroke="#000" stroke-width="8.00"/>
<path d="M493.6,32.6 L516.3,28.4 L511.7,46.8Z" fill="#000"/>
<path d="M1184.5,202.2 L1166.4,188.0 L1161.8,206.4Z" fill="#000"/>
<line x1="336.6" y1="333.1" x2="350.5" y2="443.8" stroke="#000" stroke-width="7.00"/>
<path d="M352.6,460.8 L340.8,443.1 L359.7,440.8Z" fill="#000"/>
<line x1="647.6" y1="356.4" x2="622.8" y2="505.6" stroke="#000" stroke-width="7.00"/>
<path d="M620.0,522.5 L613.7,502.2 L632.5,505.3Z" fill="#000"/>
<line x1="453.9" y1="557.9" x2="650.8" y2="606.3" stroke="#fffaf4" stroke-width="6.80"/>
<path d="M666.5,610.2 L646.9,614.4 L651.1,597.4Z" fill="#fffaf4"/>
<path d="M438.2,554.0 L453.6,566.8 L457.8,549.8Z" fill="#fffaf4"/>
<text fill="#000"><tspan x="1.5" y="207.9" font-size="47.0">S</tspan><tspan x="33.5" y="221.0" font-size="37.0">0</tspan><tspan x="66.6" y="207.9" font-size="47.0">Stokes</tspan></text>
<text fill="#000"><tspan x="1.6" y="263.3" font-size="47.0">component</tspan></text>
<text fill="#000"><tspan x="299.8" y="257.9" font-size="47.0">optimal</tspan></text>
<text fill="#000"><tspan x="300.5" y="315.4" font-size="47.0">switch</tspan></text>
<text fill="#000"><tspan x="919.1" y="112.1" font-size="42.0">2L</tspan><tspan x="965.8" y="126.5" font-size="41.0">c</tspan></text>
<text fill="#000"><tspan x="65.4" y="351.2" font-size="33.0">3</tspan></text>
<text fill="#000"><tspan x="49.4" y="581.5" font-size="37.0">1</tspan></text>
<text fill="#000"><tspan x="63.5" y="692.4" font-size="34.0">0</tspan></text>
<text fill="#000"><tspan x="36.2" y="740.9" font-size="38.0">–</tspan><tspan x="67.6" y="740.9" font-size="39.0">1</tspan></text>
<text fill="#000"><tspan x="198.2" y="782.2" font-size="38.5">–0.5</tspan></text>
<text fill="#000"><tspan x="409.2" y="822.5" font-size="33.5">0</tspan></text>
<text fill="#000"><tspan x="552.9" y="863.5" font-size="38.5">0.5</tspan></text>
<text fill="#000"><tspan x="747.0" y="903.0" font-size="34.0">1</tspan></text>
<text fill="#000"><tspan x="805.2" y="885.2" font-size="39.5">0.09</tspan></text>
<text fill="#000"><tspan x="985.8" y="767.8" font-size="39.0">0.5</tspan></text>
<text fill="#000"><tspan x="1201.7" y="608.2" font-size="37.5">1</tspan></text>
<text fill="#000"><tspan x="1157.2" y="705.1" font-size="59.0" font-family="Liberation Serif, DejaVu Serif, serif" font-style="italic">ℓ</tspan><tspan x="1182.8" y="704.8" font-size="47.0">/L</tspan><tspan x="1221.8" y="719.6" font-size="40.0">c</tspan></text>
<text fill="#000"><tspan x="42.9" y="912.0" font-size="47.0">position along switch z/L</tspan><tspan x="554.9" y="928.4" font-size="38.0">c</tspan></text>
<text fill="#000"><tspan x="604.7" y="336.7" font-size="46.0" font-family="Liberation Serif, DejaVu Serif, serif" stroke="#000" stroke-width="1">|</tspan><tspan x="618.3" y="336.6" font-size="45.0" font-family="Liberation Serif, DejaVu Serif, serif">ex</tspan><tspan x="661.4" y="340.4" font-size="47.7" font-family="DejaVu Serif, DejaVu Sans, serif">⟩</tspan></text>
<text fill="#fff"><tspan x="490.6" y="619.5" font-size="39.5">2</tspan><tspan x="515.3" y="619.8" font-size="53.0" font-family="Liberation Serif, DejaVu Serif, serif" font-style="italic">ℓ</tspan></text>
</svg>
</body></html>
